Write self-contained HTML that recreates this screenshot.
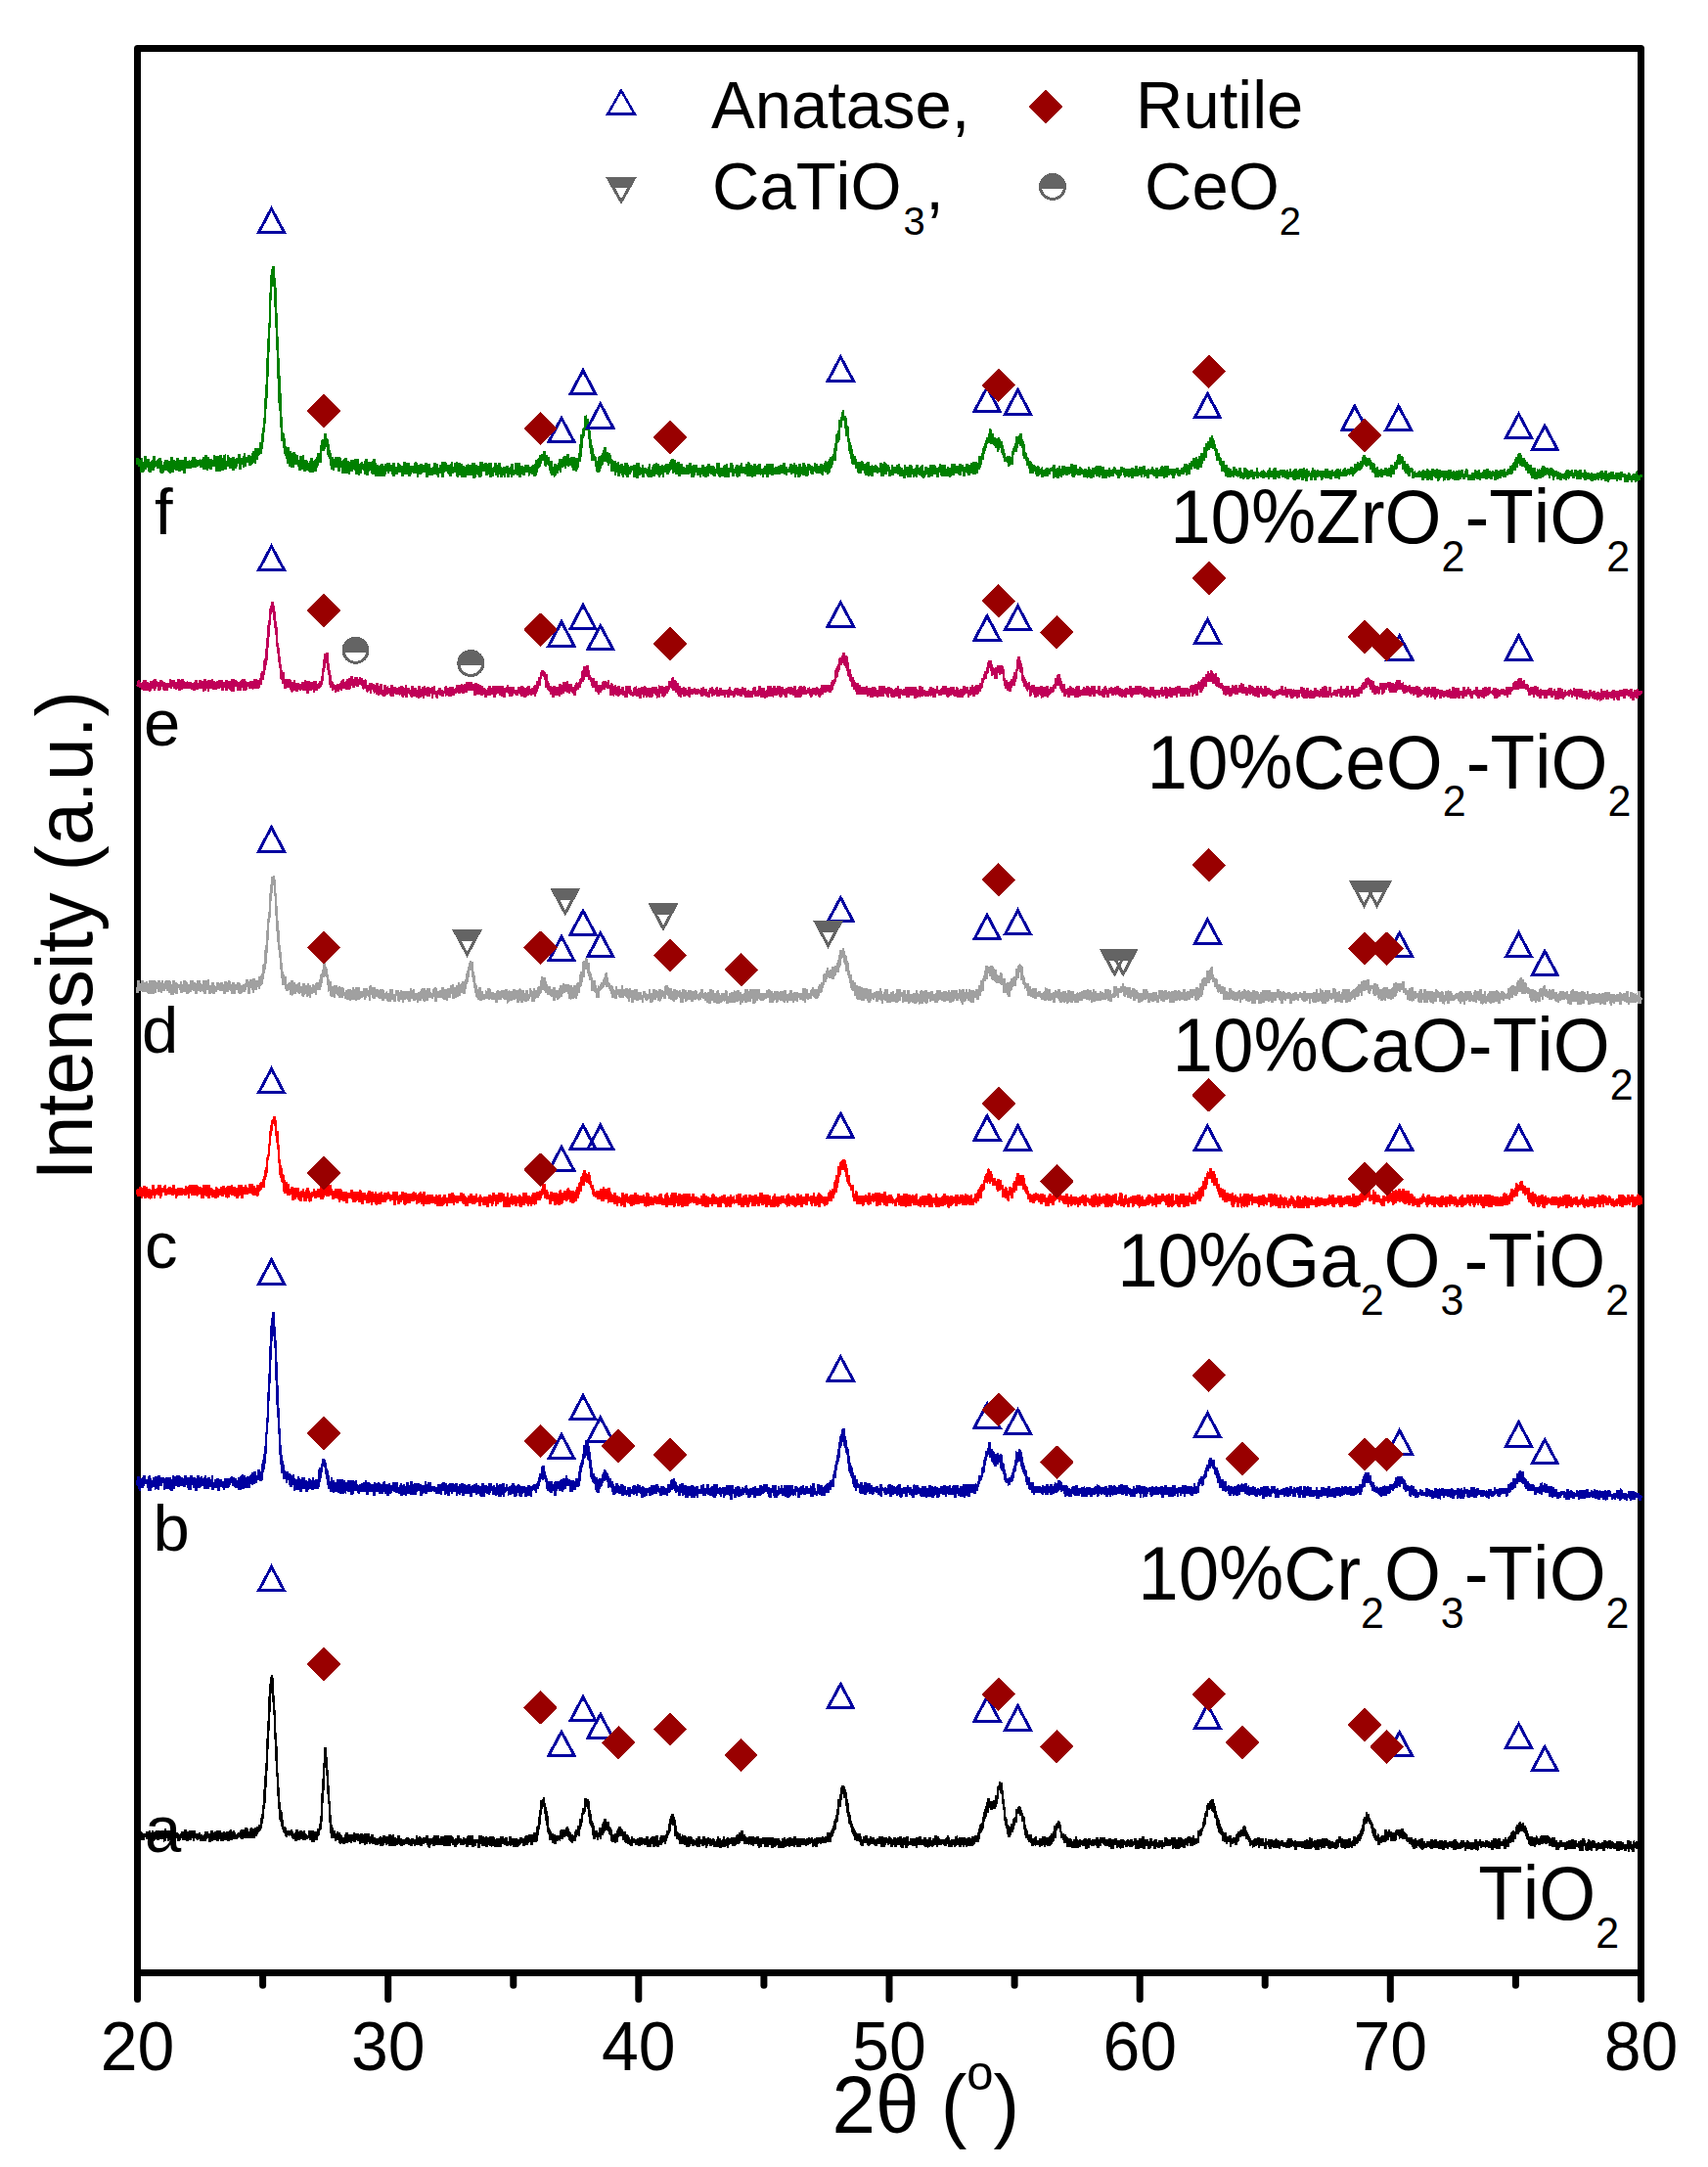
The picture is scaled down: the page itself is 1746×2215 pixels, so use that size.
<!DOCTYPE html>
<html lang="en"><head><meta charset="utf-8"><title>XRD patterns</title>
<style>html,body{margin:0;padding:0;background:#fff}svg{display:block}text{font-family:'Liberation Sans', Arial, Helvetica, sans-serif;fill:#000;font-kerning:none}</style></head><body>
<svg width="1746" height="2215" viewBox="0 0 1746 2215">
<rect x="0" y="0" width="1746" height="2215" fill="#fff"/>
<g stroke="#000" stroke-width="7" fill="none" stroke-linecap="round">
<rect x="140.5" y="49.5" width="1537.0" height="1967.0" stroke-linejoin="round"/>
<line x1="140.5" y1="2016.5" x2="140.5" y2="2043.5"/>
<line x1="268.6" y1="2016.5" x2="268.6" y2="2029.2"/>
<line x1="396.7" y1="2016.5" x2="396.7" y2="2043.5"/>
<line x1="524.8" y1="2016.5" x2="524.8" y2="2029.2"/>
<line x1="652.8" y1="2016.5" x2="652.8" y2="2043.5"/>
<line x1="780.9" y1="2016.5" x2="780.9" y2="2029.2"/>
<line x1="909.0" y1="2016.5" x2="909.0" y2="2043.5"/>
<line x1="1037.1" y1="2016.5" x2="1037.1" y2="2029.2"/>
<line x1="1165.2" y1="2016.5" x2="1165.2" y2="2043.5"/>
<line x1="1293.2" y1="2016.5" x2="1293.2" y2="2029.2"/>
<line x1="1421.3" y1="2016.5" x2="1421.3" y2="2043.5"/>
<line x1="1549.4" y1="2016.5" x2="1549.4" y2="2029.2"/>
<line x1="1677.5" y1="2016.5" x2="1677.5" y2="2043.5"/>
</g>
<g fill="none" stroke-width="2.5" stroke-linejoin="miter" stroke-miterlimit="2" shape-rendering="crispEdges">
<path transform="translate(140.5,0) scale(0.256167,0.1)" vector-effect="non-scaling-stroke" stroke="#000000" d="M0 18813 l1-59 1-6 1-43 1 57 1-9 1-6 1 24 1 3 1-42 1 5 1 12 1 33 1-4 1-53 1 5 1 53 1 24 1-47 1-19 1 52 1-41 1 29 1 24 1-26 1-16 1 19 1-40 1 14 1-11 1 10 1-8 1 9 1-6 1 14 1-1 1 7 1 32 1-86 1 81 1-44 1-29 1 30 1 8 1 28 1-61 1 37 1-3 1-52 1 14 1 52 1 2 1 11 1-16 1-3 1-8 1 31 1-59 1 20 1 16 1-57 1 84 1-61 1 21 1 60 1-82 1 9 1 60 1-76 1 19 1 27 1-2 1 4 1-6 1 29 1-9 1-12 1-37 1-1 1-34 1 74 1-73 1 78 1 28 1-84 1 11 1 6 1 38 1-48 1 21 1-12 1 9 1 45 1-66 1 30 1 5 1 17 1-61 1 70 1-20 1 13 1-24 1-49 1 29 1 42 1-21 1-2 1 53 1 6 1-58 1 56 1-113 1 0 1 83 1-33 1 24 1-2 1-18 1 23 1-15 1-49 1 51 1-1 1 47 1-86 1 34 1-13 1 9 1 51 1-37 1-24 1 17 1 18 1-51 1 21 1 53 1-19 1-26 1-13 1 10 1-40 1 72 1-16 1-6 1-41 1 16 1 35 1-8 1-22 1 29 1 13 1-46 1 5 1-10 1-9 1 57 1-9 1-5 1-43 1 4 1 29 1-10 1 15 1-24 1 39 1 33 1-8 1 2 1-45 1 25 1-37 1 38 1-37 1-4 1-5 1 39 1-12 1-3 1-39 1 37 1-46 1 85 1-46 1 9 1-9 1-43 1 6 1 39 1 44 1-75 1 12 1 19 1-48 1 0 1 37 1 10 1-9 1 56 1-50 1 17 1 36 1 4 1-96 1 36 1 45 1-74 1 13 1-10 1-3 1 7 1 38 1 31 1 7 1-44 1-57 1 57 1-8 1 19 1-14 1-48 1 65 1-71 1 39 1 29 1 0 1 36 1-104 1 68 1 10 1-30 1 29 1-51 1 52 1-4 1-44 1 10 1 14 1-14 1 49 1-25 1 33 1-4 1-32 1-8 1-21 1 4 1 0 1 33 1-35 1 28 1 4 1-20 1 9 1 48 1 5 1-70 1 17 1-6 1 4 1 53 1-25 1 16 1 15 1-65 1 7 1 7 1 29 1-32 1 21 1 15 1 0 1-22 1-36 1-23 1 79 1-20 1-40 1 12 1 2 1-36 1 56 1-30 1 15 1 30 1-24 1 18 1-3 1-12 1 1 1 53 1-60 1 52 1-74 1 48 1-16 1-26 1-37 1 104 1-79 1 6 1 32 1-3 1 7 1-16 1-36 1 69 1-51 1 33 1 10 1 17 1-41 1-3 1 3 1-48 1 32 1-8 1-4 1 38 1-15 1 55 1-3 1-99 1 58 1-33 1 46 1-11 1 23 1-19 1 14 1-32 1-49 1 24 1 10 1 11 1-15 1 76 1-53 1 43 1-48 1 58 1-84 1 53 1-57 1 51 1 34 1-94 1 23 1 32 1-13 1-34 1 73 1-33 1 37 1-29 1-43 1 20 1 54 1-80 1 26 1 31 1 12 1-6 1-67 1 101 1-64 1 6 1 0 1-7 1-22 1 18 1 48 1-78 1-20 1 74 1-7 1 12 1 30 1-72 1 26 1 9 1 21 1-6 1-55 1-16 1 32 1-39 1 80 1-44 1 1 1-16 1 71 1-37 1-20 1 30 1-21 1 21 1 21 1-46 1 23 1-2 1 20 1-16 1-17 1-20 1 28 1-41 1 50 1-17 1 15 1-32 1-8 1-4 1 60 1-40 1-1 1-46 1 51 1-58 1 99 1-48 1 9 1-44 1 10 1 50 1-24 1 19 1 24 1-19 1-76 1 27 1-4 1 6 1-33 1 1 1 37 1 3 1 33 1-25 1 52 1-97 1 12 1 48 1-15 1-22 1 52 1 8 1 5 1-51 1 11 1 7 1-6 1 28 1-46 1 24 1-71 1 81 1 26 1-51 1 32 1-83 1 40 1-38 1 55 1 6 1-58 1 15 1 6 1 78 1-64 1 5 1 6 1-3 1-19 1-34 1 18 1 69 1-44 1-22 1-32 1 37 1 1 1-24 1 45 1-50 1 9 1 27 1-23 1 23 1-47 1-12 1 22 1-14 1 24 1-34 1-22 1 5 1-5 1-68 1 17 1-20 1 33 1-73 1 30 1-96 1 15 1 11 1-72 1 17 1-137 1 34 1-32 1-49 1-88 1 30 1-138 1 55 1-72 1-28 1-96 1-85 1-34 1-55 1-19 1-89 1-30 1-52 1-19 1-178 1 10 1-4 1-41 1-83 1-19 1-18 1-9 1-37 1-7 1-14 1 40 1 84 1-65 1 103 1 73 1-24 1 111 1-30 1 120 1-10 1 12 1 114 1 112 1-32 1 94 1 3 1 59 1 101 1 30 1 75 1 72 1-40 1 61 1 67 1 103 1-39 1 28 1 63 1 80 1-55 1 34 1 34 1 44 1 58 1-84 1 4 1 73 1 26 1-69 1 57 1 60 1-37 1 40 1-2 1 22 1 0 1 0 1 35 1-52 1 26 1 34 1-49 1 9 1-8 1-3 1 89 1-41 1 45 1-32 1-18 1-9 1 18 1-7 1 30 1-52 1 34 1 10 1-20 1 1 1 25 1 2 1-19 1 4 1-16 1 34 1-19 1-42 1 39 1 29 1-10 1-34 1 50 1-4 1 1 1 28 1-54 1 28 1-25 1 38 1 7 1-20 1 8 1-45 1 43 1-54 1 95 1-24 1-80 1-16 1 100 1-63 1 41 1-56 1 42 1-22 1 38 1-27 1 54 1-66 1 61 1-39 1 17 1-63 1-4 1 82 1-67 1 26 1 2 1-18 1 33 1-47 1 7 1 63 1-52 1 47 1-3 1 26 1-31 1-67 1 35 1 7 1 49 1-26 1-25 1 28 1-24 1 28 1-12 1 28 1-22 1 19 1-29 1 21 1-26 1 24 1-13 1-11 1-8 1 4 1 22 1-73 1 97 1-95 1 54 1-5 1 31 1-15 1-9 1 2 1 26 1 30 1-48 1-72 1 47 1 25 1 46 1-83 1 11 1 27 1-7 1-51 1 68 1-69 1 31 1 47 1-81 1 28 1 59 1-60 1-26 1 12 1 40 1-76 1 25 1-29 1 4 1 69 1-49 1-19 1 17 1-47 1-29 1 58 1-27 1-75 1 25 1-4 1-63 1-34 1-95 1-6 1-102 1 53 1-92 1 1 1-123 1 7 1-134 1-4 1-7 1-40 1-40 1-73 1 101 1-18 1 33 1 25 1-20 1 68 1 102 1-51 1 94 1 18 1 129 1-4 1 6 1 59 1 15 1 20 1 34 1 73 1 14 1 67 1-10 1 53 1 65 1-78 1 11 1 79 1 39 1-81 1-19 1 49 1 1 1 39 1-51 1 27 1 0 1-37 1 3 1 63 1 4 1-39 1 74 1-19 1-13 1 6 1-6 1 11 1 5 1-23 1-60 1 55 1-19 1-10 1 54 1-70 1 79 1-43 1-18 1 11 1 85 1-14 1-53 1 40 1 22 1-79 1 18 1 37 1-16 1-22 1 60 1-32 1 8 1 36 1-44 1 44 1-49 1-15 1 9 1 23 1-6 1-9 1-55 1 12 1 24 1 30 1 22 1-101 1 54 1-9 1 10 1 10 1-31 1-14 1 70 1-7 1-36 1 9 1-18 1-21 1 61 1-40 1-14 1 16 1 66 1-35 1-6 1-4 1 23 1-3 1-61 1 32 1-12 1 25 1-9 1-55 1 92 1-26 1-59 1 85 1-30 1 10 1-13 1 4 1-19 1-34 1 31 1 23 1-5 1 19 1-22 1-53 1 78 1-45 1-16 1 30 1-30 1 51 1-38 1 86 1-65 1-9 1-3 1-36 1 30 1 4 1 12 1-45 1 57 1 37 1-51 1 12 1 13 1-36 1 11 1 41 1-22 1-42 1-17 1 112 1-46 1-60 1 51 1 16 1-17 1-59 1 109 1-35 1-23 1 26 1-26 1-4 1 36 1-83 1 87 1-17 1 10 1 4 1 20 1-4 1-15 1-37 1 32 1-33 1-14 1 42 1-2 1 24 1-93 1 77 1 2 1-16 1 41 1-70 1 35 1-20 1 10 1-27 1 24 1 24 1-15 1 7 1-32 1 70 1-68 1 22 1 16 1-23 1 28 1-17 1 45 1-34 1-5 1-34 1 37 1 16 1-17 1-39 1 11 1 9 1 8 1-41 1 95 1-58 1 6 1-16 1 12 1 58 1-84 1 13 1-16 1 14 1 61 1-62 1 5 1-40 1 42 1 17 1-21 1 3 1 35 1-7 1-18 1-21 1-21 1 93 1-94 1 65 1-24 1-16 1 47 1-47 1 58 1-66 1 44 1 23 1-65 1 84 1-31 1-84 1 100 1 15 1-63 1 1 1 17 1-66 1 60 1 22 1-43 1 48 1 25 1-114 1 5 1 32 1 40 1-8 1-38 1-6 1 13 1 71 1-76 1 11 1 45 1-36 1-21 1 70 1-32 1-29 1 8 1 38 1-37 1 19 1 19 1 3 1-82 1 40 1 5 1 13 1 19 1 12 1-48 1-18 1 37 1-23 1 68 1-40 1-9 1 27 1-48 1 9 1 5 1 24 1 19 1-15 1 0 1-29 1 18 1-17 1 40 1-51 1 16 1 9 1 15 1-44 1 15 1-17 1-15 1 70 1-18 1-57 1 15 1 45 1-34 1-13 1 66 1-50 1 4 1 27 1-36 1 21 1 4 1 17 1-43 1 53 1-21 1 42 1-45 1-23 1 0 1-17 1 32 1-1 1 28 1-23 1-27 1 55 1-42 1 19 1 34 1-6 1-57 1 18 1 41 1-9 1-13 1 10 1-84 1 50 1-33 1 23 1 7 1 25 1 20 1-11 1-15 1-19 1 47 1-29 1-58 1 49 1 15 1-42 1 34 1 38 1-52 1 6 1 1 1-27 1 14 1-16 1 20 1-14 1 51 1-32 1 28 1-61 1 36 1 17 1 4 1-38 1 14 1 6 1-14 1-2 1 28 1-50 1-18 1 39 1 23 1-63 1 94 1-36 1 14 1-41 1 23 1 54 1 1 1-36 1-26 1 5 1 41 1-59 1-6 1 23 1 30 1-58 1 41 1 1 1-7 1-8 1 31 1-11 1-59 1 90 1-33 1-5 1-19 1 2 1-46 1 47 1 24 1 0 1-36 1-36 1 22 1 24 1 46 1-83 1 47 1 17 1 1 1-21 1-52 1 72 1-14 1 13 1-44 1 13 1 57 1-45 1 3 1-21 1 58 1-85 1 33 1 28 1-14 1 27 1-13 1 30 1-49 1 2 1 12 1-60 1 93 1-66 1 59 1 9 1-12 1-23 1-25 1-38 1 73 1-24 1 56 1-58 1 26 1-30 1 25 1-23 1 5 1-50 1 34 1 16 1 41 1-28 1-44 1 83 1-37 1 23 1-58 1-31 1 35 1-8 1 38 1-53 1 19 1-13 1 44 1-32 1 67 1-17 1 1 1-30 1 13 1 18 1-50 1 61 1-39 1 39 1 21 1-12 1-77 1 67 1-44 1-2 1 5 1-28 1 41 1-28 1 53 1-23 1-67 1 29 1-1 1 9 1 1 1 25 1-10 1-27 1 44 1 15 1-27 1 34 1-22 1-28 1 5 1 11 1 16 1-10 1 24 1 5 1-64 1-5 1 30 1 17 1 13 1-9 1 0 1-44 1 37 1-30 1 31 1 14 1-46 1 13 1 64 1-80 1 8 1-17 1-11 1 70 1-47 1 2 1-5 1-34 1 79 1-37 1 14 1 41 1-44 1 8 1 1 1 32 1-77 1 23 1-41 1 59 1 17 1-30 1 70 1-29 1 29 1-53 1 48 1-68 1 28 1-7 1-16 1 61 1-10 1-58 1 40 1-17 1 3 1 13 1-32 1 20 1 3 1-26 1 3 1 40 1-25 1 55 1 0 1-77 1 29 1-68 1 40 1-9 1 4 1-36 1 66 1-4 1-28 1 21 1 29 1 19 1-85 1 85 1-96 1 27 1 12 1 56 1-27 1 0 1 29 1-38 1-19 1 55 1-49 1-30 1-13 1 55 1 49 1-32 1-20 1 35 1-78 1 55 1-28 1 55 1-64 1 48 1-18 1-5 1 20 1-24 1 46 1-49 1-51 1 99 1-2 1-24 1 25 1-21 1-44 1-33 1 27 1 22 1 24 1-57 1 15 1 71 1-65 1-1 1-6 1 75 1-24 1 3 1 23 1-21 1 11 1-28 1 14 1-7 1 2 1-54 1 28 1-3 1-8 1 18 1 53 1-26 1-25 1 7 1 31 1-76 1 46 1 37 1 4 1-26 1-10 1-69 1 33 1 19 1 12 1 0 1-68 1 42 1 23 1-30 1 16 1 21 1-6 1-4 1 16 1 11 1-41 1-22 1 10 1 6 1 14 1-42 1 21 1 15 1 48 1-25 1-19 1 30 1-21 1 2 1 24 1-21 1-6 1 17 1-37 1 17 1-58 1 45 1 56 1-55 1 10 1-12 1-18 1 44 1-16 1 33 1-57 1 27 1-11 1-7 1 49 1-53 1 0 1 79 1-60 1-4 1 19 1-42 1 39 1-44 1 20 1-3 1 55 1-21 1 35 1-6 1-69 1 36 1-28 1-6 1 53 1 7 1-39 1 6 1-2 1 0 1 1 1-40 1 47 1-39 1-15 1 31 1 12 1 16 1-14 1-2 1-29 1 31 1-5 1 2 1-30 1 71 1-28 1-3 1-17 1-11 1 35 1-67 1 25 1 5 1 25 1-26 1 51 1-94 1 97 1-37 1 18 1-43 1 44 1-40 1 17 1-51 1 59 1-13 1-60 1 53 1-7 1 33 1-44 1 25 1 31 1-64 1 81 1-49 1-14 1-34 1-14 1 80 1-44 1-6 1 48 1-13 1-18 1-51 1-17 1 84 1-34 1-11 1 62 1-75 1 17 1 44 1-49 1-43 1-18 1 54 1-86 1 53 1 12 1-66 1 15 1-39 1 27 1-52 1-48 1 16 1-25 1-43 1-6 1-50 1-6 1 33 1-97 1 57 1-21 1-30 1 59 1-29 1-44 1 29 1 27 1-74 1 69 1-4 1 35 1 67 1-70 1 26 1-10 1 63 1 32 1-67 1 130 1 21 1-98 1 31 1 78 1 2 1 47 1-33 1 61 1-73 1 65 1-18 1 7 1-32 1 49 1 60 1-56 1 17 1 15 1-30 1 40 1 11 1-21 1-47 1 103 1-42 1-2 1-4 1-11 1-32 1 49 1 7 1 25 1 19 1-71 1 70 1-46 1 15 1-48 1 39 1-39 1 47 1-58 1 38 1-15 1 22 1-5 1-4 1-21 1 39 1-11 1-42 1 44 1-44 1 19 1-8 1-3 1 24 1-82 1 91 1-96 1 89 1-24 1-67 1 54 1-24 1-29 1 71 1-5 1-25 1 38 1-48 1-14 1 48 1-64 1 47 1 10 1-28 1-3 1 12 1-6 1-28 1-42 1 52 1-28 1 78 1-42 1 24 1 18 1 12 1-57 1 87 1-26 1-6 1-45 1 87 1-34 1 17 1-41 1 67 1-9 1-47 1 61 1-87 1 60 1-6 1 2 1-43 1 12 1 39 1 3 1-35 1-8 1-9 1 56 1-47 1-13 1-43 1 0 1 17 1-31 1 45 1-2 1-26 1 13 1 4 1-58 1 70 1-90 1 114 1-114 1 38 1-21 1 14 1-47 1 30 1-78 1 63 1-46 1 10 1 8 1-85 1 6 1-18 1 7 1-4 1 5 1-29 1-25 1 12 1 6 1-13 1 24 1-95 1 23 1-58 1 18 1 41 1 21 1-58 1 35 1-9 1 19 1-2 1-15 1-41 1 26 1 73 1-4 1 80 1-51 1 43 1-56 1 7 1 64 1 61 1-29 1-10 1 35 1 19 1 6 1-2 1-23 1 8 1 29 1 21 1-28 1 99 1-25 1-28 1 46 1 43 1-49 1 4 1 28 1-69 1 27 1-4 1 49 1-72 1 63 1-23 1 6 1-8 1 62 1-71 1-11 1 44 1-28 1 31 1-20 1 1 1-2 1-57 1-13 1 117 1-102 1 47 1-55 1 26 1-12 1 49 1-58 1-47 1-2 1 48 1 12 1 30 1-6 1-112 1 37 1-38 1 44 1 15 1-85 1 84 1-5 1-30 1-9 1 74 1-54 1-26 1 42 1 35 1-6 1-77 1 25 1 35 1 24 1 6 1-37 1 73 1-7 1-57 1 24 1 32 1-38 1 52 1 9 1-15 1 34 1 41 1-72 1 38 1-25 1 61 1-6 1-36 1-18 1 43 1-26 1-34 1 6 1 25 1 64 1-28 1 7 1-15 1 11 1 1 1-81 1 48 1-2 1-7 1-6 1-77 1 63 1-51 1 67 1-48 1 4 1 3 1-62 1 54 1-34 1 68 1-45 1-18 1 74 1-45 1-18 1 28 1 0 1 17 1-34 1 67 1-19 1 44 1-28 1-42 1 66 1-36 1 15 1-60 1 26 1 82 1-4 1-82 1 64 1 3 1 28 1-67 1-18 1 62 1-28 1 4 1-9 1 64 1-60 1 54 1-9 1-37 1 49 1 9 1-26 1-17 1 30 1-44 1 36 1 31 1-83 1-14 1 74 1-47 1 12 1 18 1-23 1 22 1-33 1 13 1 14 1 19 1-29 1 22 1 8 1-4 1-17 1 41 1-60 1 53 1-2 1-2 1-40 1 43 1-14 1-46 1 24 1-28 1 48 1 30 1-13 1-56 1 0 1 24 1 1 1 26 1-31 1 42 1-47 1 46 1-72 1 27 1 17 1 23 1-10 1-40 1-13 1 37 1-1 1-8 1 10 1-38 1 53 1 14 1-55 1 1 1 60 1-5 1-53 1 3 1-31 1 64 1-8 1-5 1 56 1-61 1 1 1 11 1-12 1 37 1-37 1 9 1 53 1-73 1-19 1 39 1-22 1-1 1 24 1 19 1-69 1 38 1-53 1 85 1-56 1 49 1 33 1-13 1-27 1-70 1 112 1-67 1 35 1-38 1 8 1 53 1-94 1 12 1 27 1 40 1-90 1 95 1-48 1 31 1 38 1-43 1 16 1 8 1-49 1 13 1-10 1 11 1-15 1-8 1-3 1 40 1-61 1 40 1 38 1-82 1-11 1 70 1-44 1 2 1 39 1-11 1-29 1 9 1-36 1 25 1 12 1 16 1 0 1 31 1-57 1 28 1-25 1-43 1 34 1-4 1 4 1-12 1-19 1-39 1 9 1 8 1 2 1-6 1-24 1-2 1 13 1-50 1-35 1-39 1 35 1 9 1-41 1 51 1-81 1 11 1 7 1-40 1 73 1-53 1-8 1-14 1 96 1 20 1-63 1-3 1 42 1 25 1-4 1 43 1-37 1 106 1-41 1 30 1-34 1 50 1 29 1-65 1 32 1 33 1-12 1-33 1 16 1 35 1-4 1-26 1 32 1-66 1 63 1 28 1 0 1-38 1 21 1 0 1-9 1-19 1-18 1 24 1-18 1-20 1 91 1-78 1 23 1 1 1-32 1 59 1-59 1 100 1-91 1 17 1 18 1 1 1 4 1 34 1 8 1 24 1-93 1 67 1-10 1-29 1-28 1 94 1-19 1-86 1 96 1-31 1-7 1 17 1-41 1 14 1 32 1-62 1-5 1-9 1 71 1-53 1 21 1-5 1 32 1-7 1-34 1 64 1-28 1-2 1-23 1 4 1 3 1 8 1 11 1 1 1-20 1 3 1 25 1 14 1 1 1-37 1-36 1 41 1 0 1-2 1 12 1-29 1 18 1-62 1 110 1-51 1-9 1 24 1-22 1-14 1 46 1-23 1-21 1 40 1-7 1-2 1-19 1 40 1-58 1 50 1 20 1-70 1 32 1-58 1 53 1-51 1 11 1 45 1 25 1-16 1-21 1-16 1 24 1 56 1-16 1-80 1 19 1-21 1 59 1-25 1-36 1 39 1-9 1-16 1 20 1 35 1-53 1 17 1-31 1 28 1 52 1-24 1-37 1 3 1 53 1-40 1-10 1 47 1-44 1-9 1 33 1-49 1 25 1-11 1 27 1-8 1 57 1-33 1-19 1 16 1-22 1 15 1 9 1-5 1 27 1-23 1-37 1 28 1-40 1 88 1-109 1 50 1 18 1-42 1 14 1 43 1-65 1 62 1-33 1-4 1 67 1-34 1-11 1-18 1 13 1-11 1 57 1-47 1-27 1 8 1 26 1-43 1 10 1-25 1-13 1 114 1-61 1 57 1-34 1-7 1-40 1 31 1 5 1-30 1 47 1 16 1-22 1-7 1-55 1 104 1-33 1-56 1 0 1 14 1-9 1 30 1-27 1 29 1-17 1 6 1-27 1 40 1 3 1-32 1-25 1 49 1-54 1 29 1 35 1 23 1-45 1 18 1 28 1-69 1 18 1 20 1 30 1-75 1-1 1 62 1 6 1-55 1 19 1 25 1-36 1-52 1 60 1 20 1-68 1 74 1-51 1-47 1 58 1-56 1 84 1-29 1 37 1-108 1 52 1 37 1-10 1-19 1-10 1 7 1 9 1 23 1-110 1 23 1 14 1 24 1 7 1-22 1 11 1 28 1 15 1-57 1 19 1 12 1 60 1-76 1 32 1-6 1-11 1 44 1-28 1-10 1 20 1 8 1-26 1-1 1 56 1-49 1 46 1-31 1-19 1-8 1-16 1 70 1-1 1-31 1-19 1 17 1 20 1 32 1-56 1-29 1 56 1-17 1-14 1-29 1 70 1 25 1-71 1-13 1 28 1 8 1 24 1-13 1-52 1 57 1 0 1-24 1 24 1-49 1 29 1-29 1 39 1 22 1-76 1 53 1 21 1-14 1 41 1-48 1 64 1-59 1-37 1 31 1-16 1 55 1 12 1 2 1-27 1-26 1-13 1-15 1 53 1-56 1 29 1 14 1 6 1-53 1 4 1 2 1 58 1-57 1 6 1 45 1 9 1 28 1-55 1 28 1-78 1 70 1 7 1 3 1-41 1 55 1 6 1-46 1 1 1-11 1 1 1 8 1-36 1-3 1 31 1-7 1 43 1-33 1-22 1-22 1 41 1-20 1-21 1 107 1-110 1 104 1 9 1-54 1-16 1 32 1-45 1 31 1 16 1-59 1 81 1-42 1 6 1 30 1-79 1 4 1 45 1 2 1-18 1 3 1-3 1-22 1-9 1 16 1 25 1 9 1-48 1 87 1 7 1-52 1-29 1 18 1 28 1-26 1 57 1-64 1 35 1-12 1 44 1-45 1 2 1-38 1 17 1-31 1 95 1-55 1-8 1 6 1 11 1 4 1-68 1 89 1-36 1-3 1 55 1-45 1-31 1-2 1 48 1-21 1 3 1-42 1 43 1-24 1-4 1 61 1-30 1-17 1 37 1 25 1-99 1 72 1-19 1-9 1 42 1-16 1-37 1 49 1-42 1 4 1-38 1 39 1 16 1-27 1 11 1 36 1-41 1-15 1 67 1-70 1-38 1 20 1 29 1-28 1 3 1 19 1 8 1-2 1 8 1 31 1 26 1-22 1-15 1-40 1 24 1-34 1 31 1-32 1 63 1 25 1-29 1 30 1-90 1 58 1-29 1 8 1-37 1 29 1-2 1-17 1 53 1-11 1 14 1-51 1-3 1-14 1 57 1 5 1-29 1-21 1 25 1 11 1 2 1-23 1 40 1 5 1-64 1 36 1-7 1-40 1 21 1 23 1 28 1-56 1 9 1 5 1-6 1-30 1 66 1-31 1 21 1 6 1-33 1-15 1 8 1 6 1-10 1 16 1-34 1 28 1-5 1 24 1 7 1 39 1-18 1-15 1-19 1 1 1 9 1-18 1 8 1-27 1 35 1-38 1 12 1-2 1 72 1-53 1 24 1-65 1 53 1-25 1 36 1-39 1-23 1 55 1-21 1-40 1 36 1-26 1 48 1-18 1 6 1-39 1 67 1-56 1 24 1-16 1 10 1-38 1 38 1 9 1-49 1 68 1-61 1 12 1-3 1 53 1-49 1 2 1 22 1-6 1 28 1-47 1-6 1-6 1-1 1 43 1-8 1-26 1 5 1-58 1 83 1-13 1-77 1 43 1 11 1 45 1-38 1 27 1 7 1-28 1-54 1-15 1 28 1 28 1-15 1-57 1 57 1-55 1 11 1 36 1-34 1-27 1-15 1 18 1-1 1-22 1-29 1 31 1 1 1-72 1 45 1-52 1 1 1 27 1-82 1 23 1 45 1-21 1-78 1-30 1 62 1-47 1-13 1-73 1 39 1-68 1 28 1 56 1-33 1-1 1-64 1 0 1-37 1 66 1-90 1-39 1 25 1 45 1-57 1 21 1-56 1 25 1-21 1 7 1 33 1 33 1 51 1-38 1-48 1 10 1-3 1 57 1-17 1 37 1-17 1 102 1-48 1 48 1-20 1 88 1-97 1 79 1 42 1-31 1 45 1-19 1 51 1-24 1 70 1-94 1 87 1-29 1 14 1 42 1-27 1 8 1 48 1-45 1 35 1 48 1-51 1 70 1-64 1 47 1 2 1-40 1 72 1-63 1 91 1 9 1-62 1 26 1-6 1-34 1 21 1 26 1 5 1 40 1-50 1-1 1 40 1 5 1-29 1 15 1-22 1 13 1-55 1 11 1 79 1-45 1-12 1 48 1 42 1-25 1-18 1-11 1 55 1-2 1-43 1-16 1 15 1 13 1-20 1-10 1-3 1-25 1 35 1 16 1-47 1 14 1 54 1-52 1 35 1-43 1-24 1 67 1 8 1-12 1-8 1 45 1-51 1-15 1 31 1 23 1-20 1 20 1 16 1-68 1 20 1-4 1 25 1-64 1 74 1-68 1 52 1-21 1-3 1 29 1-53 1 53 1-27 1-30 1 68 1-64 1 54 1-30 1 1 1 51 1-31 1-15 1 32 1-38 1 60 1-63 1 33 1-31 1 37 1-46 1 23 1 23 1-57 1 32 1 18 1-27 1 4 1 31 1 5 1-70 1 19 1-29 1 54 1 19 1-43 1-11 1 48 1-27 1 74 1-16 1-96 1 73 1-1 1 2 1-22 1-40 1 44 1-18 1 66 1-34 1 19 1-66 1 30 1-6 1-19 1 12 1-31 1 48 1-30 1 30 1 7 1-18 1-13 1 42 1 0 1-37 1 44 1-82 1 57 1 9 1-15 1-45 1 47 1 27 1-17 1-45 1 40 1 48 1-14 1 7 1-44 1 23 1-22 1-1 1-28 1 31 1 29 1-25 1-56 1 69 1-48 1 47 1-38 1 68 1-51 1 35 1-71 1 36 1 9 1-44 1 23 1 1 1 18 1-1 1-49 1 81 1-16 1-35 1 45 1-36 1-9 1-22 1-17 1 64 1 24 1-14 1 0 1 38 1-98 1 63 1 38 1-61 1 60 1-64 1-7 1-38 1 70 1 9 1-7 1-11 1 14 1-26 1-44 1 58 1 8 1 40 1-68 1 16 1-54 1 0 1 17 1 75 1-37 1-2 1-17 1 22 1 18 1-8 1-19 1 8 1 7 1 9 1-10 1-18 1-32 1 44 1-3 1-4 1-9 1-21 1 63 1-49 1 16 1-12 1-22 1 55 1-64 1 44 1-12 1 13 1-30 1 58 1 7 1-17 1-33 1-25 1 96 1-113 1 21 1 44 1 5 1-49 1 46 1-53 1 60 1-9 1-11 1 31 1-22 1-65 1 79 1-15 1 19 1-34 1 28 1-30 1 22 1 13 1-42 1-1 1 19 1 21 1-12 1-5 1 14 1-8 1-40 1 67 1-2 1-6 1-79 1 84 1-67 1 31 1-6 1 53 1-19 1-28 1 14 1-31 1-14 1 49 1 3 1-20 1 44 1 6 1-63 1 20 1 7 1-68 1 87 1-5 1-17 1-12 1-11 1 50 1-57 1 30 1-14 1 40 1 5 1-38 1-3 1-36 1 5 1 40 1 2 1-11 1-35 1 6 1-31 1 52 1-53 1 1 1 25 1 55 1-62 1 52 1 37 1-36 1-4 1-51 1 25 1-39 1 65 1-3 1 25 1-38 1 8 1-34 1 37 1 22 1-20 1 8 1-20 1 11 1-10 1-28 1 22 1 24 1-11 1-14 1-21 1 39 1-29 1 9 1 24 1 12 1-47 1 5 1 33 1-30 1 58 1-22 1-25 1-34 1 55 1-19 1-48 1 17 1 20 1 24 1-75 1 53 1 8 1 55 1-51 1-2 1-6 1 10 1 7 1-24 1 21 1 39 1-60 1 24 1 37 1-76 1 21 1-18 1 42 1 8 1-18 1-14 1-2 1 8 1 27 1-21 1 33 1 14 1-65 1 56 1-10 1-39 1-56 1 30 1 48 1-74 1 91 1-62 1 32 1-26 1 6 1 18 1-42 1 27 1-8 1 36 1-51 1 89 1-10 1-84 1-2 1 21 1 25 1 8 1 2 1 5 1-27 1-32 1 6 1 16 1-12 1 82 1-72 1 48 1-14 1-46 1-16 1 29 1 18 1-18 1 41 1-49 1 0 1 27 1 49 1-35 1 30 1-65 1 44 1-18 1 43 1-67 1 17 1-30 1-9 1 54 1-6 1-44 1 55 1-31 1 4 1 53 1-31 1 10 1 12 1-35 1-19 1 51 1 6 1-93 1 17 1 1 1-1 1 60 1-47 1 1 1 12 1 9 1-19 1 9 1-54 1 42 1-29 1 20 1 36 1-30 1-16 1 37 1 12 1-39 1-43 1 61 1-47 1-34 1 36 1-41 1-3 1-25 1-2 1 45 1-89 1 72 1 0 1-12 1-32 1-43 1 28 1 12 1 12 1-48 1-73 1 27 1-21 1 43 1-18 1-18 1-23 1-60 1 38 1 32 1-75 1-6 1-25 1 20 1 16 1-78 1 63 1-51 1 96 1-88 1 19 1-73 1 84 1-30 1-18 1 60 1-51 1-9 1 61 1-61 1 38 1-39 1-11 1 87 1-35 1 24 1 0 1-26 1 15 1-30 1 0 1 30 1-76 1 60 1-33 1 28 1-38 1 73 1-26 1-50 1 36 1-95 1 6 1 56 1 26 1-68 1 14 1-31 1 35 1-84 1-48 1 15 1 19 1 5 1-49 1 53 1-94 1 56 1-41 1 21 1 0 1 63 1 26 1-107 1 67 1 37 1-24 1 43 1 21 1 48 1-31 1 72 1-13 1 29 1-3 1 37 1 25 1 79 1-15 1-2 1 8 1-15 1 73 1-58 1 26 1 60 1-36 1-2 1 97 1-85 1 26 1-25 1 50 1 31 1 31 1-18 1-22 1-17 1 36 1-39 1 19 1-65 1 58 1-63 1 27 1-49 1 11 1 79 1-44 1-47 1 61 1-109 1 52 1-45 1 48 1 0 1-45 1-13 1-19 1 44 1-34 1 45 1-62 1-14 1-47 1-10 1 47 1-38 1 37 1-20 1-43 1 2 1 46 1-7 1-1 1-56 1 37 1-29 1 93 1-67 1 17 1-2 1-10 1 54 1-26 1 32 1 24 1-5 1-1 1 43 1-9 1-29 1-16 1 35 1 52 1 47 1-51 1 33 1-28 1 66 1 39 1-73 1 36 1 68 1-69 1-5 1 32 1 17 1-12 1 11 1 40 1-57 1 66 1-48 1 51 1 12 1-31 1-15 1-17 1-6 1 64 1-70 1 51 1-10 1 43 1-43 1 56 1-42 1 64 1-69 1 0 1-16 1 65 1-46 1 41 1-40 1-27 1 81 1-5 1-45 1 39 1-82 1 77 1-30 1 17 1-14 1 13 1-10 1-8 1 11 1 10 1 19 1-19 1-24 1 13 1-5 1 64 1-91 1 42 1-39 1 48 1-31 1 18 1-18 1 41 1 11 1-17 1 7 1-13 1-68 1 26 1 39 1-21 1-30 1-15 1 36 1 67 1-73 1 60 1-56 1 45 1-10 1-41 1 5 1 1 1 36 1-62 1 42 1-17 1 67 1-86 1 46 1-5 1 35 1-13 1-75 1 94 1-63 1 24 1-72 1 98 1-44 1-2 1-18 1 45 1-96 1 47 1-26 1 18 1 44 1-78 1 17 1-39 1 55 1-32 1 31 1 13 1-122 1-7 1 30 1 17 1-35 1 38 1-27 1-47 1 37 1-33 1-13 1 32 1-4 1 32 1-67 1-3 1 76 1-25 1 10 1 2 1-34 1 17 1 55 1 2 1-3 1 39 1 28 1-43 1 31 1 18 1-28 1 4 1-23 1 70 1-15 1-5 1-20 1 54 1-75 1 71 1 16 1-34 1-27 1 1 1 57 1-27 1 27 1-41 1-13 1 93 1-85 1 50 1 11 1-32 1 10 1 4 1 41 1-51 1 18 1 35 1-77 1-5 1 39 1-8 1 34 1-3 1-25 1 22 1-26 1 57 1-17 1-36 1 54 1-45 1 21 1-49 1-7 1 81 1-60 1-16 1 5 1 46 1-38 1-14 1-37 1 40 1 30 1-21 1-4 1 70 1-34 1-31 1 30 1-42 1 45 1 27 1-51 1 44 1-50 1-26 1 29 1 3 1 30 1-20 1-23 1 7 1 11 1 15 1-44 1 11 1 16 1-25 1 59 1-31 1-32 1 8 1 55 1-46 1-13 1 47 1 12 1-77 1 53 1 43 1 6 1-26 1-11 1-53 1 54 1-35 1 5 1 30 1-41 1 9 1 65 1-33 1-66 1 25 1-11 1 42 1-39 1 27 1 5 1 13 1-11 1 3 1-7 1-23 1 50 1-25 1-23 1-15 1 40 1 25 1-22 1-42 1 22 1-17 1 20 1 32 1-18 1-6 1-13 1 4 1 15 1-57 1 41 1-43 1 83 1-58 1 55 1-68 1 91 1-25 1-16 1-15 1 1 1-1 1 34 1-9 1 10 1-39 1 5 1-39 1-7 1 57 1-23 1 21 1-7 1-4 1 6 1-53 1 47 1 15 1-9 1 10 1-62 1 75 1-6 1 0 1-8 1 7 1 13 1-37 1 9 1 17 1-52 1 53 1-36 1 6 1-5 1 25 1-40 1 68 1-51 1-6 1 63 1-41 1-44 1 47 1 22 1 17 1-12 1-28 1 60 1-62 1-42 1 100 1-14 1-13 1 31 1-30 1-26 1 11 1-34 1 36 1-34 1-4 1-18 1 42 1 17 1-30 1-36 1 20 1 23 1-5 1-6 1-18 1 80 1-44 1 8 1-6 1-35 1 68 1-51 1 10 1-13 1-17 1 37 1-28 1 25 1 10 1 36 1-85 1 83 1 4 1-60 1 19 1 26 1-59 1 72 1-87 1 57 1-13 1-27 1 4 1 19 1-9 1 3 1-4 1 32 1-14 1-3 1 5 1 1 1 27 1-34 1 4 1-23 1-19 1 15 1 14 1-30 1 66 1-57 1 31 1-23 1 25 1 16 1 16 1-71 1 61 1-46 1 57 1-77 1 20 1 16 1 37 1-32 1 28 1-20 1 13 1-28 1-4 1 10 1-2 1-11 1 1 1-42 1 7 1 21 1 8 1-19 1 90 1-83 1 39 1 14 1-47 1 37 1-17 1-23 1 50 1 6 1 29 1-26 1-61 1 61 1-78 1 36 1-46 1 76 1-20 1 49 1-25 1-37 1 28 1 7 1-46 1 4 1 20 1-57 1 0 1 58 1-9 1-8 1 72 1-51 1 28 1-25 1-9 1-12 1-29 1 42 1-14 1 35 1-42 1-1 1 23 1-48 1 23 1 22 1-8 1 0 1 11 1 3 1 51 1-60 1-20 1 52 1-18 1-17 1 49 1-92 1 60 1-21 1 21 1-1 1 1 1 11 1-40 1 4 1 43 1-27 1-10 1-17 1 27 1-32 1 74 1 14 1-38 1-38 1 50 1-72 1 60 1-22 1 31 1-42 1 21 1 23 1-35 1 46 1-49 1 6 1 47 1-53 1 9 1-19 1-5 1 60 1-27 1-39 1 16 1 15 1 26 1-8 1-6 1-45 1 87 1-69 1 17 1-13 1 44 1-27 1 11 1-21 1-8 1 15 1 9 1 7 1-1 1 3 1-82 1 61 1 9 1 13 1-43 1-21 1-7 1 19 1-19 1 40 1 31 1-57 1 8 1 3 1-13 1 62 1-61 1 54 1-35 1-28 1 27 1-1 1-27 1 16 1 43 1-21 1-54 1 76 1-7 1-3 1 48 1-112 1 58 1 17 1-78 1 77 1-30 1-25 1 77 1-26 1-48 1 28 1-39 1 99 1-97 1 44 1-16 1 54 1-35 1 2 1 13 1-26 1 29 1 25 1 6 1-114 1 62 1 20 1-15 1 28 1-39 1 30 1-63 1-1 1-16 1 67 1-5 1 29 1-37 1 8 1-32 1 58 1-32 1-2 1 46 1-89 1 46 1-9 1 12 1-2 1 10 1-66 1 43 1-27 1 25 1-41 1 56 1-5 1 34 1-96 1 16 1 26 1 1 1-50 1 20 1 17 1 31 1-5 1-13 1 50 1-11 1-19 1-12 1 17 1-20 1 46 1-89 1 30 1 2 1 10 1-29 1-33 1 44 1 49 1-59 1 31 1 2 1-16 1-18 1 8 1 46 1-33 1-9 1-14 1 8 1 32 1-4 1-31 1-3 1 30 1 0 1-31 1-42 1-43 1 19 1 28 1 10 1-23 1-17 1 46 1-40 1-26 1-16 1 48 1-42 1 21 1-11 1-11 1-13 1 5 1-58 1 43 1-38 1-12 1 5 1-20 1 6 1-31 1 72 1-121 1 41 1-32 1-33 1 40 1 25 1-70 1 49 1-98 1 40 1-45 1-20 1 9 1-8 1 30 1 36 1-31 1 22 1-62 1-17 1 66 1-1 1-75 1 24 1 27 1-19 1-33 1 55 1-65 1 125 1-44 1-44 1 77 1 17 1 5 1-27 1-37 1 23 1 94 1-56 1-8 1 22 1-29 1 47 1 33 1-17 1 84 1-74 1 77 1-12 1 45 1-31 1-61 1 29 1 52 1-25 1 73 1-81 1 80 1-28 1 32 1 19 1-80 1 47 1 37 1-4 1-39 1 29 1 17 1-5 1 34 1 34 1-28 1-51 1 13 1 52 1 12 1-47 1 6 1-40 1 97 1-37 1-11 1 38 1-6 1 29 1-65 1 33 1-35 1 31 1-14 1-25 1 15 1 45 1-38 1 21 1-55 1 68 1-67 1 43 1 18 1 55 1-52 1-33 1 12 1 24 1 3 1-23 1 36 1-7 1-42 1 29 1 9 1-53 1 11 1 32 1-14 1 28 1-6 1-33 1 43 1-29 1 18 1 35 1-82 1-28 1 72 1-48 1-4 1 49 1-46 1-51 1 94 1-51 1-22 1 32 1-11 1-32 1 45 1-66 1 40 1-23 1 25 1-7 1-46 1 5 1 66 1-30 1-2 1 3 1-22 1-56 1 33 1 6 1 11 1-61 1 109 1-63 1 47 1-79 1 75 1-33 1 66 1-53 1 65 1 5 1-65 1 8 1 12 1 25 1 14 1-31 1 19 1 14 1 24 1-39 1 37 1 9 1 18 1-46 1 60 1 9 1-30 1-7 1 17 1-27 1 12 1 31 1-34 1 3 1 4 1 10 1 26 1-1 1-64 1 38 1-3 1 27 1 8 1-41 1-3 1-43 1 72 1-2 1-15 1-35 1 33 1-9 1-9 1 15 1-39 1 23 1-35 1 63 1 44 1-101 1 64 1-15 1-12 1 37 1-62 1 48 1-22 1 9 1-44 1 43 1 19 1-12 1-53 1 82 1-20 1-2 1 13 1-36 1 45 1-19 1-20 1 9 1 26 1 33 1-74 1-40 1 65 1-34 1 17 1-6 1 29 1-12 1-27 1 13 1-12 1 14 1 3 1 29 1-64 1 75 1-65 1 45 1 43 1-61 1 42 1-29 1-21 1 51 1-79 1 60 1-25 1 30 1 2 1-11 1-16 1 32 1-65 1 63 1 7 1-50 1 21 1 9 1 23 1-32 1-11 1-4 1-17 1-24 1 91 1-6 1-9 1-35 1 40 1 9 1-40 1 14 1-49 1 44 1 39 1-16 1-3 1-10 1-32 1-15 1 9 1 18 1-6 1 29 1-59 1 58 1-60 1 37 1-2 1 30 1-35 1 5 1 12 1-25 1 51 1-43 1 9 1 31 1-24 1-10 1 33 1-9 1-27 1 53 1-59 1 56 1-9 1-28 1-11 1 28 1-75 1 15 1 76 1-55 1 35 1 6 1-47 1 54 1-68 1 36 1-3 1-52 1 92 1-77 1 9 1 56 1-58 1 41 1-21 1-1 1-11 1 14 1 13 1 10 1-33 1 50 1-29 1 21 1-36 1-19 1 95 1-75 1 59 1-22 1-21 1-12 1 0 1 46 1-51 1 35 1-25 1 0 1-4 1-20 1 54 1 7 1-12 1-41 1 6 1-4 1 44 1-36 1-4 1 23 1 1 1-6 1 18 1-45 1 68 1-58 1-11 1 61 1-64 1 29 1-27 1 68 1-26 1 25 1-41 1-35 1 88 1-8 1-43 1 11 1-20 1-37 1 32 1-23 1 40 1-4 1 24 1 29 1-27 1-30 1-12 1 61 1-96 1-1 1 1 1 99 1-100 1 53 1 41 1-42 1-53 1 56 1-6 1 16 1-34 1 10 1 40 1-27 1-23 1 34 1 9 1 11 1 9 1-81 1 47 1-46 1 42 1 56 1-51 1-2 1-29 1 11 1 26 1 9 1-13 1 48 1-104 1 71 1-73 1 81 1-31 1-28 1 23 1-20 1 34 1-58 1 71 1-4 1-27 1 9 1 29 1 13 1-35 1 2 1-66 1 28 1 28 1-16 1-21 1 34 1 42 1-6 1-91 1 61 1-29 1 48 1-36 1 13 1 6 1-27 1-25 1-7 1 66 1-38 1 11 1 30 1-16 1 26 1-61 1 73 1-31 1 10 1 36 1-37 1-21 1 16 1-4 1 7 1-25 1 29 1 21 1-68 1 49 1-26 1 27 1-31 1 52 1-31 1-24 1 2 1 12 1 25 1-10 1 26 1-51 1 6 1 18 1 38 1-51 1 28 1 7 1-81 1 33 1 19 1-11 1 23 1-3 1-51 1 4 1 4 1-36 1 0 1 55 1-12 1-33 1 27 1 10 1-8 1 49 1-35 1-53 1 77 1 12 1 11 1-28 1-14 1 38 1-23 1-22 1 22 1-41 1 34 1-53 1 43 1 56 1-80 1 8 1 7 1 21 1-52 1 12 1 12 1-4 1-26 1 69 1-1 1 21 1-37 1-39 1-6 1 14 1-29 1 30 1 35 1-18 1-8 1-11 1 60 1-37 1 17 1 36 1-75 1 53 1-11 1-42 1 20 1-18 1-6 1 53 1-48 1-47 1 98 1-31 1-37 1 10 1 26 1-29 1 17 1 28 1-35 1 11 1-8 1-8 1-33 1 57 1-59 1 21 1-54 1 40 1 8 1-39 1-1 1 68 1-29 1-56 1 42 1-33 1 19 1-50 1 23 1-2 1-28 1-20 1 66 1-76 1 37 1-52 1-21 1 24 1-72 1 29 1 23 1-73 1 20 1 15 1 10 1 21 1-12 1-35 1-70 1 69 1-7 1-13 1 14 1-42 1 65 1-23 1-42 1 44 1 27 1-15 1-1 1 42 1-22 1-1 1 16 1-1 1-4 1 13 1 41 1 8 1-11 1-34 1 49 1 29 1 11 1-54 1 62 1 6 1 7 1 37 1-105 1 44 1 0 1 82 1-43 1 42 1-39 1 12 1-12 1 44 1-42 1 22 1 24 1-29 1-36 1 1 1 23 1 76 1-71 1 32 1 19 1-47 1 26 1-29 1 36 1 1 1-56 1 39 1-21 1 33 1 10 1-33 1-30 1-2 1 60 1-13 1-11 1-22 1-14 1 31 1 5 1 30 1-33 1-26 1 52 1-122 1 46 1 45 1-34 1-6 1 18 1 38 1-58 1 61 1-76 1-8 1-5 1 15 1-33 1 57 1 19 1-31 1-23 1 21 1 16 1-39 1 36 1 59 1-61 1-11 1-12 1 65 1-51 1 16 1 57 1-67 1 27 1-4 1-33 1-14 1 86 1-19 1-43 1 57 1-72 1 6 1-30 1 37 1 6 1-29 1 0 1-22 1-5 1 9 1 53 1-33 1 3 1 38 1-13 1-16 1 10 1-41 1 0 1 69 1-1 1-25 1 24 1-43 1 4 1-7 1-40 1 4 1 44 1-29 1 23 1 67 1-45 1-14 1 36 1-11 1-17 1-22 1 66 1-19 1-16 1-18 1 42 1-18 1 0 1 41 1-27 1 39 1 13 1-41 1 13 1 2 1-5 1 23 1-24 1-1 1-13 1 40 1 12 1 12 1-30 1-5 1-30 1 49 1 17 1-6 1-9 1 46 1-49 1-27 1 19 1 26 1-11 1 57 1-59 1 21 1-38 1-10 1 55 1 0 1-73 1 66 1 3 1 29 1-44 1-18 1 10 1 28 1-52 1 44 1-14 1-14 1-18 1 30 1 33 1-11 1 15 1-80 1 62 1-28 1 42 1-22 1 48 1-72 1 25 1-61 1 113 1-86 1 2 1 35 1 41 1-65 1 46 1-59 1 67 1-26 1 18 1-9 1-22 1-6 1 33 1 1 1 13 1-18 1-20 1 7 1-15 1 2 1 20 1 6 1-13 1-15 1 24 1-52 1 58 1-4 1-37 1 10 1 40 1-2 1-29 1 16 1-71 1 84 1 18 1-66 1-36 1 61 1 27 1-43 1 47 1-19 1-16 1 19 1 14 1-26 1-42 1-9 1-10 1 11 1 79 1-13 1-55 1 63 1-62 1 41 1-4 1-25 1 12 1-13 1 16 1 30 1-53 1 43 1-48 1 79 1-79 1-7 1 29 1 0 1 2 1 15 1-50 1 86 1-63 1 10 1-10 1 11 1 42 1-36 1 17 1 43 1-23 1-16 1-54 1 62 1 4 1-28 1-44 1 39 1-17 1 57 1-21 1-5 1-31 1 2 1 43 1 1 1 17 1-32 1-8 1 18 1-45 1 21 1-9 1 41 1-62 1 18 1 17 1 14 1-17 1 13 1-17 1-25 1 35 1 35 1-39 1 0 1 8 1 6 1-10 1-44 1 70 1 21 1-71 1 6 1 25 1-19 1-46 1 112 1-81 1 63 1-48 1-5 1-22 1 35 1 9 1 35 1-38 1-6 1 6 1-24 1 42 1 13 1-31 1 10 1-7 1-19 1 59 1-71 1 48 1 3 1-53 1 50 1-66 1 70 1-71 1 80 1-29 1-57 1 15 1 12 1 5 1 0 1 6 1 14 1-33 1 23 1 8 1 59 1-51 1-32 1 33 1 32 1-13 1-36 1 35 1-71 1 53 1 16 1-39 1 57 1-46 1 5 1-33 1 29 1 5 1 5 1-34 1 22 1-2 1 17 1-24 1-3 1 69 1-11 1-74 1 63 1-58 1 27 1-2 1-5 1 1 1-7 1 25 1 19 1 10 1-102 1 104 1-60 1-36 1 43 1 59 1-12 1-4 1-60 1 70 1 1 1-2 1-16 1-41 1-13 1 1 1 21 1 1 1-8 1-11 1-35 1 39 1-11 1 43 1 17 1-23 1 10 1-10 1-11 1-27 1 5 1 22 1-35 1 63 1-32 1 8 1-11 1-15 1 10 1 30 1 1 1-24 1-7 1 14 1-36 1 26 1-29 1 17 1 45 1-20 1-38 1 11 1 26 1-39 1 34 1 42 1-35 1 25 1-32 1 42 1-40 1-2 1 32 1-49 1 5 1-3 1 17 1-13 1 64 1-94 1 54 1-40 1 26 1 32 1-52 1-37 1 70 1 21 1-38 1-18 1 2 1 24 1-25 1-36 1 32 1 17 1 0 1 8 1 17 1 28 1-85 1 54 1-25 1 2 1-44 1 72 1-80 1 42 1 71 1-70 1 34 1-45 1-3 1 41 1 3 1-32 1-13 1 11 1 11 1-23 1 57 1-51 1 6 1-11 1-15 1 51 1-35 1 30 1-12 1 59 1-36 1 35 1-116 1 59 1 16 1-52 1 40 1-30 1 63 1-53 1 0 1 62 1-66 1-29 1 45 1-39 1-19 1 48 1 6 1-64 1 70 1-80 1 38 1 36 1-19 1-59 1 23 1-20 1-32 1 74 1 37 1-94 1-26 1 30 1 27 1 3 1-44 1 54 1-63 1 27 1 47 1-52 1-10 1 11 1-30 1 4 1-35 1-12 1-10 1 58 1-65 1 50 1 48 1-39 1-45 1 28 1 31 1-68 1 57 1-91 1 16 1 69 1-73 1 87 1-60 1 28 1-13 1-27 1 59 1-24 1 33 1-72 1-12 1 62 1 3 1-3 1 31 1-6 1-59 1 14 1 24 1 24 1 0 1 19 1-62 1 89 1-28 1 14 1 42 1-24 1-31 1 10 1 56 1-32 1 22 1-20 1 62 1 7 1-66 1 11 1-6 1-13 1 87 1-3 1-93 1 18 1 58 1-23 1 33 1-52 1 67 1-90 1 58 1-25 1 16 1 22 1-33 1 1 1-4 1 68 1-97 1 36 1 35 1-62 1-8 1 53 1-66 1-3 1 60 1-14 1 34 1-50 1 48 1-42 1-18 1 65 1 3 1-67 1 14 1 12 1 13 1-19 1-11 1 57 1-37 1-54 1 9 1 11 1 48 1 1 1-62 1 67 1-23 1 9 1-11 1-45 1-5 1 71 1-65 1 40 1 11 1-33 1 36 1 0 1 28 1-47 1-8 1 5 1-35 1 46 1-32 1 25 1 18 1-11 1-40 1 69 1-21 1-29 1 26 1 50 1-51 1 2 1 27 1 7 1-27 1-35 1 28 1-18 1 78 1-27 1-22 1-51 1 41 1 55 1-21 1-21 1-48 1 55 1-12 1 49 1-36 1 19 1 22 1-51 1-16 1 13 1 38 1 43 1-33 1-41 1 76 1-66 1 24 1-19 1 37 1-51 1 23 1 24 1-29 1 7 1 4 1-50 1 52 1-40 1 16 1 0 1 5 1 33 1-40 1 39 1-23 1-12 1-1 1 17 1 4 1-30 1 29 1-14 1 8 1-5 1 0 1-21 1 78 1-24 1-43 1 2 1 2 1 51 1-71 1 60 1-40 1 2 1-23 1 55 1 22 1-22 1-36 1-37 1 46 1 23 1-52 1 44 1-31 1-13 1 0 1 78 1-49 1-32 1 24 1-38 1 10 1-3 1 60 1 22 1-53 1 57 1-62 1 65 1-19 1-6 1-23 1-46 1 55 1-17 1 20 1 16 1-11 1-18 1 25 1-18 1-21 1 40 1-32 1-8 1 51 1-38 1 11 1-40 1 46 1 47 1-46 1 1 1-38 1 48 1-70 1 15 1 34 1 55 1-34 1-37 1-35 1 63 1-66 1 0 1 47 1 0 1-43 1 21 1 30 1-18 1 21 1 14 1 21 1 9 1-27 1-21 1-6 1 65 1-61 1-4 1-19 1 72 1-32 1-39 1-30 1 29 1 15 1 9 1-31 1 20 1 27 1 25 1-18 1-8 1 45 1-59 1 25 1-63 1 9 1 17 1-8 1-24 1 22 1 16 1-31 1 65 1-32 1 29 1-27 1-10 1 10 1 3 1-16 1 31 1-20 1 61 1-10 1-59 1 50 1-25 1-11 1 41 1-77 1 31 1 9 1 21 1-46 1 22 1 5 1-24 1 42 1 5 1-44 1 50 1-50 1 23 1 8 1-15 1 31 1-60 1 27 1-21 1 78 1-7 1-57 1 21 1 14 1-34 1-47 1 34 1 12 1-17 1 12 1 8 1-8 1 32 1 6 1-58 1-2 1 57 1-6 1 16 1-49 1 39 1 5 1-21 1-3 1 23 1-80 1 66 1-3 1 15 1 8 1-32 1-16 1-7 1 50 1-64 1 15 1 7 1 33 1-49 1 15 1 12 1 18 1-20 1 41 1-47 1 20 1 11 1-41 1 29 1-15 1-6 1 6 1 36 1-67 1 39 1 55 1-101 1 55 1 48 1-52 1 53 1-59 1 23 1-24 1-16 1 44 1-10 1-53 1 50 1 14 1 6 1 0 1-7 1 24 1-78 1 5 1 35 1 18 1-5 1-39 1 29 1 16 1-31 1 15 1 3 1-16 1 60 1-57 1-16 1 53 1-51 1 51 1-53 1 41 1-25 1-9 1 7 1-50 1 2 1 78 1 31 1-93 1 18 1 44 1-29 1 22 1-66 1 62 1-38 1 52 1-33 1 22 1-13 1-28 1 67 1-39 1 15 1 39 1-44 1-46 1-21 1 14 1 56 1-52 1 22 1 0 1 31 1-18 1-2 1-20 1 2 1-25 1 31 1 45 1-49 1 5 1-28 1 53 1-41 1 35 1 30 1-62 1 62 1-36 1-31 1 67 1-87 1 65 1-21 1-2"/>
<path transform="translate(140.5,0) scale(0.256167,0.1)" vector-effect="non-scaling-stroke" stroke="#0000a0" d="M0 15181 l1-46 1 36 1-77 1 97 1-90 1 60 1-5 1-27 1 110 1-101 1 42 1 24 1-90 1 100 1-57 1 45 1-76 1-4 1 87 1-27 1-14 1 19 1-5 1-66 1-33 1 12 1-4 1-9 1 54 1 5 1 19 1 10 1-23 1 5 1 12 1-42 1 12 1 28 1-28 1 4 1 18 1 56 1-40 1-25 1-9 1 18 1 82 1-157 1 99 1-12 1 25 1-79 1 123 1-39 1-41 1 8 1-34 1 30 1-8 1 43 1-23 1-17 1 30 1-5 1-13 1-68 1 99 1-86 1 6 1 35 1 25 1 35 1-121 1 122 1 7 1-82 1 10 1-14 1-1 1-28 1-14 1 58 1 18 1 61 1-111 1-39 1 83 1-24 1 32 1-29 1-34 1 23 1 58 1-22 1-48 1 72 1-91 1 36 1 28 1-61 1 7 1 47 1-4 1-6 1-12 1-21 1 12 1 108 1-102 1 84 1-82 1 77 1-5 1-31 1-43 1-28 1 91 1-87 1 0 1 109 1-2 1-55 1-10 1-16 1 40 1-32 1-41 1 30 1 40 1-72 1 23 1 43 1 61 1-59 1-6 1 74 1-117 1 12 1 61 1 9 1-24 1-96 1 108 1-2 1-24 1 24 1 29 1-53 1-38 1-36 1 73 1-30 1 6 1-22 1 54 1 18 1-12 1-60 1 79 1-22 1-90 1 101 1-101 1 33 1 85 1-15 1-51 1-8 1 48 1-83 1 85 1-27 1 39 1-33 1-38 1 51 1-21 1-42 1 10 1 6 1 41 1 28 1-31 1-47 1 33 1 37 1 19 1-78 1 48 1-26 1-62 1 27 1 29 1 2 1 4 1-8 1 38 1-52 1-25 1 82 1-43 1 55 1-64 1 83 1-99 1 2 1 75 1 41 1-99 1 92 1-3 1-28 1-38 1-69 1 16 1 30 1 51 1-26 1-19 1 30 1-68 1 80 1-53 1 86 1-43 1-36 1 9 1-42 1 69 1-46 1 34 1 49 1-31 1 5 1 59 1-51 1 16 1-53 1-36 1 55 1-53 1-32 1 100 1-11 1-55 1 91 1-53 1-15 1-20 1 82 1-62 1-2 1 1 1-12 1-36 1 37 1-5 1 62 1-78 1 78 1-47 1-12 1 25 1 7 1 3 1 18 1-14 1-69 1 33 1 90 1-68 1-72 1 83 1 59 1-19 1-44 1 7 1 17 1-31 1-13 1 82 1-78 1 55 1-101 1 30 1-14 1 61 1-41 1-1 1-10 1 41 1 32 1-59 1 46 1-24 1-23 1 36 1 39 1-131 1 105 1 41 1-75 1 36 1 9 1-18 1-10 1 40 1-7 1-36 1 18 1-60 1 28 1 11 1-6 1-25 1 75 1-36 1 15 1-79 1 31 1-7 1 20 1 73 1 12 1-70 1 7 1-22 1-12 1 54 1-50 1-25 1 65 1-31 1 19 1-1 1 26 1-14 1 11 1-39 1 0 1 19 1-5 1 10 1-6 1 62 1-83 1 26 1-14 1 46 1-82 1-18 1 94 1-17 1-22 1-37 1 79 1-33 1-41 1 4 1-7 1 79 1-61 1-33 1 17 1 66 1-20 1-51 1-18 1 23 1 33 1-27 1-6 1 23 1-24 1-20 1-12 1 18 1 8 1 38 1-7 1-36 1 75 1-91 1 85 1-83 1 33 1 46 1 1 1-67 1 36 1-46 1 37 1 24 1-38 1 79 1-38 1 7 1-50 1 18 1 16 1 22 1-6 1-44 1-17 1-13 1 124 1-33 1 11 1-62 1 83 1-57 1-11 1-31 1-34 1 81 1-24 1-3 1-52 1-26 1 35 1 77 1 40 1-100 1 12 1-50 1 22 1 52 1-43 1 34 1 44 1-57 1-38 1 110 1-42 1-15 1 4 1-21 1 35 1-83 1 52 1-46 1 43 1 27 1-33 1 76 1-71 1-26 1 39 1-3 1 3 1-11 1-7 1 40 1-102 1 93 1-54 1 18 1-31 1 84 1-130 1 30 1 31 1 42 1-79 1 73 1 22 1-79 1-45 1 109 1-39 1 3 1 45 1-14 1-54 1 28 1-43 1 52 1-22 1 22 1-47 1 32 1 2 1 8 1-22 1-86 1 98 1-71 1 86 1-45 1-3 1-30 1 93 1-108 1 84 1 5 1 8 1-32 1-68 1-43 1-2 1-41 1 107 1-55 1-75 1 61 1-45 1 20 1-49 1-86 1 29 1 4 1-65 1-33 1-95 1-11 1-10 1-10 1-108 1-39 1 56 1-187 1-21 1-91 1-13 1-21 1-60 1-82 1-20 1-123 1-28 1-141 1 43 1-135 1 45 1-161 1 28 1-34 1-27 1-42 1 75 1-62 1-74 1 44 1 109 1-80 1 170 1-69 1-27 1 185 1-35 1 3 1 159 1-4 1 133 1 86 1 67 1 11 1-4 1 195 1 2 1 53 1-21 1 90 1 87 1 30 1 59 1-10 1 6 1 125 1 12 1 84 1 40 1-39 1 16 1 93 1 4 1-59 1 132 1-51 1-5 1-37 1 51 1 48 1 0 1 51 1-11 1-73 1 37 1 0 1-10 1 4 1-4 1 3 1 37 1 21 1 38 1-80 1 15 1-55 1 74 1 17 1-26 1 25 1-32 1 3 1-25 1 15 1-28 1 121 1-11 1-29 1-6 1 66 1-37 1-48 1 32 1 12 1-1 1 2 1-77 1 36 1-47 1 92 1-27 1-33 1 129 1-28 1-69 1 52 1-56 1 63 1-6 1-50 1 43 1 48 1-29 1-84 1 63 1 15 1-20 1 35 1-69 1-55 1 142 1-103 1 40 1-55 1 92 1-72 1 48 1-5 1 58 1 16 1-41 1 10 1-30 1-1 1-42 1 54 1-100 1 112 1-29 1-6 1 46 1-117 1 35 1 59 1-35 1 35 1-32 1-35 1 62 1-10 1 13 1 0 1 56 1-112 1 14 1 79 1-88 1 37 1 39 1-27 1 3 1-21 1-68 1 98 1 6 1-17 1-33 1 25 1 20 1-43 1-6 1-22 1 59 1-65 1 29 1 71 1-131 1 47 1 66 1-46 1 55 1-92 1 9 1 79 1-85 1 40 1-14 1 62 1-99 1 44 1 29 1 13 1-47 1 22 1-62 1 97 1-62 1 7 1 33 1-68 1-16 1 21 1 15 1-122 1-22 1 86 1-46 1-1 1 66 1-98 1-5 1 46 1-96 1 32 1-22 1 9 1-1 1-62 1 29 1-5 1-28 1 77 1-38 1-15 1-10 1 55 1-18 1 75 1 34 1-48 1 1 1 23 1 56 1-47 1 62 1-39 1-45 1 153 1-24 1-36 1 21 1 7 1 64 1-74 1 29 1-18 1-10 1 44 1 3 1-36 1 98 1-153 1 137 1-99 1 15 1 56 1 13 1 17 1-106 1 130 1-112 1 53 1 38 1-47 1-4 1 36 1-32 1-44 1 87 1 1 1-19 1-6 1 28 1-5 1 9 1-31 1-90 1 102 1-2 1 9 1 23 1-110 1-30 1 122 1-12 1-25 1-48 1 114 1-81 1 84 1-56 1 30 1-124 1 103 1-52 1-23 1 38 1 85 1-95 1-45 1 113 1-78 1 31 1 67 1-22 1-13 1 16 1-45 1-46 1 43 1-13 1 17 1-3 1 22 1 19 1-59 1 11 1 23 1 35 1-60 1-62 1 112 1-86 1 34 1-3 1 41 1-92 1 120 1-66 1 62 1-56 1 83 1-65 1-17 1-14 1-53 1 144 1-120 1 63 1 24 1-4 1-30 1-25 1 50 1-27 1-57 1 23 1 61 1 12 1-114 1 90 1-22 1 45 1-32 1-13 1 45 1 7 1 2 1-44 1 20 1 49 1-71 1-23 1 46 1-53 1 71 1-67 1 21 1 56 1-77 1 22 1 28 1-3 1-68 1 91 1-42 1 12 1 21 1 4 1-21 1 23 1-24 1-58 1-1 1 15 1-4 1 25 1-64 1 79 1 25 1 1 1-28 1-42 1 115 1-101 1 10 1 20 1-59 1 6 1 52 1 40 1-57 1 32 1 3 1-10 1-43 1 74 1-48 1-29 1-4 1 78 1-33 1-30 1 65 1-8 1-28 1-45 1 41 1 16 1-48 1 110 1-78 1-36 1-20 1 100 1-46 1 4 1-26 1 54 1-14 1-52 1 24 1-32 1 65 1-17 1 35 1-13 1 10 1-97 1 40 1-16 1-11 1 23 1 71 1-8 1 25 1-35 1-1 1-32 1 0 1-1 1-18 1-18 1 54 1 45 1-88 1-8 1 84 1-44 1-58 1 56 1-66 1 83 1-25 1-32 1 54 1-24 1 71 1-78 1 43 1-53 1 51 1 12 1 5 1 6 1-82 1 115 1-5 1-65 1 12 1 27 1-99 1 54 1 24 1 3 1 0 1-62 1 78 1-1 1-18 1-39 1-17 1 34 1 20 1-57 1 24 1 37 1-3 1-48 1-39 1 61 1-55 1 8 1 84 1-15 1-57 1 35 1 8 1 18 1 25 1-26 1-86 1 85 1-25 1 5 1 4 1-7 1-8 1 54 1 2 1 14 1-18 1-3 1-15 1-60 1 84 1-50 1 7 1-52 1 36 1 93 1-87 1 43 1 13 1-25 1-38 1 14 1 22 1-32 1-34 1 10 1 97 1-30 1-1 1 10 1-25 1-45 1 107 1-84 1 24 1-4 1 40 1-54 1-49 1 0 1 19 1 68 1 17 1-56 1-9 1 41 1-21 1-30 1-13 1 43 1 34 1 2 1-12 1-48 1 64 1-120 1 82 1 20 1-61 1-16 1 107 1-66 1 2 1 63 1-31 1-63 1 49 1-9 1 42 1 13 1-112 1 34 1 85 1-57 1-1 1-26 1 44 1-42 1 25 1-2 1-25 1-28 1-7 1 31 1 3 1 38 1-15 1 3 1-41 1 18 1-6 1-18 1-5 1 117 1-66 1 32 1-32 1-39 1 84 1-31 1-21 1-41 1 43 1 28 1 13 1-34 1-17 1-5 1 29 1-49 1 34 1-73 1 125 1-22 1-41 1-13 1 43 1-29 1-16 1 6 1 3 1-28 1 77 1-103 1 71 1-9 1-57 1 83 1-88 1 42 1-6 1 20 1-4 1 53 1-39 1-2 1 4 1 10 1-33 1 48 1-16 1 8 1-14 1 0 1 0 1-25 1 31 1 26 1-52 1 18 1 26 1-34 1-4 1 18 1 2 1 47 1-50 1 28 1-35 1 40 1 8 1 2 1-96 1 46 1-40 1 44 1-3 1-38 1-5 1 16 1 22 1 17 1 35 1 21 1-103 1 44 1-17 1 3 1-45 1 69 1-7 1-38 1 30 1-39 1-34 1 36 1 16 1-27 1 43 1 67 1-67 1-11 1-39 1 44 1 0 1 44 1-60 1-9 1 4 1 81 1-9 1-63 1 95 1-112 1 5 1 56 1-41 1-21 1-12 1 41 1-2 1 0 1-37 1 80 1-71 1 58 1 38 1-112 1 29 1 17 1 16 1-20 1-37 1 58 1-25 1 50 1-62 1-19 1 7 1 13 1 33 1 17 1-73 1 58 1-62 1 130 1-71 1-8 1-19 1 52 1 22 1-66 1 17 1-2 1 18 1-48 1 43 1-21 1 71 1-105 1 40 1 18 1 23 1-15 1-32 1 17 1 27 1-88 1 89 1-56 1 59 1 31 1-88 1 8 1 19 1-14 1 55 1-3 1-82 1-4 1 39 1-19 1 52 1 20 1-55 1-35 1 18 1 35 1-8 1-9 1-10 1 46 1-31 1 18 1 33 1-101 1 62 1-21 1-7 1 30 1-39 1-2 1 104 1-6 1-30 1-73 1 14 1-12 1 22 1 17 1 16 1-70 1 85 1-29 1 29 1-40 1 30 1-80 1 76 1-50 1 2 1 26 1-10 1-59 1 119 1-71 1 15 1-1 1-15 1 14 1 13 1-17 1-33 1 21 1 69 1-40 1-15 1 59 1-69 1 86 1-46 1-24 1-26 1 5 1-2 1 74 1 27 1-37 1-44 1 22 1-79 1 30 1 25 1 81 1-55 1 26 1-14 1-55 1 32 1-28 1-24 1 59 1 0 1 8 1 6 1-53 1-8 1 28 1 3 1 52 1-38 1-32 1 44 1-7 1-40 1 74 1-110 1 60 1 34 1-39 1 15 1-76 1 66 1 15 1-47 1 39 1-16 1 9 1 15 1-18 1 25 1-30 1 65 1-40 1-59 1 16 1 52 1 29 1-71 1 24 1-31 1 83 1-45 1-22 1 57 1-116 1 84 1-63 1 57 1-30 1-19 1 35 1-11 1 90 1-84 1 84 1-39 1-43 1-50 1 84 1-13 1-69 1 129 1-62 1-14 1 48 1-10 1-17 1-12 1 10 1-87 1 50 1 7 1 85 1-53 1-24 1 15 1-27 1 39 1-35 1 28 1-1 1-20 1-8 1-16 1-22 1 40 1-6 1 4 1 7 1 13 1-8 1-6 1 51 1 13 1-83 1 34 1 2 1-44 1 54 1-35 1 70 1-90 1 48 1-52 1-7 1 67 1-21 1 40 1-12 1-93 1 108 1-89 1 31 1-18 1 45 1-6 1-7 1 75 1-96 1 5 1-23 1 102 1-97 1 33 1-14 1 6 1 15 1-55 1 32 1 41 1-75 1 76 1-50 1 58 1-39 1-22 1-11 1 106 1-37 1-57 1 102 1-101 1-11 1 82 1-56 1 55 1-65 1 56 1-26 1 2 1 15 1-56 1 8 1 20 1-8 1 11 1 20 1-37 1-7 1 58 1 40 1-47 1 3 1-45 1-12 1 54 1 37 1-63 1 28 1-39 1-27 1 16 1-26 1 55 1-26 1 78 1-10 1-56 1 20 1-24 1 58 1 25 1-64 1-39 1-4 1 25 1 16 1-12 1-8 1 12 1 4 1-16 1-35 1 30 1-42 1 44 1-8 1 35 1-23 1-42 1 3 1 83 1-91 1 52 1-22 1-3 1 21 1-46 1 27 1-30 1 26 1-36 1-31 1 30 1-11 1-20 1-47 1 67 1-88 1 41 1-21 1 45 1-19 1 16 1-123 1 63 1-55 1 72 1 56 1-104 1 57 1-106 1 69 1 50 1-52 1 16 1 9 1 47 1-34 1 3 1-3 1 46 1 22 1-36 1 44 1-5 1 32 1 52 1-51 1-2 1-16 1-13 1-12 1 43 1-10 1 48 1-30 1 53 1-32 1-29 1 5 1-53 1 122 1-60 1-49 1 68 1-47 1 3 1 25 1-25 1 63 1-46 1-19 1 49 1-45 1 16 1 55 1 39 1-143 1 13 1 23 1 56 1-50 1 43 1-58 1 42 1-42 1-31 1 31 1 48 1-20 1 22 1-24 1-58 1 52 1 8 1 40 1-13 1-30 1-28 1 56 1-99 1 17 1-12 1 36 1 40 1-77 1 115 1-113 1 99 1-92 1 42 1-66 1 37 1-23 1 70 1-87 1 67 1 39 1-72 1-12 1 37 1-93 1 72 1 17 1-16 1-43 1 54 1 22 1 6 1-46 1 10 1-6 1-31 1 22 1-6 1 34 1 12 1 74 1-44 1-10 1-38 1 86 1-5 1-60 1-16 1 15 1 1 1-52 1 51 1-9 1 47 1-25 1-19 1 51 1-19 1-23 1-26 1-15 1 57 1-14 1-23 1 16 1-65 1 89 1-33 1 32 1-96 1 40 1-39 1 61 1 24 1-86 1 5 1 31 1-105 1 32 1-29 1 6 1-60 1-24 1-9 1 46 1-19 1 11 1-25 1-2 1-34 1-23 1 1 1-48 1 9 1-21 1 65 1-141 1 78 1-18 1-23 1-17 1-26 1-41 1 45 1 7 1-37 1 68 1-75 1 110 1 48 1-88 1 29 1 92 1-146 1 67 1-9 1 39 1 90 1 8 1-44 1 79 1-90 1 49 1 90 1 40 1-15 1 0 1-26 1 62 1-43 1 72 1-40 1 30 1-76 1 58 1 38 1-68 1 68 1 15 1-26 1-10 1 14 1-53 1 45 1 105 1-112 1 38 1-52 1 136 1-96 1 21 1 21 1-32 1 85 1-51 1-29 1-69 1 82 1-47 1 59 1-46 1-32 1 65 1-30 1-16 1-15 1 2 1-20 1 47 1-86 1 49 1-35 1 59 1-31 1 31 1-86 1-32 1 96 1-39 1-47 1 69 1 25 1-61 1 24 1-42 1 17 1 38 1-6 1-2 1-10 1 61 1-10 1 67 1-93 1 3 1 29 1-28 1-6 1 12 1 23 1 11 1-9 1 51 1 13 1-5 1-12 1-30 1 14 1-34 1 94 1 8 1 12 1-90 1 109 1-57 1 9 1 40 1-42 1-28 1 29 1-30 1 9 1 50 1-86 1-9 1 82 1-14 1-5 1 21 1-48 1 61 1-63 1 1 1 66 1-40 1 1 1-27 1 69 1-3 1-67 1 43 1-2 1-12 1-52 1 94 1-17 1-80 1 25 1 97 1-38 1-76 1 35 1 13 1-11 1 0 1-6 1 12 1 42 1-74 1 91 1-32 1-20 1 56 1-15 1-22 1 8 1-21 1 19 1 23 1-10 1-60 1 14 1 25 1-26 1-10 1 88 1-87 1 35 1-41 1 44 1 19 1-43 1 5 1 20 1-16 1-11 1 29 1-1 1-30 1 45 1-76 1 14 1 63 1 16 1-54 1-45 1 31 1 40 1 8 1-8 1 8 1-73 1 26 1 1 1 10 1 64 1-31 1-51 1 21 1-59 1 93 1-46 1 29 1 3 1-73 1 77 1-33 1 5 1-28 1 36 1 30 1 7 1-21 1-7 1 43 1-53 1 16 1 60 1-120 1 9 1 9 1 21 1-1 1 18 1 56 1-16 1-65 1 48 1-15 1-21 1 44 1 17 1-86 1 73 1-67 1 15 1 23 1-36 1 17 1 9 1 15 1-25 1 0 1-19 1 41 1 5 1-55 1 50 1 38 1-36 1 16 1-19 1-21 1-14 1 5 1 4 1-42 1 10 1 83 1-95 1 8 1-5 1 50 1-17 1 26 1-55 1 80 1-55 1-16 1 66 1 1 1 3 1-96 1 49 1 11 1-18 1-47 1 80 1-6 1-11 1-36 1 6 1 52 1-43 1 19 1 2 1-8 1 35 1-34 1 43 1 25 1-50 1-53 1 26 1 41 1 7 1-66 1 29 1-6 1-28 1 43 1-11 1 55 1-81 1 59 1-28 1 21 1-34 1-6 1 54 1 7 1-58 1 42 1-43 1 13 1 63 1-34 1-24 1 9 1-38 1 10 1 17 1-53 1 18 1 65 1-70 1 4 1 43 1 13 1-66 1 38 1-75 1-6 1 34 1 60 1-79 1 32 1 6 1-70 1 33 1 62 1-7 1-27 1-72 1 87 1 20 1-80 1 71 1-29 1-29 1 91 1 22 1-78 1 57 1-36 1 4 1-15 1 7 1-3 1 42 1-35 1 49 1-39 1-16 1 34 1 53 1-32 1 27 1-113 1 37 1-8 1 33 1 2 1-57 1 39 1 25 1 24 1-98 1 126 1-72 1 43 1-69 1 48 1 32 1 5 1-42 1-53 1 88 1-43 1 10 1 46 1-102 1 124 1-111 1 80 1 28 1-62 1 66 1-102 1 66 1-18 1-34 1 40 1-57 1-11 1 102 1-19 1-67 1-20 1 36 1-5 1 68 1-59 1 42 1-44 1-40 1 123 1-60 1-49 1 42 1 40 1-73 1-10 1 8 1 73 1 28 1-98 1 16 1 8 1 11 1 50 1-34 1-24 1 40 1-28 1-55 1 40 1 74 1-52 1-22 1 26 1-39 1 15 1-14 1 10 1 42 1-31 1 2 1 7 1-18 1 20 1 15 1-31 1-38 1 62 1-80 1 87 1-16 1-46 1 13 1 10 1-58 1 103 1 16 1-54 1 14 1-20 1 28 1 29 1-11 1-65 1 20 1 36 1-50 1-5 1 17 1 26 1 6 1-86 1 53 1 50 1-58 1 25 1 6 1 1 1-5 1-40 1 79 1-19 1-22 1 33 1-42 1-18 1 1 1 38 1 35 1-16 1-43 1-46 1 32 1-8 1 63 1 25 1-124 1 42 1 32 1 56 1-52 1-1 1 42 1-63 1-2 1-22 1 43 1-75 1 56 1-12 1 13 1 12 1 26 1-12 1-31 1 35 1-38 1-11 1 20 1-33 1 77 1-20 1-12 1 40 1 18 1-88 1 18 1 28 1-50 1 44 1-38 1 24 1 29 1-5 1-64 1 48 1 61 1-70 1-6 1 19 1 5 1-62 1 81 1-23 1-2 1-40 1 20 1-32 1 82 1-34 1-70 1 24 1 21 1 14 1-37 1 50 1-3 1 5 1-22 1 59 1-90 1-21 1 43 1 93 1 0 1-103 1-20 1 84 1-97 1 94 1-54 1 11 1-9 1 13 1 15 1-9 1-6 1 11 1-5 1 74 1-14 1-79 1 36 1 46 1-98 1 49 1-29 1 1 1 56 1-18 1-70 1 73 1-73 1 60 1 31 1-53 1 70 1-72 1-24 1 28 1 3 1 49 1-59 1 62 1-43 1-17 1 12 1 10 1-10 1-37 1 40 1 36 1-40 1 41 1-72 1 43 1-6 1 10 1-39 1 43 1-13 1 3 1-22 1-37 1 31 1-45 1 99 1-34 1 22 1-57 1 61 1-19 1 16 1-46 1 63 1-12 1 43 1-25 1-65 1 14 1 60 1-54 1-33 1 41 1 1 1 8 1 9 1-54 1 14 1 14 1 40 1-16 1-34 1 46 1-82 1 36 1-9 1 55 1-81 1 111 1-121 1 94 1-52 1-4 1 27 1-22 1 39 1 17 1-13 1-62 1 42 1 3 1-17 1 38 1-30 1 19 1 15 1 5 1-66 1 2 1 66 1-100 1 0 1-10 1 97 1-25 1-56 1 61 1-57 1 52 1-15 1-3 1 34 1-18 1-36 1-36 1 29 1 10 1-2 1-6 1 33 1 5 1-48 1 45 1-66 1 2 1 56 1-19 1 2 1 8 1-7 1 16 1 6 1 28 1-52 1-12 1 37 1 56 1-44 1-47 1 99 1-95 1 21 1 54 1-53 1 22 1-6 1-24 1 34 1-6 1-16 1-59 1 84 1-20 1-56 1 30 1-3 1 75 1-49 1 11 1 31 1 32 1-135 1 80 1 50 1-46 1-32 1 68 1-44 1-23 1 4 1 28 1 15 1-28 1-59 1 46 1-11 1-11 1 32 1-8 1-17 1 29 1-34 1 54 1-57 1 5 1-35 1 39 1-7 1 45 1-8 1 21 1 0 1-48 1-7 1 10 1 56 1-104 1 91 1-90 1 63 1-51 1 76 1-13 1 43 1-12 1-39 1 46 1-109 1 33 1-15 1 109 1-87 1-20 1-24 1 58 1 34 1 27 1-119 1 16 1 88 1-69 1 58 1-14 1-27 1-3 1 5 1 46 1-8 1-92 1 100 1-13 1 22 1-14 1-22 1-7 1-28 1 49 1-52 1 47 1 2 1-18 1 6 1-64 1 40 1-8 1 21 1-11 1-22 1 3 1 25 1-28 1 49 1 4 1 49 1-32 1-6 1-59 1 26 1-39 1 63 1-18 1 19 1 10 1-51 1 23 1-54 1 24 1 57 1-45 1 42 1-6 1-81 1 64 1-34 1 22 1-18 1 16 1 10 1 33 1-22 1-30 1 24 1-56 1 10 1 55 1 10 1-73 1 63 1-38 1-10 1 9 1 12 1 12 1 28 1-50 1 32 1-41 1 28 1 0 1-23 1 19 1 21 1 42 1-64 1-36 1 1 1 22 1 39 1-64 1 104 1-82 1 47 1-101 1 108 1-52 1-13 1 23 1 44 1-44 1 49 1-24 1 3 1-22 1 47 1-12 1-13 1-21 1 25 1-2 1-40 1 53 1-102 1 61 1 22 1-5 1-23 1-1 1-1 1 51 1-18 1-65 1 71 1-10 1-74 1 58 1-9 1 26 1 36 1-45 1 46 1-82 1 0 1 27 1-15 1-22 1 70 1 18 1-99 1 40 1 18 1-19 1-52 1 69 1-49 1 8 1 8 1 48 1-92 1 8 1-18 1 55 1 46 1-10 1-68 1 9 1 11 1-3 1 8 1 27 1-95 1 17 1-28 1 71 1-28 1-24 1 38 1-56 1 24 1-30 1 78 1-52 1 15 1-63 1-23 1-5 1 31 1-69 1 10 1 35 1 28 1-75 1-24 1-27 1-34 1 29 1-22 1-15 1-51 1 50 1-15 1-51 1 12 1-72 1 85 1-62 1-48 1-36 1 51 1-70 1 54 1-67 1-37 1 5 1 94 1-47 1-75 1 49 1-86 1 58 1-45 1-38 1 54 1-47 1 68 1-22 1 32 1 9 1 87 1-68 1 85 1-72 1 10 1 27 1 58 1-20 1 39 1 0 1-45 1 82 1-59 1 88 1-31 1 88 1-67 1 50 1 33 1-28 1 107 1-72 1-5 1 49 1-3 1 66 1-86 1 63 1-13 1 7 1 51 1-38 1-19 1 100 1 7 1-70 1 30 1 66 1-108 1 116 1-31 1 31 1-25 1 17 1 55 1-42 1-20 1-64 1 74 1 5 1 11 1-42 1 34 1 4 1-19 1 18 1-13 1 22 1-28 1-12 1 30 1 30 1 25 1-65 1 65 1 10 1-118 1 45 1 63 1-69 1 76 1-30 1-52 1 49 1 23 1-32 1 10 1 34 1-53 1 42 1-97 1 4 1 116 1-62 1-28 1 71 1-13 1-26 1 27 1-16 1-70 1 76 1-3 1-5 1-18 1 17 1 11 1 3 1-78 1 65 1-33 1 79 1-70 1 17 1 18 1-17 1-8 1-30 1 64 1-41 1 23 1 53 1-22 1 10 1-53 1-6 1 42 1-55 1 44 1-21 1-7 1 15 1-20 1 28 1-36 1 7 1-5 1 53 1-69 1 40 1 21 1-27 1 26 1 0 1-42 1 65 1-37 1 48 1-7 1-7 1-26 1-39 1 89 1-55 1-68 1 126 1-18 1-47 1-27 1 1 1-5 1 17 1 8 1 6 1-4 1 13 1-30 1 8 1 46 1-16 1-29 1 2 1-19 1 82 1-28 1-29 1-18 1 51 1-11 1-2 1 21 1-33 1-9 1-25 1 22 1-44 1 80 1-36 1 46 1-94 1 58 1 72 1-74 1 11 1 22 1 35 1-119 1 27 1 17 1-3 1 5 1 52 1-77 1 10 1 26 1-17 1-6 1-19 1 41 1 31 1-54 1 13 1-18 1-8 1 21 1 39 1-49 1-11 1 90 1-66 1 20 1-57 1 38 1 57 1-38 1-59 1 6 1 55 1-72 1 41 1 24 1-3 1 29 1 43 1-73 1 0 1-24 1 43 1 48 1-47 1-3 1-12 1 8 1 15 1-15 1 4 1 22 1-17 1-46 1-3 1 55 1-11 1-20 1 50 1 9 1-40 1 47 1-86 1-9 1 12 1 15 1-44 1 60 1-11 1-4 1 19 1-27 1 25 1 15 1 21 1-81 1 57 1-5 1-34 1 1 1 46 1 3 1-7 1-9 1 1 1-21 1-15 1 26 1 64 1-130 1 3 1 40 1 50 1-22 1-53 1 69 1-26 1 31 1-89 1 93 1-19 1-56 1 10 1 40 1 4 1-6 1-66 1 77 1 5 1-18 1 0 1 0 1-5 1-9 1-2 1-6 1-4 1 70 1-19 1-21 1-42 1 95 1-54 1 44 1-78 1 22 1 62 1-108 1 50 1 26 1 27 1-53 1 56 1-51 1 57 1-38 1-72 1 96 1-15 1-8 1 45 1-70 1 0 1-11 1-7 1-5 1 80 1-55 1 1 1-30 1 46 1-12 1 45 1 8 1-23 1-94 1 68 1 12 1 35 1-19 1-65 1-19 1 29 1-12 1 64 1-80 1 112 1-85 1 40 1 28 1-26 1-8 1-21 1 45 1-77 1 51 1-61 1 58 1 3 1-10 1 31 1-66 1 60 1-52 1-22 1 44 1 67 1-89 1 8 1-7 1 79 1-54 1 26 1-47 1-5 1 20 1 2 1 29 1-42 1 14 1-47 1 2 1 14 1 27 1-4 1 2 1 0 1-7 1 38 1 12 1-41 1 14 1 2 1-74 1 46 1 3 1 37 1-40 1-35 1 105 1-57 1-37 1 23 1 11 1-42 1 76 1-37 1-19 1 34 1-10 1 32 1 2 1-19 1-9 1-63 1 68 1-38 1 9 1-6 1 63 1-39 1 26 1 0 1 2 1 17 1-19 1-45 1-32 1 51 1-51 1 66 1-21 1-54 1 110 1-48 1 66 1-54 1-29 1 18 1 8 1-1 1 1 1 5 1-74 1 23 1 29 1 37 1-60 1 27 1 24 1-38 1 63 1-56 1-11 1 33 1-19 1 6 1-12 1-33 1 108 1-44 1-20 1 44 1-46 1-28 1 90 1-56 1 10 1 19 1-29 1-67 1 126 1-2 1-59 1 49 1-20 1-32 1-9 1-11 1-7 1 32 1-44 1 48 1-70 1 110 1-39 1-36 1 49 1 36 1-55 1 11 1-37 1 80 1-23 1-97 1 48 1 23 1 19 1-90 1 45 1-49 1 54 1 11 1-61 1 48 1 4 1-8 1 29 1-32 1 42 1-29 1-32 1 66 1 7 1-102 1 10 1 39 1-25 1 1 1 15 1-4 1 34 1-29 1-11 1-11 1 14 1-14 1-45 1 2 1 8 1 6 1 15 1-24 1-40 1-32 1 44 1-39 1 9 1 41 1-21 1-10 1-11 1 8 1-53 1-15 1-33 1 44 1 3 1 2 1-13 1-51 1 27 1-88 1 63 1-71 1 36 1-37 1 1 1 2 1-81 1 55 1-26 1-33 1 33 1-19 1 8 1 6 1-54 1 21 1 31 1-25 1 0 1 39 1-124 1 131 1 19 1-87 1 80 1-35 1-42 1 21 1 64 1-44 1-12 1 10 1 98 1-117 1 112 1-102 1 117 1 3 1-78 1 48 1 4 1-4 1 58 1-88 1-44 1 46 1-3 1 70 1-67 1 9 1 59 1-80 1-40 1 50 1-7 1 48 1-26 1 6 1-50 1 19 1 14 1 29 1 18 1-30 1 51 1-109 1 39 1 106 1-67 1 85 1-74 1 3 1 18 1 35 1-44 1 87 1-34 1 9 1 30 1 1 1 64 1-41 1 51 1-72 1 88 1-35 1 15 1 4 1-13 1 41 1-40 1-10 1 45 1-5 1-11 1 15 1 17 1-1 1-48 1-6 1-16 1 5 1 25 1-4 1-12 1 31 1-3 1-4 1-21 1-35 1 37 1 1 1-67 1 58 1-65 1-19 1-1 1-12 1 31 1-40 1 32 1-61 1 24 1-55 1-19 1 53 1-22 1 5 1-114 1 1 1 35 1 65 1-54 1-40 1 8 1 16 1 12 1-31 1-2 1-46 1 57 1 67 1-92 1 53 1-60 1 100 1-19 1-20 1 96 1-96 1 2 1 48 1 33 1 49 1-35 1-11 1 9 1 80 1-67 1 58 1-40 1 62 1-9 1-48 1 42 1 1 1 28 1 45 1-52 1 51 1-55 1 90 1-59 1 41 1-8 1-8 1-40 1 57 1 23 1 35 1-17 1 27 1-75 1 18 1-20 1 47 1 10 1 15 1 8 1-8 1-65 1 96 1-107 1 58 1 10 1-22 1 25 1 56 1-85 1 54 1 13 1-18 1 4 1-12 1 6 1-34 1-11 1 71 1-33 1 6 1-14 1 3 1 11 1-30 1 48 1-40 1 22 1-31 1 27 1-38 1 45 1 19 1-38 1-19 1 45 1-5 1 4 1 7 1 4 1 13 1-70 1 79 1-94 1 18 1 7 1 6 1 19 1 14 1 5 1-39 1-28 1 60 1-3 1 23 1-58 1 69 1-54 1 1 1-21 1-35 1 40 1 5 1 61 1-52 1 32 1-11 1-24 1-5 1-19 1 32 1-40 1 66 1-46 1 14 1-55 1 39 1 74 1-51 1 1 1 2 1 22 1-68 1 48 1 27 1-47 1 57 1-59 1 40 1-45 1-4 1 20 1-50 1 48 1-38 1 74 1-88 1 1 1 91 1-25 1-35 1 49 1-73 1 55 1-25 1 36 1-40 1 0 1-74 1 26 1 2 1-16 1 9 1 83 1-87 1 29 1 27 1 24 1 11 1 5 1-59 1 45 1-15 1 30 1-41 1 39 1-49 1-5 1 61 1-14 1 26 1-45 1 81 1-83 1-29 1 58 1 35 1-40 1 31 1-38 1-43 1 16 1 34 1 49 1-61 1 25 1-43 1 28 1 35 1-16 1 48 1-53 1 18 1 25 1-44 1 12 1 40 1-62 1 28 1-46 1 5 1-16 1-10 1 8 1 12 1 54 1-78 1 22 1 15 1 31 1 9 1-3 1 6 1 12 1-49 1 25 1-20 1 46 1-111 1 70 1 25 1-42 1 55 1-32 1-6 1-9 1 36 1-1 1-23 1-41 1 30 1 29 1-7 1-53 1 13 1 34 1-11 1-29 1 49 1 37 1-74 1-32 1 65 1-40 1 15 1 7 1-46 1 10 1 88 1-83 1 90 1-74 1 60 1-30 1-12 1-22 1 42 1-9 1-7 1 51 1-103 1 72 1-38 1 38 1-18 1 9 1-55 1 50 1 8 1 16 1-79 1 71 1-50 1-10 1 17 1-14 1 5 1 75 1-37 1 3 1-24 1-12 1 19 1 12 1-13 1 14 1-48 1 26 1 40 1-77 1 6 1 0 1 68 1-34 1-13 1-28 1 27 1 29 1-25 1-14 1-1 1 37 1 49 1-99 1-24 1 112 1-31 1-47 1 16 1-34 1 53 1-5 1 33 1-54 1-2 1 3 1 14 1 50 1-81 1 24 1 27 1-20 1-35 1 49 1-16 1 5 1 1 1-38 1 75 1-5 1-42 1 30 1 20 1-31 1-60 1 28 1 71 1-59 1 6 1 65 1-19 1-66 1 19 1-22 1 59 1-33 1 3 1 44 1-8 1-97 1 29 1 30 1 3 1 59 1-123 1 79 1-21 1 41 1-58 1-9 1 23 1 32 1-37 1-29 1 78 1 3 1-21 1-80 1 66 1-55 1 18 1 44 1-37 1 66 1-4 1-22 1-5 1-36 1 48 1-27 1 13 1 10 1-51 1 9 1 36 1 20 1-29 1-60 1 32 1 19 1-21 1-4 1 29 1 30 1-57 1 31 1-3 1-63 1 51 1-33 1 91 1-37 1-37 1 71 1-33 1-39 1 30 1 11 1-64 1 85 1-7 1-23 1-43 1-9 1 27 1-15 1-22 1 109 1-100 1 45 1 0 1 3 1 15 1-13 1 26 1 2 1-40 1-10 1-6 1 30 1 26 1 11 1-17 1 10 1-27 1 5 1 56 1-85 1 34 1 18 1-16 1-7 1-14 1 13 1-1 1-13 1-40 1 103 1-40 1-20 1 7 1-20 1 35 1 3 1-21 1 28 1-24 1-46 1 36 1-52 1 28 1 35 1-43 1-2 1 41 1 20 1-26 1 15 1-5 1-62 1 92 1-19 1-5 1-34 1 89 1-116 1 27 1 10 1 9 1-10 1 0 1 29 1-65 1 40 1 7 1 54 1 13 1-32 1-82 1 41 1 44 1-29 1 3 1-32 1 88 1-99 1 68 1-76 1 74 1-26 1-26 1 6 1 19 1 1 1 7 1-13 1-2 1-11 1 1 1 1 1-31 1 42 1-32 1 26 1 45 1-44 1 61 1-23 1 21 1-97 1 17 1 58 1-13 1-29 1 41 1-69 1 74 1-61 1 62 1-39 1-2 1 41 1-25 1 19 1-17 1-25 1-33 1 52 1-38 1 75 1-39 1 37 1-18 1-31 1 15 1-52 1 69 1-1 1-17 1-16 1-10 1 53 1-50 1 3 1 2 1 55 1-41 1-40 1-11 1 13 1-14 1 55 1 60 1-68 1-2 1-37 1 34 1-22 1 33 1 30 1-11 1-76 1 36 1-40 1 83 1-47 1 33 1-13 1 35 1-5 1-4 1 15 1-74 1 37 1-39 1 56 1 32 1 0 1-62 1 12 1-11 1 31 1-4 1-53 1 20 1 75 1-40 1-29 1 61 1-53 1 4 1-33 1 91 1-70 1 22 1-75 1 113 1-13 1 11 1-112 1 78 1 1 1-47 1 27 1-27 1 22 1 0 1-20 1 55 1-28 1-20 1 45 1 34 1-58 1 17 1-31 1 2 1 13 1-26 1 0 1-17 1 47 1 0 1 48 1-62 1-3 1-4 1 3 1-13 1 14 1 47 1-90 1 57 1-23 1 29 1 22 1-3 1-37 1-11 1 80 1-118 1 68 1 12 1-46 1 9 1 17 1-31 1 61 1-56 1 28 1 18 1-67 1 43 1 33 1-57 1 1 1 2 1 14 1 27 1-34 1-30 1 20 1 46 1 24 1-19 1-75 1 42 1 11 1-36 1 85 1-30 1-18 1-39 1 24 1 20 1 25 1-72 1 6 1-45 1 56 1 36 1-28 1 48 1-41 1 35 1-35 1 30 1-71 1 39 1-31 1 25 1 37 1-45 1-22 1-8 1-40 1 19 1 22 1-29 1-42 1 23 1 23 1 6 1-7 1-21 1-53 1 42 1 12 1 7 1 9 1 32 1-34 1-26 1-14 1 5 1-30 1 10 1-32 1 6 1 31 1-20 1-59 1 49 1-46 1 68 1-73 1-2 1-22 1 17 1-25 1 50 1-59 1-11 1 17 1-15 1 23 1-24 1-48 1 43 1 38 1-83 1 56 1-80 1 34 1-8 1 45 1-26 1 39 1-52 1 10 1 46 1-36 1 12 1-47 1 73 1 19 1-3 1 4 1-9 1 23 1-33 1 46 1-35 1 75 1-24 1-50 1 33 1 36 1 34 1-72 1 54 1-12 1 81 1-83 1-15 1 25 1 21 1 14 1-28 1 68 1 42 1 5 1-22 1 9 1-25 1-22 1-7 1 34 1 1 1-2 1-48 1 21 1 42 1 54 1-75 1 43 1-14 1 47 1-68 1-4 1-27 1 56 1-29 1 83 1-64 1 23 1-12 1 6 1 14 1-6 1 14 1-17 1 11 1 22 1-35 1-29 1 22 1 68 1-41 1-8 1-7 1 77 1-52 1 15 1-34 1-2 1-21 1 14 1 64 1-34 1-40 1 44 1 18 1-15 1 42 1-73 1 29 1 18 1-27 1-46 1 50 1 31 1-2 1 4 1-57 1 6 1 45 1 26 1-64 1-7 1-3 1-16 1 10 1-46 1 93 1-16 1-66 1 42 1 62 1-59 1-16 1 4 1 19 1-39 1 25 1 35 1-38 1-44 1 11 1 21 1-16 1 2 1-13 1 8 1 42 1-40 1 65 1-21 1-12 1 4 1-6 1 54 1-112 1 48 1 17 1-28 1 39 1-17 1 69 1-61 1 34 1-64 1 2 1 75 1-57 1 22 1 53 1-79 1 37 1-22 1 6 1 3 1-32 1 73 1-48 1 53 1-49 1 25 1-50 1 24 1 26 1 15 1-19 1-46 1 1 1 78 1-21 1-46 1 48 1-64 1 84 1-23 1-23 1 42 1-37 1-23 1 75 1-26 1 3 1 0 1 6 1-28 1-41 1 18 1 19 1-6 1-14 1 39 1-21 1 34 1 12 1-52 1 18 1-23 1-25 1 36 1-49 1 45 1 39 1-48 1-19 1 9 1 85 1 0 1-71 1 29 1-12 1-58 1 47 1 0 1 17 1-4 1-5 1 28 1 24 1-24 1-55 1 1 1-36 1 76 1-4 1-48 1 43 1-5 1-18 1-5 1 2 1 58 1-25 1-29 1 63 1-19 1-16 1 22 1-48 1 20 1-4 1 13 1-12 1-63 1 54 1-27 1 28 1-25 1 25 1-3 1-52 1 20 1 49 1 15 1-28 1-17 1 16 1 6 1 59 1-76 1 72 1-81 1 36 1-51 1 9 1 25 1-11 1 38 1 35 1-68 1 46 1-26 1-14 1-10 1 18 1-7 1 10 1 30 1-32 1-14 1 46 1-35 1-31 1 57 1-3 1 10 1-30 1-38 1 11 1 21 1-20 1 30 1 40 1-28 1-52 1 21 1 19 1-47 1 44 1 5 1-21 1-32 1 77 1-55 1 73 1-85 1 37 1 15 1-27 1-2 1-2 1-6 1 21 1 15 1 20 1-54 1 39 1-79 1 19 1 42 1-6 1 7 1-17 1 4 1-24 1 29 1-1 1-25 1 78 1-57 1-39 1 72 1-3 1 30 1-28 1-11 1-16 1-7 1-6 1-5 1-10 1 24 1-6 1-27 1-10 1 75 1-21 1 31 1-80 1 16 1 75 1 15 1-62 1 6 1-56 1-3 1 76 1-40 1 41 1-17 1-27 1 17 1 7 1 24 1-13 1 33 1 0 1-41 1-13 1 14 1-36 1 35 1-61 1 112 1-78 1 10 1 3 1 7 1-11 1 46 1 2 1-59 1 64 1-30 1-67 1 65 1 22 1-17 1 9 1-32 1 29 1-66 1 81 1 1 1-42 1-34 1 0 1 51 1-2 1 22 1-10 1-25 1 59 1-66 1 32 1-43 1 35 1-21 1 61 1-18 1-52 1 42 1-17 1-9 1-16 1 52 1-52 1 57 1-7 1-47 1-34 1 53 1 48 1 15 1-35 1-21 1-30 1 50 1 35 1-50 1-2 1-2 1 3 1 10 1-39 1 35 1-36 1 61 1-29 1-69 1 86 1-28 1 17 1 2 1-30 1-27 1 39 1 35 1-95 1 51 1-33 1 57 1-37 1 18 1 38 1-19 1-40 1 35 1-55 1 71 1 5 1-62 1 27 1 58 1-80 1 0 1-5 1-7 1 30 1-55 1 57 1 9 1 39 1-75 1 38 1 7 1-36 1 22 1 12 1-8 1 36 1-26 1-32 1-16 1-13 1 56 1 24 1-71 1 35 1 9 1-5 1-11 1 65 1-50 1 47 1-66 1 19 1-53 1 5 1 11 1 5 1 58 1-39 1 10 1 4 1-11 1 1 1-5 1-46 1 35 1 1 1 23 1 35 1-76 1 82 1-31 1-63 1 28 1 26 1-47 1 29 1-51 1 103 1-33 1-1 1 15 1-52 1 55 1-78 1 21 1 17 1 27 1-25 1-18 1-33 1 46 1-30 1 19 1 50 1-25 1 11 1 10 1 6 1-28 1-23 1-21 1 59 1-11 1-40 1 57 1-4 1-24 1 35 1-23 1-66 1 79 1 28 1-32 1 5 1-34 1 19 1 32 1-16 1-35 1 7 1-27 1 72 1-32 1 16 1-51 1 60 1-16 1-36 1-13 1 28 1-4 1-42 1 80 1-28 1 22 1-24 1-5 1 7 1 11 1-4 1-23 1-41 1 56 1-24 1 21 1 0 1-68 1 86 1-76 1 90 1-99 1 35 1-38 1 76 1-50 1-5 1 12 1-24 1-21 1-38 1 63 1 13 1-34 1-3 1-72 1 105 1-86 1-33 1 28 1 47 1-24 1 18 1-90 1 33 1 70 1-39 1-50 1 2 1 46 1-13 1 18 1-34 1-37 1 48 1 41 1 22 1-63 1-20 1 45 1 7 1 28 1 17 1-5 1 21 1-36 1-2 1 6 1 79 1-17 1-75 1 71 1-20 1-20 1 11 1 6 1-9 1 67 1-36 1-17 1 48 1-35 1 41 1-57 1 13 1 6 1 42 1-51 1 10 1 7 1-11 1 19 1 4 1-16 1 47 1-14 1-27 1 19 1 25 1 0 1 15 1-58 1-25 1 101 1-36 1-62 1 31 1-23 1 72 1-72 1 65 1-32 1-24 1 12 1-43 1 4 1 98 1-48 1-19 1-22 1 1 1 55 1-46 1 77 1-85 1 38 1-14 1-26 1 36 1-53 1 50 1 0 1 36 1-64 1 14 1 10 1-12 1 42 1-28 1-64 1 24 1 29 1-13 1 13 1-23 1-26 1 37 1 9 1-24 1-18 1 9 1 53 1-37 1-3 1-15 1-27 1 47 1-36 1-24 1 42 1-12 1 32 1-92 1 0 1 90 1-61 1 4 1 9 1-37 1 37 1-34 1 46 1-27 1-55 1 45 1 61 1-16 1-46 1 3 1 15 1-37 1 47 1-54 1 57 1-68 1 30 1 2 1 46 1-62 1-3 1 56 1-7 1-38 1 101 1-82 1 6 1 60 1-77 1 36 1-4 1 74 1-71 1 24 1 37 1 21 1-63 1 37 1-7 1-28 1 6 1 32 1 21 1-53 1 49 1-33 1-7 1 24 1-19 1 88 1-78 1 33 1 49 1-83 1-17 1-12 1 78 1 19 1-25 1 1 1-21 1-5 1-35 1 69 1 25 1-54 1 14 1-17 1-14 1 10 1 39 1 41 1-55 1 53 1-62 1-11 1 15 1 30 1-2 1 30 1-16 1-29 1 42 1-41 1-1 1-4 1 14 1 11 1-31 1 32 1-19 1-30 1 0 1 6 1 45 1-41 1-16 1 18 1 34 1-6 1 14 1-19 1-2 1 26 1-35 1 23 1 3 1-34 1 39 1-27 1-12 1 6 1 28 1-32 1 51 1-97 1 72 1-49 1 59 1 9 1-55 1-21 1 51 1 1 1-32 1 41 1-59 1 49 1 0 1 22 1-43 1 46 1-40 1-3 1 36 1-64 1 58 1-31 1 33 1 29 1-46 1 29 1-12 1-4 1-39 1 35 1-3 1 0 1-25 1 61 1-59 1-42 1 79 1 15 1-23 1-29 1 21 1-40 1 36 1-7 1-1 1 43 1-43 1 58 1-102 1 40 1 67 1-25 1-36 1-34 1-12 1 52 1-28 1 49 1-47 1-20 1 20 1 42 1-40 1-35 1 22 1-7 1 62 1-9 1 30 1-38 1-8 1-22 1-4 1 23 1-37 1 20 1 49 1-53 1 38 1 10 1-31 1-37 1 16 1 31 1-8 1 1 1 39 1-44 1-10 1 51 1-49 1 13 1 31 1-68 1 26 1-6 1 17 1 47 1-9 1-90 1 32 1 41 1-15 1-40 1 50 1 41 1-76 1-4 1 56 1-54 1 53 1-21 1-32 1 20 1-18 1 4 1 18 1 13 1-33 1 43 1-46 1 28 1-23 1 76 1-17 1-92 1 68 1-8 1-24 1-10 1 42 1-32 1 24 1-4 1 50 1-4 1-21 1-51 1-28 1 22 1 29 1 18 1-38 1 14 1-17 1 75 1-13 1-18 1 18 1-66 1-2 1-33 1 48 1-2 1 4 1-19 1 26 1 14 1-35 1-15 1 32 1-10 1-21 1 44 1 27 1-11 1-40 1 64 1-57 1-23 1 82 1-55 1 40 1-56 1 40 1-25 1-10 1 42 1 1 1-81 1 86 1-84 1 91 1-79 1 6 1 43 1-11 1 27 1-79 1 77 1 24 1-52 1-30 1 90 1-63 1 12 1-7 1 53 1-47 1-32 1 57 1-56 1 52 1-68 1 52 1-26 1 9 1 10 1 21 1-20 1-18 1 13 1-10 1 25 1-35 1-5 1 37 1 30 1-6 1-35 1 7 1-1 1 39 1-59 1-15 1 15 1 15 1 12 1-35 1 9 1 48 1-33 1 19 1 6 1-9 1-10 1 39 1-67 1 10 1 1 1 13 1-22 1 75 1-77 1 41 1-4 1 1 1-24 1 65 1-92 1 69 1-33 1 12 1 16 1-71 1 60 1-10 1 20 1-17 1 8 1-1 1 24 1-35 1 11 1-29 1-3 1 37 1-7 1-34 1 34 1-10 1-61 1 74 1-18 1 5 1 4 1-45 1 28 1-19 1-13 1 16 1 29 1-12 1 23 1 1 1 7 1-66 1 45 1-27 1 60 1-43 1-47 1 61 1-53 1 37 1 24 1-48 1 10 1-14 1 37 1-7 1 0 1-7 1-13 1-20 1 50 1-8 1-37 1 22 1 4 1 24 1-15 1 16 1-18 1 21 1-63 1 40 1-17 1 70 1-90 1 14 1 41 1 18 1-54 1-4 1 30 1-74 1 33 1-44 1 78 1 13 1-47 1-4 1 2 1 35 1-89 1 69 1-37 1 23 1-7 1-61 1 85 1-65 1-6 1 56 1-57 1-46 1 35 1-10 1 9 1 47 1 17 1-69 1 4 1-37 1 48 1-8 1-37 1 41 1-47 1 65 1-78 1-29 1 83 1-46 1 28 1 4 1-26 1 17 1-27 1-48 1 100 1-120 1 73 1-21 1 21 1-32 1-11 1-9 1 33 1 73 1-46 1-70 1 33 1-1 1 98 1-64 1-3 1 27 1-14 1 2 1 19 1 48 1 13 1-56 1 13 1-34 1 34 1 24 1 35 1-41 1-35 1 82 1-56 1-7 1-13 1 98 1-64 1-8 1 29 1-13 1 20 1-24 1 46 1 0 1-8 1-47 1 11 1 53 1-10 1-9 1-33 1 42 1-56 1 34 1 29 1-59 1 42 1-4 1-10 1 35 1-20 1 47 1 2 1 10 1-42 1-26 1 37 1-23 1-19 1 51 1-39 1-16 1 25 1 12 1-37 1 38 1 7 1 14 1-51 1 15 1 46 1-52 1-29 1 76 1-2 1-45 1-47 1-1 1 114 1-46 1-22 1-35 1 41 1-1 1-15 1 28 1-33 1 47 1-19 1-68 1 49 1 1 1-4 1 30 1 22 1-33 1 16 1-75 1 90 1-11 1-58 1 13 1 43 1-33 1-12 1 3 1 19 1 24 1-17 1 26 1-3 1 45 1-93 1 25 1 41 1-83 1 88 1 9 1-41 1 26 1 39 1-10 1-66 1 45 1-59 1-17 1 50 1 28 1 11 1-18 1 2 1 28 1-65 1 20 1-39 1 77 1-43 1 11 1 40 1-31 1 42 1-28 1-17 1 53 1-73 1 61 1-45 1 1 1 31 1-17 1-18 1 51 1-57 1 3 1 21 1 7 1 6 1-27 1 1 1-29 1 35 1-11 1 9 1-1 1-7 1-9 1 8 1-1 1-16 1 22 1 40 1-56 1 38 1 17 1-44 1 14 1 24 1 32 1-76 1 9 1 58 1-99 1 51 1-28 1 54 1 0 1-34 1 62 1-67 1-13 1 38 1 22 1-65 1 11 1 53 1-77 1 12 1 11 1-7 1 29 1-9 1-13 1 31 1-22 1 55 1-50 1 19 1-32 1 38 1-5 1-24 1 4 1 20 1 10 1-26 1-2 1 23 1 5 1-63 1 33 1-21 1 22 1-6 1-19 1 23 1-3 1 66 1-87 1 74 1-22 1-27 1-31 1 31 1 46 1-59 1 68 1-62 1 43 1-68 1 53 1-6 1-4 1-39 1 33 1-4 1-42 1 34 1 61 1-8 1-64 1 17 1 20 1 18 1-19 1-37 1-14 1 35 1-3 1-2 1-41 1 85 1-37 1 2 1-20 1 53 1-28 1-9 1 29 1 7 1-33 1-25 1 38 1 0 1-30 1 11 1 9 1-7 1-36 1 32 1-6 1 35 1-56 1 77 1-38 1 9 1 6 1-30 1 38 1-41 1-34 1 52 1-25 1 45 1-21 1 43 1-86 1 75 1-26 1 31 1 2 1-36 1 8 1-20 1 35 1-19 1-26 1-20 1 89 1-41 1-5 1-7 1-34 1 50 1-43 1-3 1 36 1-40 1 45 1 21 1-37 1 10 1 8 1-22 1 28 1-2 1 43 1-96 1 23 1 1 1-13 1 86 1-50 1-52 1 56 1 24 1-38 1 54 1 3 1-56 1-35 1 22 1 21 1 13 1-15 1-26 1 35 1-60 1 74 1-28 1-27 1 23 1-29 1 55 1-13 1 10 1-16 1 1 1 16 1 4 1 15 1 1 1-12 1 2 1-36 1 8 1-6 1 4 1 20 1-29 1 20 1 45 1-58 1 6 1-15 1 16 1 14 1 9 1-15 1-35 1-22 1 59 1-20 1 26 1-29 1 5 1 43 1-86 1 51 1-26 1 31 1-17 1 67 1-80 1 29 1-55 1 1 1 19 1 20 1 18 1-26 1 24 1 9 1 27 1-61 1 48 1 6 1-13 1-3 1-26 1 33 1-20 1 49 1-76 1 20 1 48 1-7 1-13 1 32 1-71 1 38 1-22 1 23 1 5 1-16 1-12 1 19 1 5 1-61 1 2 1 71 1-2 1-72 1 26 1 10 1 56 1-68 1-15 1 50 1-53 1 45 1-22 1 51 1-87 1 56 1-6 1 16 1 21 1-59 1 28 1 7 1-4 1-14 1-35 1 21 1 16 1-13 1 28 1-18 1 26 1-15 1 8 1-41 1 17 1-2 1 3 1 11 1 34 1-7 1-16 1 1 1 3 1 31 1-50 1 23 1-16"/>
<path transform="translate(140.5,0) scale(0.256167,0.1)" vector-effect="non-scaling-stroke" stroke="#ff0000" d="M0 12155 l1 51 1-28 1 18 1 32 1-29 1 29 1-17 1 22 1-90 1 9 1-17 1 65 1-29 1 41 1-21 1-6 1 66 1-50 1-22 1-34 1 77 1-8 1-73 1 34 1 13 1-66 1 48 1 60 1-107 1 74 1 50 1-89 1 7 1 24 1 11 1-4 1-68 1 27 1 30 1-14 1 51 1-52 1-2 1 79 1-69 1-32 1 35 1-8 1 34 1-9 1-27 1-2 1-5 1 67 1 23 1-73 1 22 1-7 1-31 1-1 1 3 1-52 1 41 1 43 1 16 1-40 1-6 1 37 1 48 1-104 1 6 1 12 1 35 1-49 1 46 1-41 1 45 1-31 1-4 1 44 1-72 1 15 1 52 1 1 1-20 1-78 1 96 1-12 1-25 1-57 1 100 1 33 1-44 1 29 1-70 1 29 1-30 1-17 1 28 1-21 1 6 1-1 1 12 1 4 1 15 1-50 1 56 1-76 1 65 1 1 1-74 1 60 1 51 1-23 1-34 1-2 1 30 1-5 1 24 1-24 1 28 1-18 1-42 1-9 1 18 1 34 1-45 1 62 1-86 1 46 1-23 1 44 1-6 1-11 1-38 1 12 1 8 1 59 1-58 1 40 1 15 1-62 1 12 1-53 1 57 1 40 1-59 1 45 1 16 1-14 1-28 1 23 1-33 1 9 1 85 1-89 1-7 1 30 1 4 1 17 1-54 1-10 1 3 1 61 1 12 1-66 1 8 1 18 1-33 1 16 1 50 1-77 1 57 1 28 1-80 1 76 1-38 1-19 1 50 1-28 1-12 1-12 1-9 1 10 1 11 1 36 1-35 1 18 1-24 1 30 1-19 1 47 1-36 1-69 1 54 1-12 1 50 1-33 1 30 1-5 1-50 1 13 1 13 1-39 1 108 1-52 1-64 1-6 1 55 1-18 1-42 1-6 1 62 1-17 1 31 1-18 1 44 1-104 1 86 1-50 1-5 1 68 1-102 1 65 1-9 1 55 1-94 1 65 1 5 1-17 1 4 1-9 1-47 1 33 1-50 1 102 1 1 1-84 1 93 1-50 1-48 1 28 1 47 1-24 1-35 1 62 1-32 1-9 1-27 1 62 1 12 1-68 1 27 1 1 1 16 1-44 1 110 1-62 1 23 1-43 1 83 1-56 1-80 1 100 1-38 1-35 1 35 1-30 1 57 1-4 1-71 1 73 1 14 1-108 1 118 1-23 1 6 1 22 1-53 1-29 1 43 1-19 1 22 1-87 1 57 1 85 1-57 1 22 1-23 1-25 1 42 1-3 1-38 1 6 1 30 1-51 1-2 1 71 1-1 1-48 1 63 1-25 1-16 1-33 1 46 1-48 1 17 1-20 1 66 1-38 1-4 1 23 1 47 1-33 1-92 1 55 1 4 1-23 1-15 1 96 1-33 1 6 1-20 1 18 1-12 1-12 1-13 1-28 1 10 1 24 1-30 1 44 1-44 1 60 1-78 1 62 1 34 1-15 1-50 1 67 1-46 1 12 1-15 1-61 1 83 1-5 1 12 1-62 1 63 1-53 1-19 1 5 1 44 1-21 1 69 1-26 1 12 1-46 1-33 1-18 1 49 1 53 1-1 1-104 1 68 1 15 1-60 1 36 1-26 1 31 1 2 1-20 1 7 1-20 1 28 1-76 1 89 1 20 1-85 1 40 1 28 1-46 1 1 1 22 1 28 1-76 1 59 1 10 1-67 1 54 1 46 1-52 1-6 1 57 1-71 1 16 1 54 1 15 1-101 1 31 1 24 1 29 1-29 1-38 1 50 1-100 1 76 1 22 1 12 1-23 1-68 1 85 1-54 1 3 1 58 1-113 1 142 1-38 1-1 1-38 1 31 1-4 1-13 1-63 1 70 1-7 1 24 1-19 1-5 1-4 1-60 1-13 1 63 1-21 1 42 1-60 1 24 1 45 1-26 1-31 1 51 1-11 1-47 1 14 1 30 1-14 1-3 1-10 1-54 1 89 1-6 1-18 1-60 1 49 1 14 1-8 1 3 1-69 1 94 1-2 1 3 1 23 1-40 1 40 1-93 1 69 1-34 1 59 1-70 1-1 1-4 1 40 1-46 1 59 1-5 1-26 1 2 1-29 1 91 1-40 1-73 1 79 1-78 1 50 1 10 1-36 1-11 1 32 1 5 1-15 1 4 1-68 1 47 1-38 1 37 1-47 1 4 1-10 1 15 1-1 1 0 1 21 1-65 1 89 1-83 1-24 1 31 1-38 1-13 1 14 1-68 1 75 1-106 1 11 1 53 1-15 1-48 1-89 1 22 1-28 1-22 1-8 1 6 1-2 1-48 1-67 1 14 1-15 1 3 1-85 1-17 1-30 1-42 1 43 1-59 1 44 1-20 1-50 1-4 1-37 1 16 1-11 1 41 1-70 1 68 1-12 1-6 1-56 1 19 1 56 1 22 1-41 1 144 1-45 1 9 1 50 1-32 1-24 1 98 1-1 1 56 1 30 1-48 1 56 1 91 1 45 1-39 1 29 1 29 1 17 1 87 1 6 1-75 1 29 1 72 1-8 1 28 1 1 1-46 1-5 1 2 1 39 1 50 1-27 1 102 1-127 1 57 1 55 1 36 1-101 1 50 1 20 1-97 1 107 1-21 1-18 1 54 1-31 1-27 1 79 1-71 1 71 1-120 1 110 1-43 1 22 1-2 1 33 1-67 1 25 1-3 1 30 1-17 1 12 1 4 1-74 1 54 1 13 1 5 1 65 1-43 1 19 1-63 1 47 1 37 1-82 1-6 1-31 1 8 1 109 1-114 1 50 1 33 1-22 1 4 1-13 1 40 1-87 1 38 1 12 1-66 1 42 1 20 1 62 1-77 1 65 1-68 1 87 1-75 1 52 1 33 1-35 1 17 1-90 1 58 1 6 1-33 1 17 1-49 1 23 1-28 1-9 1 81 1-55 1 41 1 55 1-27 1-62 1 13 1-14 1 24 1 63 1-4 1-77 1-31 1 88 1-110 1 93 1-93 1 88 1-8 1-23 1-26 1 60 1-2 1-12 1 66 1-79 1-10 1 70 1 21 1-94 1 15 1-10 1 27 1 20 1-55 1 17 1-26 1 42 1-17 1 24 1-23 1 14 1-65 1 36 1 6 1 22 1-46 1 20 1 54 1-20 1-41 1 22 1-12 1 20 1-19 1-24 1 37 1-61 1 79 1 11 1-5 1-82 1 43 1 36 1-24 1 2 1-8 1 23 1-37 1-55 1 69 1 61 1-48 1-5 1 48 1-103 1-10 1 20 1 31 1 48 1-27 1-45 1 55 1-44 1-1 1-20 1-29 1 24 1-29 1-43 1 45 1 81 1-61 1-44 1 59 1 68 1-77 1 77 1-51 1-98 1 91 1 61 1-51 1-62 1 61 1 37 1-107 1 66 1 9 1 29 1-52 1-17 1 58 1-9 1-13 1-13 1 51 1-48 1 91 1-81 1 62 1-7 1-21 1-20 1 48 1-35 1-35 1 38 1 13 1-78 1 106 1-107 1 78 1-11 1-59 1 55 1-29 1 53 1-36 1 32 1 6 1 28 1-72 1 94 1-134 1 33 1 23 1-43 1-3 1 76 1-74 1 35 1 58 1 12 1-54 1 40 1 2 1-9 1-29 1-24 1-17 1 101 1-32 1-23 1 2 1 31 1 5 1-35 1-36 1 68 1-43 1-38 1 102 1 19 1-54 1-13 1-2 1-8 1-5 1-13 1 0 1 10 1 16 1 7 1 13 1-54 1 58 1-56 1-1 1 53 1-79 1 58 1-64 1 49 1 41 1 6 1-68 1 2 1 93 1-40 1 36 1-105 1 107 1-37 1-58 1 48 1 50 1-32 1-63 1-14 1 99 1-53 1-19 1 12 1-8 1-26 1 43 1 18 1-62 1 90 1-67 1 40 1 18 1 1 1 22 1-114 1-7 1 13 1 36 1 37 1-58 1 4 1 20 1-4 1 96 1-110 1 101 1 10 1-78 1-1 1 2 1-19 1 3 1-25 1 60 1 19 1-60 1 57 1-46 1-9 1 29 1-16 1 72 1-10 1 0 1-19 1-75 1 26 1 16 1 67 1-91 1 72 1-112 1 53 1 4 1 53 1-3 1-31 1 11 1-64 1-16 1 104 1 31 1-34 1-53 1 35 1-84 1 58 1-5 1 60 1-36 1 25 1-83 1 40 1-19 1 59 1-20 1-3 1-77 1 133 1-75 1 14 1 69 1-17 1-46 1 18 1-72 1 18 1 55 1-45 1 8 1-42 1 27 1 1 1 5 1 82 1-67 1 7 1 36 1-51 1 35 1-91 1 54 1 33 1-45 1 44 1-30 1 35 1 17 1-47 1-33 1 5 1 38 1-5 1-55 1 93 1 8 1-43 1 10 1 0 1-44 1 33 1 13 1-18 1-41 1-7 1 29 1-1 1-3 1-42 1 57 1-8 1 13 1-42 1 66 1-19 1 30 1-58 1 53 1-16 1-24 1 18 1-34 1 26 1 3 1-2 1 12 1 15 1-62 1 53 1-82 1 29 1 111 1-48 1-27 1 75 1-108 1 27 1-33 1 56 1-42 1-39 1 17 1 25 1 47 1-8 1 12 1-14 1-34 1 87 1-87 1 38 1-39 1 7 1 6 1-24 1 64 1-33 1 38 1 11 1-21 1-18 1 13 1-40 1 36 1-82 1 35 1 58 1-83 1 66 1 15 1-26 1-31 1 64 1 39 1-22 1-104 1 117 1-86 1 78 1-54 1 23 1 29 1-86 1 84 1-47 1 24 1-28 1-5 1-41 1 40 1 39 1-63 1 81 1-25 1-74 1 49 1 17 1-20 1 19 1 22 1-48 1 31 1-24 1-28 1 52 1-36 1 9 1 37 1-96 1 89 1-8 1-9 1 13 1-9 1 6 1-72 1 40 1 24 1-14 1 11 1-34 1 92 1-60 1 24 1 7 1-49 1-1 1-19 1 53 1 32 1-23 1-74 1 87 1 4 1-30 1-67 1-11 1 44 1-29 1 67 1 33 1 4 1-15 1 4 1 2 1-32 1-36 1 97 1 0 1-137 1 116 1-34 1-31 1 75 1-84 1 22 1 9 1 45 1-66 1 29 1-26 1 31 1 39 1-9 1-39 1-1 1-51 1 96 1-39 1 43 1-38 1-6 1-6 1-53 1 84 1-1 1-51 1 40 1-12 1-25 1-7 1-20 1 14 1 74 1-9 1-26 1 35 1-32 1-21 1 34 1-25 1-3 1 27 1-56 1 85 1-32 1-35 1 46 1-68 1-10 1 40 1 22 1-34 1-18 1 107 1-53 1-49 1 24 1 44 1-34 1-41 1 109 1-9 1-108 1 81 1-4 1-52 1 18 1-14 1 41 1 46 1-57 1-18 1 67 1-58 1-27 1 7 1 6 1 39 1 10 1 5 1-4 1-90 1 78 1-63 1 52 1-3 1-29 1 7 1 1 1 27 1-4 1 54 1-52 1 9 1-5 1-19 1 37 1-58 1 35 1-33 1 16 1-54 1 11 1 78 1-20 1 15 1-32 1-22 1 50 1 16 1-71 1-41 1 55 1 16 1-55 1 11 1 64 1 24 1 13 1-68 1 28 1-21 1-29 1 16 1 43 1-62 1 13 1 21 1-23 1-15 1 27 1 57 1-33 1-42 1 43 1-27 1 33 1-16 1-44 1 21 1 29 1 0 1-21 1 27 1-48 1 14 1 8 1-59 1 87 1-43 1 24 1-34 1 62 1-34 1-10 1 59 1-61 1-37 1 105 1-64 1-19 1 24 1 57 1-29 1-45 1 34 1 67 1-39 1 11 1-58 1 10 1 75 1-81 1 29 1 14 1-2 1-33 1 40 1-49 1-24 1 54 1-13 1-21 1 17 1-43 1 57 1 26 1-104 1 32 1 12 1-22 1 51 1 43 1-46 1 44 1-43 1 10 1-31 1 27 1-44 1 80 1-84 1 4 1 42 1-37 1 48 1-1 1-13 1-68 1 57 1 10 1-6 1-4 1-20 1 9 1 31 1-1 1-35 1 41 1 17 1 3 1-44 1 73 1-124 1 75 1-16 1-8 1 0 1-18 1 27 1-14 1-5 1 3 1-5 1 40 1 21 1-49 1 16 1 45 1-89 1 55 1-36 1 29 1 9 1 27 1-73 1 52 1-37 1 49 1-80 1 80 1 20 1 8 1-27 1-40 1-24 1 54 1-13 1-75 1 14 1 63 1-23 1-50 1 16 1 14 1 48 1 1 1-4 1-22 1 1 1-8 1 68 1-110 1 73 1 7 1-22 1-84 1 71 1-1 1-27 1 8 1 8 1 31 1-43 1 38 1-52 1 108 1-123 1 49 1-34 1 1 1 50 1 32 1-71 1 40 1-32 1 46 1-98 1 89 1-32 1 4 1-5 1-44 1 88 1-16 1-45 1 16 1 1 1-55 1 69 1 21 1-20 1-5 1-54 1 33 1-32 1 33 1 32 1 66 1-80 1 7 1-16 1 4 1 48 1-57 1 21 1 21 1-54 1 105 1-88 1 24 1 42 1-64 1-55 1 77 1 20 1-25 1 33 1-29 1 59 1 0 1-54 1 38 1-58 1 35 1 14 1-72 1 48 1-82 1 31 1-9 1 76 1-61 1 88 1-90 1 12 1-24 1 48 1-21 1 12 1 21 1-18 1-25 1-16 1 46 1 59 1-19 1-38 1-27 1 54 1-24 1-28 1 4 1-5 1-15 1 31 1-14 1 24 1-19 1-39 1 60 1 57 1-108 1 57 1-41 1 38 1 61 1-29 1-61 1-5 1 8 1 38 1-33 1-25 1 48 1-82 1 47 1 75 1-66 1 9 1-31 1 3 1-13 1 10 1-15 1-20 1 65 1-32 1 71 1-14 1 1 1 19 1 5 1-61 1 61 1 23 1-47 1-68 1 36 1 12 1-26 1-10 1 84 1-59 1-2 1 34 1-55 1 100 1-64 1 6 1-63 1 29 1 51 1-27 1-8 1-6 1 24 1-81 1 122 1-21 1-1 1-100 1 74 1 46 1-68 1-23 1-31 1 36 1 43 1-88 1 16 1 72 1-73 1 40 1-4 1 29 1-65 1 27 1-38 1 80 1-66 1 72 1-96 1 19 1 53 1-43 1 6 1-40 1 3 1-19 1 21 1 30 1 7 1-20 1-92 1 107 1-8 1-34 1-1 1-65 1 43 1 70 1 34 1-55 1-30 1 29 1 25 1-50 1 45 1 21 1 26 1-54 1-18 1 42 1-13 1 10 1-8 1 26 1-23 1 44 1-25 1-16 1 86 1-40 1-16 1-21 1-51 1 91 1 6 1-49 1 36 1-34 1 29 1 5 1-34 1 7 1 40 1-46 1-32 1-10 1 59 1 68 1-56 1 16 1 11 1-30 1 49 1-117 1 62 1 53 1-40 1 32 1 3 1-43 1-59 1 20 1 45 1 57 1-62 1-86 1 67 1 2 1 4 1 14 1-96 1 144 1-34 1-13 1-13 1-54 1 28 1 77 1-46 1-2 1-28 1-10 1 15 1 36 1 0 1-10 1-79 1 30 1 7 1-33 1 60 1-58 1 103 1-57 1-12 1-35 1 25 1 65 1-116 1 44 1 62 1-117 1 74 1-34 1 74 1-74 1-15 1 46 1 74 1-78 1 23 1 4 1-38 1 21 1 6 1 26 1-20 1-8 1-54 1 135 1-78 1-3 1 36 1 32 1-55 1 7 1-53 1 41 1 8 1-41 1 44 1-69 1 103 1-117 1 86 1-74 1 51 1 28 1-120 1 54 1 0 1-54 1 22 1 62 1-97 1 25 1-47 1 7 1 54 1 22 1-101 1 68 1-10 1-103 1 85 1-71 1-9 1-4 1 3 1 27 1 19 1 17 1-103 1 120 1-109 1-42 1 93 1-5 1 21 1-10 1 9 1-80 1 19 1-8 1 37 1-33 1 79 1-32 1 9 1-39 1 2 1 10 1 20 1-73 1 41 1 73 1-11 1 22 1-24 1-13 1 36 1-18 1 51 1-19 1 17 1 16 1-41 1 4 1 14 1 19 1 64 1-60 1 4 1 54 1 21 1-30 1 27 1-35 1 8 1 0 1 33 1-25 1 0 1-34 1 2 1 35 1-7 1 48 1-48 1 34 1-26 1-33 1-5 1 31 1 17 1-50 1 83 1-15 1 7 1-28 1 20 1-8 1-86 1 40 1 88 1-94 1 44 1 6 1-18 1 9 1 53 1-141 1 16 1 109 1-25 1-60 1 83 1-96 1 0 1 29 1-18 1 18 1-28 1-5 1 21 1 48 1-64 1-1 1 63 1-33 1 89 1-1 1-98 1-43 1 32 1 57 1-35 1 67 1-81 1 26 1 27 1 53 1-88 1 56 1-15 1 10 1-21 1 4 1 16 1 6 1-46 1 41 1 8 1 29 1-47 1 75 1-123 1 7 1 30 1 27 1 48 1-27 1 1 1-13 1-40 1 102 1-33 1-56 1 21 1 3 1 32 1-1 1 0 1-39 1 37 1-18 1-28 1 27 1-15 1 2 1 22 1-43 1 98 1-47 1-11 1 25 1-40 1 50 1-119 1 79 1-29 1-35 1 99 1-2 1-52 1 61 1 22 1-88 1 36 1-6 1-49 1 2 1 56 1-90 1 47 1 27 1 4 1-35 1 21 1 33 1-14 1 23 1-9 1-9 1-53 1 25 1 0 1 34 1-46 1-23 1 31 1-44 1 45 1 78 1-124 1 113 1-104 1 22 1 24 1-5 1 2 1 23 1 22 1 19 1-77 1-23 1-27 1 59 1-25 1 24 1-59 1 105 1 2 1-25 1 10 1-75 1 63 1-5 1-38 1 73 1-73 1 18 1 45 1-41 1 37 1-32 1-34 1 19 1-19 1 18 1 15 1 22 1 15 1-78 1 39 1 3 1 39 1-12 1-19 1-35 1 29 1-37 1-10 1 70 1-41 1-11 1 61 1-29 1 69 1-7 1-28 1-37 1-17 1 89 1-75 1-65 1 69 1 7 1 10 1-83 1 136 1-60 1 14 1 7 1-14 1 24 1-27 1 48 1-74 1-13 1 4 1 54 1 2 1-57 1-3 1 23 1 12 1-16 1 64 1-74 1 17 1-20 1 24 1 8 1-15 1 5 1-41 1 68 1-37 1 3 1-5 1 43 1 7 1-20 1-41 1 48 1-45 1 13 1-29 1 17 1 62 1-44 1-16 1 62 1-48 1 20 1-66 1-6 1-6 1 64 1-69 1 83 1 26 1-40 1-13 1 29 1-46 1 77 1-42 1 17 1-34 1 60 1-13 1-44 1 39 1-22 1-18 1-26 1 33 1-50 1 99 1-73 1 94 1-128 1-9 1 4 1 102 1-83 1 79 1-41 1-19 1 26 1 20 1 15 1 13 1-73 1 63 1-27 1 8 1 30 1-45 1 20 1 25 1-106 1 32 1-22 1-27 1 66 1 49 1-26 1-31 1 61 1-3 1 23 1 2 1-58 1-19 1 8 1 36 1-105 1 59 1 43 1-46 1-3 1 15 1-15 1-28 1 38 1 19 1 38 1 13 1-54 1-24 1-52 1 117 1-46 1 16 1 8 1-12 1-16 1 3 1 29 1-84 1 64 1 4 1 57 1-86 1-6 1 23 1 24 1-66 1 73 1-11 1-79 1-2 1 103 1-40 1 58 1-69 1-57 1 51 1-13 1 50 1-31 1-55 1 5 1 51 1 65 1-53 1 33 1-108 1 80 1-4 1 17 1-28 1-65 1 50 1 11 1 36 1-26 1 17 1-38 1 41 1-13 1 2 1-19 1 14 1 9 1-5 1-80 1 62 1 38 1-6 1-50 1 42 1-35 1 35 1-43 1 34 1-43 1 34 1 6 1 2 1 5 1 46 1-71 1 34 1-32 1 38 1-8 1-44 1 51 1-12 1-19 1 0 1 52 1-41 1-6 1 28 1-12 1 9 1 6 1-77 1 57 1 32 1-22 1 16 1-6 1 31 1-54 1-3 1-71 1 103 1 18 1-55 1-3 1 44 1-80 1 24 1-27 1 111 1-44 1-55 1 63 1-23 1 9 1 55 1-88 1 89 1-115 1 36 1 12 1-26 1 5 1 59 1-54 1 30 1-19 1 18 1-10 1-31 1 37 1 16 1-17 1 44 1-12 1-98 1 8 1-23 1 26 1 48 1-51 1-13 1 27 1 67 1-59 1 18 1 37 1-61 1-4 1-3 1 73 1-9 1-10 1-34 1 37 1-12 1-38 1 98 1-57 1 1 1 18 1-10 1 24 1-60 1 37 1-65 1 49 1 64 1-38 1 38 1-86 1-9 1 41 1-63 1 62 1 15 1-32 1 18 1-35 1 36 1-6 1 13 1-64 1-16 1 10 1 43 1 3 1 38 1-40 1-6 1 81 1-106 1 27 1 24 1 10 1 9 1-15 1-21 1-19 1 78 1-59 1 41 1-78 1 15 1 23 1 72 1-20 1-12 1-100 1 102 1-38 1 12 1 17 1-64 1 36 1-15 1-25 1 29 1 15 1-54 1 25 1 52 1-41 1 30 1-1 1-14 1 5 1-1 1-13 1 32 1-24 1-45 1 20 1-41 1 54 1-24 1 42 1-70 1 96 1-54 1-51 1 119 1-62 1-19 1 27 1-68 1 52 1-10 1 5 1 70 1 4 1 18 1-85 1 7 1-14 1 27 1 14 1-45 1 95 1-72 1 14 1-61 1 63 1 0 1-42 1 77 1-54 1-49 1 5 1 52 1 6 1-12 1 40 1-7 1 22 1-83 1 13 1 86 1-64 1-34 1 25 1 50 1-74 1 49 1-79 1 53 1-26 1 17 1-11 1 24 1-45 1 42 1-12 1 28 1 26 1 29 1-100 1 21 1-38 1 40 1-6 1-28 1 56 1 6 1-66 1 62 1 44 1-68 1-42 1 3 1 60 1 19 1-26 1 0 1 1 1 3 1-43 1 81 1 19 1-39 1-44 1 34 1-45 1 22 1 41 1-31 1 12 1-91 1 23 1 82 1-30 1-75 1 127 1-56 1-22 1 73 1-11 1-72 1-14 1 94 1-21 1 7 1-32 1-26 1-23 1 23 1 63 1 9 1-50 1-34 1-6 1 115 1-65 1-61 1 69 1 30 1-66 1-11 1 36 1 48 1-41 1-57 1 53 1-20 1 15 1 8 1 30 1 5 1 27 1-62 1 6 1 5 1-18 1 70 1-20 1-82 1 60 1-33 1 60 1-39 1-64 1 77 1 44 1-74 1-63 1 129 1-85 1 64 1-41 1-29 1 21 1-31 1 32 1 25 1-54 1 82 1 20 1-108 1 85 1-42 1-41 1 38 1 11 1-38 1 20 1 5 1 45 1-46 1 18 1 9 1 3 1-43 1-26 1 50 1-26 1 35 1-60 1 42 1-4 1 38 1-20 1-4 1 27 1-43 1 1 1 13 1 32 1-2 1-15 1-23 1 51 1-91 1-2 1 38 1 63 1 6 1-56 1-73 1 60 1 30 1-71 1 19 1 85 1-71 1 49 1-69 1 10 1 19 1 32 1-29 1-3 1-18 1 60 1-82 1 60 1-60 1 92 1-91 1 34 1-32 1 59 1 45 1-70 1 60 1-65 1 86 1-56 1-9 1-5 1 16 1 40 1-25 1-54 1-18 1-29 1 93 1-51 1-43 1 55 1 64 1-87 1 29 1-40 1 83 1-42 1 23 1-44 1 6 1 27 1-66 1 132 1-6 1-49 1-32 1 44 1 10 1-65 1 0 1 23 1 1 1-24 1 38 1 21 1 8 1-23 1 20 1-59 1 1 1 23 1-39 1-29 1 115 1-88 1-33 1 58 1 11 1-13 1-11 1 11 1 11 1 19 1-15 1-12 1 19 1-24 1-17 1 47 1-57 1 31 1-29 1 27 1 79 1-85 1 23 1 30 1-55 1 56 1-51 1 17 1-73 1 81 1-10 1 28 1-59 1-4 1 55 1 43 1-96 1 16 1 76 1-65 1 6 1 28 1-16 1 1 1-69 1 65 1-6 1-45 1-31 1 143 1-42 1-93 1 52 1 11 1-31 1 12 1 56 1-41 1-37 1-2 1 35 1 40 1-23 1-2 1-39 1 21 1 45 1-26 1 35 1-18 1-28 1 3 1 66 1-101 1 87 1-63 1 14 1-4 1 20 1-24 1 66 1-68 1-4 1-4 1-14 1 15 1 26 1-9 1-74 1 59 1 21 1-72 1 32 1-15 1-45 1-2 1 106 1-22 1 21 1-101 1 45 1-12 1-36 1-5 1 79 1-97 1 22 1-3 1-17 1 60 1-44 1-87 1 115 1-68 1-61 1 23 1 104 1-90 1-74 1 139 1-114 1-38 1 3 1 25 1 42 1-43 1-63 1-31 1-25 1 56 1 51 1-41 1 22 1-63 1-67 1 30 1 6 1-28 1 35 1-12 1-11 1-42 1 35 1 66 1-79 1-15 1 70 1-84 1 50 1-22 1 36 1-26 1-3 1 24 1-55 1 124 1-45 1 68 1-62 1 17 1 62 1 1 1-2 1 65 1-67 1 36 1-18 1-23 1 88 1-37 1 43 1-17 1 31 1-12 1 22 1-5 1 8 1 35 1-35 1 35 1-33 1 21 1-43 1 41 1 1 1 33 1 45 1 4 1-10 1-8 1 63 1-68 1-14 1 34 1-28 1 48 1-56 1-26 1 99 1-86 1 4 1 87 1-37 1 72 1-61 1-19 1-5 1-4 1 83 1-47 1-7 1 8 1-42 1 24 1 46 1 13 1-31 1 15 1 25 1-76 1-8 1 3 1 5 1 93 1-71 1-35 1 20 1 79 1-88 1 33 1-10 1-13 1 37 1 6 1-9 1-13 1-49 1 24 1 24 1-25 1 3 1 6 1-22 1 51 1 38 1-4 1-37 1 6 1-35 1-54 1 85 1 10 1 31 1-63 1 17 1 7 1-18 1-17 1 39 1-63 1 27 1 2 1-20 1-24 1 23 1-14 1 70 1 9 1-14 1-13 1-58 1 2 1 52 1-16 1-52 1 82 1-70 1-1 1-11 1 141 1-104 1 56 1-73 1 122 1-52 1 12 1-11 1-18 1-21 1-51 1 83 1 50 1-78 1-37 1 26 1 26 1-8 1-29 1 32 1 32 1-87 1 56 1-31 1 22 1 34 1 16 1-98 1 74 1-32 1 27 1 48 1-123 1-1 1 87 1-40 1 11 1 28 1-29 1-15 1 99 1-97 1 1 1 21 1-6 1-23 1 72 1-13 1-16 1-51 1 34 1-13 1-37 1 40 1 55 1-32 1-53 1-2 1 78 1-64 1 37 1-17 1 52 1-3 1-22 1 6 1-28 1 14 1 13 1-11 1 32 1-12 1-22 1 6 1 31 1 26 1-66 1 28 1-35 1-6 1 21 1-22 1-10 1 27 1 13 1 5 1-6 1-44 1-37 1 88 1 30 1-56 1 5 1 42 1-66 1 25 1 36 1 30 1-77 1-32 1 71 1 32 1-33 1-36 1 38 1-64 1 25 1 74 1-67 1 36 1 22 1-121 1 56 1-41 1 57 1-17 1 84 1-70 1 25 1-54 1-41 1 44 1 62 1-70 1 26 1 67 1-43 1-9 1-52 1 38 1-51 1 88 1-7 1-36 1 74 1-71 1-7 1 10 1 27 1 4 1-16 1-52 1 23 1-17 1-18 1 58 1 19 1 15 1-42 1 52 1-97 1 74 1-2 1-5 1 20 1-50 1-41 1 87 1-9 1-91 1 118 1-5 1-22 1 6 1-24 1 10 1-4 1 41 1-22 1 33 1-75 1 17 1 25 1-46 1 85 1-107 1 50 1-22 1-8 1 1 1 6 1-27 1 49 1 43 1-16 1-88 1 24 1 31 1 34 1-12 1-31 1 74 1-26 1-15 1-10 1-8 1 1 1-56 1 50 1-16 1-13 1 25 1 3 1 39 1 8 1-78 1 5 1-45 1 69 1-7 1-37 1-29 1 140 1-46 1-3 1-67 1 15 1 12 1 37 1 8 1-47 1 91 1-10 1-90 1 64 1-52 1 36 1-28 1 6 1 28 1-32 1 12 1-8 1 51 1-3 1-69 1 35 1 0 1-77 1 74 1 60 1-71 1-5 1 30 1 19 1-27 1-38 1 12 1-13 1 101 1-82 1-17 1 16 1 70 1-69 1-3 1 20 1 9 1-32 1 0 1-18 1 12 1 83 1-100 1 23 1 47 1-82 1 49 1 29 1 18 1-3 1-110 1 88 1-49 1 56 1-66 1 11 1-3 1 19 1-14 1-9 1 62 1 4 1-85 1 40 1 31 1 15 1 38 1-3 1-65 1-8 1 35 1-1 1-70 1 66 1 34 1-51 1-34 1-21 1 38 1 60 1-70 1-1 1 34 1 20 1-61 1-8 1 3 1-3 1 31 1-32 1 69 1-70 1 26 1-9 1 15 1 54 1-107 1 117 1-95 1 82 1-108 1 93 1-96 1 43 1 25 1-32 1 2 1 70 1-35 1-29 1 6 1 9 1-12 1 22 1-62 1 16 1 71 1-60 1 15 1-29 1-15 1 106 1-49 1 8 1 47 1-78 1 0 1-7 1 61 1-15 1-59 1 26 1 42 1-95 1 46 1 73 1-22 1-18 1-42 1 41 1-12 1-51 1 65 1-3 1-3 1-18 1 58 1-39 1-26 1-5 1 62 1-85 1 102 1-71 1 33 1-10 1-48 1-10 1 43 1 20 1 36 1-47 1-20 1 74 1-60 1 2 1 18 1 11 1-15 1-32 1 17 1-17 1-10 1 13 1-23 1-27 1 99 1-45 1-16 1 27 1-32 1-41 1 20 1 68 1-38 1-52 1 15 1-39 1 40 1-12 1-46 1 17 1 29 1-15 1 76 1-124 1 62 1-12 1-67 1 31 1-4 1-37 1 71 1-42 1 4 1 23 1-56 1 50 1-90 1 26 1 5 1-45 1-6 1 36 1-60 1 26 1-44 1 91 1-6 1-47 1-21 1-30 1 68 1 1 1-110 1 17 1 63 1 56 1-117 1 96 1 21 1 14 1-78 1 61 1-105 1 66 1-43 1 24 1 31 1-40 1 68 1-25 1 18 1-19 1 18 1 50 1-52 1-28 1 80 1-79 1 48 1 23 1-6 1-1 1-23 1 24 1-21 1 2 1 56 1-78 1 92 1-45 1 64 1-130 1 11 1 54 1 25 1-43 1 7 1-4 1 72 1-76 1-38 1 58 1 15 1 30 1-15 1-3 1-13 1 33 1-20 1-28 1 37 1 6 1 85 1-36 1-16 1-24 1 45 1-7 1-46 1 22 1 48 1-78 1-5 1-8 1 114 1-76 1 21 1 0 1 49 1-48 1 22 1 53 1-53 1 60 1-42 1-60 1 4 1 28 1-63 1-1 1 79 1-42 1 3 1 28 1-22 1 9 1 47 1-104 1 94 1-66 1-13 1-17 1 33 1-78 1 93 1-20 1-100 1 21 1 30 1-14 1 39 1-38 1 59 1-88 1-15 1 10 1-2 1-20 1-38 1-20 1 81 1-16 1-62 1 56 1 69 1-10 1-88 1 40 1-18 1 5 1-42 1 29 1 87 1-18 1-95 1 104 1-42 1 13 1-5 1-69 1 92 1 20 1 2 1-83 1 116 1-69 1 42 1-29 1 14 1-1 1 58 1 2 1-53 1 16 1 60 1-69 1 31 1 32 1 14 1-31 1 33 1-2 1 51 1-4 1-28 1-23 1 14 1-3 1 0 1 68 1-35 1 10 1 34 1-66 1 24 1-33 1 66 1-67 1 47 1-34 1 2 1 33 1 25 1 11 1-45 1 29 1-85 1 83 1-24 1-6 1 20 1-61 1 47 1-70 1 64 1-44 1 66 1-17 1-58 1 38 1 10 1 9 1 11 1-19 1 30 1 5 1-6 1 0 1-24 1-19 1 4 1-21 1-1 1 99 1-14 1-53 1 26 1-39 1 57 1-35 1-56 1 35 1 38 1-62 1 50 1 8 1-3 1-2 1-51 1 43 1-14 1 64 1 21 1-45 1-36 1 29 1 2 1-26 1 33 1 43 1-41 1 23 1-20 1-37 1 80 1-106 1 61 1-29 1-23 1-17 1-20 1 76 1-10 1-44 1 81 1-52 1 16 1 3 1-21 1-12 1 41 1 47 1-69 1 28 1-33 1-34 1 68 1-27 1-5 1 22 1-53 1 12 1-11 1 37 1-42 1-49 1 50 1-54 1 39 1 17 1-27 1 64 1-85 1 48 1 10 1 11 1-18 1 71 1-79 1 56 1-65 1 55 1-10 1 22 1-26 1-21 1 27 1-15 1 12 1 0 1 7 1 26 1-40 1-21 1 22 1 64 1-45 1-40 1 24 1 23 1 31 1-27 1 25 1 0 1-57 1 46 1-83 1 30 1 8 1 18 1 19 1 58 1-66 1-38 1 59 1-33 1 52 1-56 1 33 1-20 1 28 1-13 1-38 1 83 1-116 1 109 1-40 1 8 1-40 1 39 1-26 1 39 1-21 1-37 1 4 1-17 1 81 1-47 1 6 1 47 1-37 1-46 1 34 1 42 1-31 1-3 1-13 1 16 1-27 1 2 1 85 1-83 1 3 1 20 1-11 1 18 1-28 1 3 1 24 1 40 1-92 1 32 1-7 1 41 1-5 1-18 1 23 1-80 1 8 1-1 1-17 1 42 1 44 1-25 1 16 1 5 1 28 1-69 1 53 1-86 1 117 1-90 1-28 1 37 1-13 1 21 1-6 1-17 1 45 1-46 1 32 1 17 1-27 1 14 1-15 1 19 1 20 1-47 1 74 1-36 1 7 1 5 1-2 1 14 1-41 1-54 1 62 1 30 1 17 1-74 1 88 1-54 1 3 1-69 1 120 1-132 1 104 1-1 1-3 1-16 1-90 1 119 1-69 1-35 1 38 1 36 1-41 1 62 1 14 1 17 1-95 1-11 1 32 1 9 1 47 1-21 1-82 1-15 1 54 1-20 1 16 1-10 1 6 1 58 1-68 1 16 1-25 1 63 1-33 1-11 1 35 1-3 1-37 1 37 1-61 1 35 1 24 1-21 1 53 1-68 1-14 1 11 1 93 1-87 1 25 1-30 1-39 1 17 1 35 1-24 1 73 1-19 1 53 1-43 1-43 1 33 1-81 1 79 1-29 1 17 1-13 1-38 1 104 1-3 1 18 1-39 1-67 1 32 1-49 1 37 1 21 1-17 1 22 1-66 1 75 1-24 1 33 1-70 1-28 1 79 1-10 1-69 1 74 1-12 1 46 1-22 1 17 1 6 1-5 1-31 1 43 1-33 1 18 1-3 1-12 1 14 1-73 1 51 1-8 1-25 1-44 1 0 1 106 1-30 1 48 1-124 1 60 1 24 1 5 1-4 1-21 1 21 1-4 1 4 1 49 1-29 1 8 1-78 1 48 1-16 1 15 1-75 1 56 1 29 1-13 1 19 1 11 1-41 1 8 1-4 1 7 1 59 1-78 1-19 1 32 1-18 1 16 1-16 1 12 1 7 1-8 1-10 1 3 1 37 1-59 1-1 1 56 1-25 1-37 1 16 1 87 1-112 1 7 1 86 1-70 1 10 1 13 1-5 1-40 1 73 1-36 1 26 1 19 1-9 1-57 1 69 1-46 1-25 1 81 1-112 1 51 1 10 1 17 1-8 1-64 1 111 1 20 1-87 1-4 1 67 1 2 1-37 1 4 1 34 1-93 1 3 1 46 1-6 1-40 1 83 1 14 1-38 1 26 1-41 1 1 1 6 1 10 1 14 1 17 1-36 1 16 1 2 1-34 1-18 1 32 1-4 1-47 1 16 1-12 1 53 1 24 1-107 1 54 1-4 1 41 1 4 1-90 1 24 1-12 1 6 1 54 1-51 1 38 1-18 1 8 1-34 1 65 1 31 1-83 1 34 1 10 1-4 1 7 1-52 1 30 1-32 1 81 1-77 1 14 1 32 1-87 1 73 1-14 1 80 1-60 1 28 1-7 1 5 1-84 1 90 1-33 1-35 1 37 1-25 1 43 1-53 1 61 1-57 1 3 1-32 1 61 1 4 1-42 1 46 1-22 1 1 1 9 1-75 1 83 1-83 1 34 1-1 1 29 1 18 1-9 1 4 1-53 1 60 1 5 1-15 1-9 1 18 1-33 1 7 1 37 1 31 1-35 1-11 1-65 1 63 1 0 1 63 1-70 1-70 1 53 1-34 1 52 1 42 1-21 1-28 1 7 1 32 1-53 1 17 1 63 1-116 1 127 1-37 1-102 1 100 1-22 1 17 1-29 1 56 1-54 1 42 1-43 1 5 1 36 1-17 1 1 1-12 1-75 1 100 1-65 1 62 1-64 1 74 1-87 1 43 1 32 1 25 1-45 1-63 1 69 1 50 1-114 1 73 1 10 1-10 1-16 1 4 1-86 1 45 1-18 1 20 1 60 1-85 1 58 1-39 1-42 1 49 1 47 1 14 1 30 1-95 1 20 1 31 1-73 1 46 1 5 1-6 1 10 1 9 1 42 1-110 1 48 1 3 1-16 1 60 1-71 1-23 1 115 1-107 1 67 1-100 1 68 1-27 1 23 1 13 1-3 1-8 1-30 1 35 1 0 1-11 1 62 1-46 1-22 1-19 1 49 1-62 1-6 1 23 1-4 1-8 1 85 1-7 1-17 1-101 1 53 1 41 1-52 1 47 1-33 1-6 1 8 1-60 1 49 1 7 1 27 1-22 1-25 1-4 1-70 1 70 1-38 1 104 1-59 1-54 1 90 1-56 1-61 1 90 1-42 1 38 1-19 1-77 1 103 1-89 1-24 1 58 1-103 1 40 1-21 1 39 1 27 1-84 1 26 1 48 1-112 1 52 1-17 1-18 1 59 1-25 1-46 1-23 1-6 1-26 1-2 1 53 1-28 1-27 1 8 1-5 1 64 1-18 1-75 1 1 1 46 1 32 1-62 1 61 1-41 1 85 1-104 1 118 1-115 1 22 1-12 1-1 1 102 1-15 1 47 1-116 1 87 1-10 1 28 1-62 1 49 1 20 1 4 1-79 1 72 1-17 1 53 1-31 1-6 1 57 1 1 1 7 1-18 1-60 1 111 1-11 1-27 1 7 1 46 1 14 1-95 1 51 1 47 1-52 1 21 1-33 1-12 1-1 1 12 1 21 1 77 1-93 1-1 1 93 1-110 1 8 1 15 1 83 1 21 1-27 1 2 1-30 1 8 1-36 1 80 1-97 1 91 1-45 1 37 1-64 1 37 1 20 1 9 1-9 1-23 1 32 1-17 1 11 1-69 1 59 1-19 1 45 1-5 1-16 1 54 1-62 1-29 1-31 1 65 1 76 1-86 1 61 1-54 1-10 1 67 1-49 1-23 1 29 1-49 1-14 1 85 1-42 1 18 1-37 1 21 1-13 1 8 1-17 1 106 1-30 1-46 1-2 1-9 1 55 1-56 1 44 1-40 1 14 1-60 1 21 1 9 1 32 1 70 1-2 1-102 1 51 1-21 1 44 1 16 1-47 1-56 1 57 1 3 1 12 1 45 1-139 1 59 1 19 1-50 1 104 1-132 1 101 1-37 1-2 1 53 1 25 1-60 1 6 1-86 1 101 1-15 1 35 1-70 1 25 1-28 1 26 1-21 1 29 1-47 1 32 1-53 1 65 1-23 1-1 1-18 1-36 1 118 1-63 1 33 1-54 1 6 1 56 1-11 1-54 1 27 1 37 1-50 1 54 1-32 1-22 1 44 1-59 1 72 1-43 1 9 1 14 1-2 1 17 1-11 1-43 1-14 1 13 1 94 1-119 1 33 1-22 1 81 1-64 1 30 1 32 1-13 1-74 1 46 1 49 1-49 1-12 1 50 1-35 1-11 1 35 1-37 1-50 1 123 1-48 1 19 1-11 1 2 1-7 1-30 1 27 1 4 1-22 1-27 1 75 1 8 1-32 1-31 1-13 1 17 1 29 1-35 1 34 1-9 1-76 1 48 1-12 1 5 1 22 1-23 1 99 1-68 1-15 1-55 1 66 1 4 1 16 1-3 1 42 1-17 1-3 1-94 1 29 1 43 1-44 1 17 1 6 1-62 1 51 1-26 1 56 1-47 1 87 1-118 1 27 1 7 1 30 1 15 1 10 1-25 1 4 1 17 1 10 1-7 1 51 1-110 1 44 1 66 1-76 1-17 1-45 1 36 1 0 1 24 1-14 1 11 1 26 1-26 1 17 1 32 1-13 1-8 1-50 1 103 1-78 1 6 1-38 1 30 1 9 1 33 1-8 1-59 1 31 1 52 1-20 1 0 1-11 1 10 1-22 1 11 1 57 1-16 1-24 1-17 1-31 1-2 1 69 1-73 1 35 1-38 1 54 1-3 1-79 1 73 1 8 1-76 1 76 1-21 1-41 1 47 1-42 1 29 1 53 1-59 1 14 1-22 1 85 1-68 1 37 1-32 1 57 1-18 1-49 1 40 1-19 1-31 1 15 1-17 1 30 1-70 1 48 1 78 1-74 1 21 1-26 1 26 1-64 1 32 1 86 1-36 1 20 1-70 1 46 1-1 1-46 1 23 1 64 1-74 1 20 1-46 1 5 1-7 1-3 1 107 1-46 1-37 1 6 1-37 1-12 1 85 1-38 1 10 1 45 1-52 1 16 1 56 1-53 1-42 1 64 1-51 1-24 1 31 1 48 1 28 1-58 1-8 1 15 1 16 1-65 1 23 1 51 1-42 1 31 1 0 1-84 1 38 1 24 1-8 1 38 1-45 1 20 1-39 1 67 1-46 1 13 1 30 1-50 1 30 1 20 1-45 1-39 1 100 1-12 1-47 1-11 1 31 1-31 1-6 1-26 1 66 1-10 1-27 1 14 1 54 1-27 1-52 1 25 1-27 1-2 1 59 1-14 1-15 1-38 1 8 1 73 1-43 1 41 1-58 1 23 1-12 1 18 1-14 1-9 1-5 1 2 1-14 1 32 1 45 1-55 1-17 1 49 1-40 1 49 1-62 1 38 1-18 1 23 1-45 1 5 1 56 1 12 1-44 1-1 1 1 1 29 1-94 1 69 1 0 1-13 1-49 1 37 1 23 1-59 1 85 1-62 1 6 1 80 1-35 1-89 1 85 1 4 1 8 1 33 1-18 1-78 1 26 1-26 1 31 1 27 1-34 1 28 1 15 1-28 1-11 1-4 1-12 1-6 1 15 1 34 1-8 1-63 1 53 1-7 1-2 1 47 1-38 1-8 1 66 1-94 1 65 1-86 1 64 1-44 1 72 1-56 1 80 1-42 1-12 1 23 1-33 1-33 1 46 1 38 1-63 1 7 1 21 1-46 1-7 1 23 1 43 1-14 1 21 1-72 1 27 1 32 1-1 1-39 1-9 1-25 1 28 1-32 1 34 1-21 1 99 1-107 1 22 1 1 1 0 1 39 1-12 1-36 1 35 1 1 1 54 1-24 1-44 1 51 1-5 1-25 1 26 1-7 1-98 1 102 1-78 1 5 1 108 1-100 1 14 1 85 1-69 1-10 1 8 1 65 1-75 1-5 1 81 1-45 1-68 1 18 1 69 1 3 1-56 1-21 1 36 1 49 1-58 1 26 1-11 1-65 1 4 1 73 1-39 1-20 1-53 1 18 1 98 1-69 1-33 1 49 1 8 1-10 1 18 1-20 1-31 1 24 1-27 1-4 1 20 1 53 1-14 1-53 1 23 1 6 1 21 1-28 1-21 1 1 1-25 1 36 1-17 1 46 1-62 1-37 1 85 1-20 1 20 1 28 1 20 1-42 1 32 1-16 1 10 1-9 1 18 1-58 1 23 1-11 1 8 1-15 1 49 1 21 1-121 1 143 1-69 1-10 1 23 1 0 1-72 1 57 1 7 1 6 1 4 1 34 1-75 1 2 1 71 1-33 1 28 1-70 1 46 1 27 1-53 1-5 1 60 1-69 1 42 1 31 1-5 1 16 1-43 1 34 1-10 1 24 1 3 1-50 1 74 1-50 1-32 1 21 1-51 1 52 1 60 1-109 1 110 1-69 1 1 1-22 1 16 1 13 1-10 1-28 1 46 1-7 1-36 1 38 1-51 1 37 1-25 1 23 1 44 1-78 1-32 1-10 1 101 1-7 1-17 1 7 1 9 1-30 1 12 1-37 1 59 1-95 1 69 1-15 1 39 1-40 1 31 1 45 1-24 1 9 1-128 1 44 1 93 1-84 1 50 1-27 1 4 1-45 1 66 1 26 1-136 1 120 1-71 1 19 1-53 1 70 1-82 1 21 1 36 1-8 1-8 1 17 1-76 1 92 1 50 1-139 1 98 1-37 1 21 1-55 1 2 1 100 1-42 1-38 1 8 1 7 1-8 1 7 1-59 1 133 1 2 1-50 1 13 1-82 1 90 1-64 1 109 1-49 1-84 1 71 1-20 1 1 1 21 1-75 1 54 1 43 1 35 1-129 1 12 1 69 1-31 1 96 1-50 1-37 1-30 1 54 1-15 1 26 1-55 1-6 1 38 1-44 1 55 1 40 1-90 1 32 1-22 1 91 1 20 1-61 1 6 1 38 1-51 1 59 1-87 1 70 1-37 1 1 1 14 1 36 1-63 1 57 1-29 1-20 1 37 1 5 1-24 1 61 1-67 1 1 1-18 1 84 1-54 1 20 1-43 1 24 1 7 1-16 1 1 1-39 1 11 1 60 1-23 1-33 1 11 1-46 1 73 1-21 1-67 1 86 1-11 1 13 1-64 1 61 1-15 1 12 1-18 1 20 1-22 1 23 1-4 1-46 1 46 1 29 1 26 1-120 1 68 1 29 1-48 1-2 1-60 1 38 1 2 1 23 1 12 1 32 1-75 1-6 1 37 1 3 1 21 1-18 1 19 1-46 1 66 1-55 1 13 1-37 1 51 1-54 1 74 1-34 1 3 1-46 1 109 1-78 1 5 1 25 1 0 1-42 1 32 1-18 1 26 1 24 1-47 1-23 1 36 1-19 1-4 1 62 1-5 1 16 1-37 1-42 1 0 1 90 1-27 1-59 1-19 1 8 1 39 1 48 1 10 1-66 1-49 1 39 1-38 1 71 1 16 1-10 1-31 1-13 1 1 1 24 1-29 1-10 1 44 1-46 1 24 1-33 1 106 1-53 1-27 1 5 1 11 1-16 1 0 1 16 1-43 1 39 1 20 1-32 1 13 1 44 1 16 1-127 1 104 1-63 1 16 1-39 1-4 1 74 1-50 1 45 1-39 1-6 1 65 1-25 1 4 1 3 1-1 1-39 1-24 1 53 1-29 1-17 1 76 1-1 1-46 1 13 1-3 1-20 1-5 1 94 1-77 1 40 1-28 1 7 1 4 1 2 1 0 1 27 1-51 1 52 1-64 1-1 1 33 1 9 1-64 1 30 1 1 1 19 1 62 1-127 1 8 1 2 1 107 1-69 1 0 1 41 1 6 1-67 1 55 1 9 1-64 1 78 1-84 1 36 1 14 1-16 1-32 1 73 1-50 1-4 1-23 1 28 1-55 1 70 1-6 1 6 1-1 1-36 1 22 1 25 1 20 1 16 1-13 1-49 1-46 1 70 1 12 1-10 1-79 1 64 1-64 1 71 1-15 1-37 1 69 1 17 1-22 1 50 1-105 1 72 1-5 1-29 1-62 1 58 1-9 1-31 1 28 1 42 1-7 1-83 1 76 1-32 1-30 1 93 1-23 1-67 1 65 1-9 1 5 1-1 1-53 1-2 1 24 1-51 1 45 1 25 1-16 1 59 1-85 1 80 1-18 1-5 1 54 1-21 1 20 1-65 1-28 1-16 1 60 1-16 1 11 1-68 1 19 1-35 1 120 1-11 1-67 1-9 1 27 1-20 1 19 1 34 1 2 1 28 1-124 1 67 1-22 1-34 1-4 1 130 1-105 1 29 1 17 1 16 1-27 1 69 1-103 1-8 1 66 1-75 1 37 1 21 1-34 1 19 1 47 1 10 1-21 1-26 1-35 1 7 1-3 1-9 1 15 1 33 1-38 1 6 1 78 1-48 1 31 1-43 1-36 1 33 1-21 1 15 1-10 1 3 1 18 1-34 1 95 1-71 1 21 1-4 1-24 1-18 1 51 1-1 1 26 1-11 1-13 1 46 1-99 1 73 1-14 1 6 1-18 1-60 1-23 1 4 1 50 1 50 1 0 1 17 1-50 1 6 1-73 1 41 1 40 1-71 1 66 1 1 1-14 1 57 1-102 1 68 1-15 1-5 1 39 1-82 1-2 1-7 1 40 1-26 1-9 1-30 1 40 1 43 1-30 1-90 1 121 1-34 1-23 1 0 1-37 1 31 1 10 1 19 1-52 1-24 1 47 1-27 1 15 1-15 1-1 1-45 1 85 1-45 1-86 1 133 1-77 1-21 1-24 1 48 1 22 1-30 1-27 1 46 1-22 1 1 1-1 1 32 1-70 1-23 1 2 1 87 1-92 1 34 1 58 1-97 1 5 1-4 1 59 1-18 1 23 1 65 1-40 1-40 1 22 1-3 1-21 1 38 1 62 1-59 1 14 1 10 1-8 1 34 1-69 1 41 1 1 1-2 1 15 1-15 1 61 1 11 1-112 1 99 1 49 1-86 1 82 1-26 1 1 1-67 1 55 1 49 1-44 1-42 1-11 1 30 1 20 1 57 1-104 1 71 1-93 1 143 1-65 1 29 1 33 1-59 1-66 1 72 1 0 1 21 1-15 1 11 1-72 1 54 1 3 1 20 1-54 1 30 1 39 1-19 1 2 1 50 1-92 1 22 1 65 1-116 1 68 1-23 1 1 1 30 1 0 1-18 1-21 1 1 1-16 1 48 1 21 1-104 1 138 1-121 1 88 1-18 1 24 1-33 1 61 1-75 1 19 1-54 1 43 1-32 1 78 1-101 1 92 1-61 1 26 1 16 1-11 1-14 1 37 1-63 1 44 1-20 1-24 1 20 1-15 1 19 1 2 1 23 1 4 1-10 1-26 1 17 1 5 1 31 1-12 1-67 1 79 1-80 1 48 1-23 1 10 1-33 1 14 1-1 1 74 1-55 1-5 1-33 1 32 1 33 1-1 1-5 1 33 1-42 1-50 1 19 1 48 1-5 1-45 1 48 1-27 1 54 1 27 1-53 1 2 1 14 1-17 1-51 1-7 1 0 1 30 1 12 1-39 1 65 1 25 1-90 1 42 1 38 1-57 1 39 1 28 1-46 1-15 1-45 1 57 1 42 1-68 1-31 1 57 1-53 1-17 1 103 1-37 1 17 1 54 1-66 1-4 1-7 1 33 1-36 1-31 1-25 1 72 1-71 1 63 1 3 1-2 1 52 1-73 1-18 1-10 1 31 1 31 1-40 1 92 1-51 1 20 1 0 1-27 1 11 1 18 1-51 1 1 1-26 1 65 1-57 1 14 1-2 1 55 1-66 1 18 1 39 1 17 1-89 1 92 1-28 1 25 1-62 1 48 1 27 1-26 1-16 1 27 1-39 1 14 1 20 1-6 1 15 1-53 1-3 1 3 1 32 1-4 1-19 1-25 1 46 1-48 1 27 1-67 1 29 1 77 1-41 1-36 1 46 1 50 1-69 1 1 1 80 1-36 1-26 1 12 1-9 1 14 1-21 1-28 1 19 1 44 1-16 1-38 1 17 1 10 1 50 1-26 1-33 1-9 1-13 1 29 1 31 1-87 1 51 1-13 1 54 1-34 1-28 1-8 1-15 1 19 1 63 1 0 1-40 1-52 1 54 1 39 1-53 1 59 1-42 1 61 1-16 1-79 1 7 1 18 1 1 1-36 1 20 1 31 1-21 1 38 1-43 1 16 1 25 1-45 1 31 1-82 1 82 1-28 1 7 1 38 1 32 1-123 1 49 1 16 1-33 1-2 1 6 1 44 1-66 1-4 1 7 1 64 1-94 1 130 1-33 1-36 1 26 1 3 1-52 1 24 1-12 1-35 1 57 1-44 1 19 1-5 1 70 1-41 1 31 1-18 1-4 1 33 1-53 1 11 1-5 1-22 1-8 1 43 1-63 1 58 1 11 1-9 1 1 1-24 1-4 1 44 1-16 1-27 1 72 1-33 1-2 1-27 1-1 1-11 1 25 1 30 1-45 1 77 1-16 1-41 1-14 1 52 1-24 1 7 1 5 1-55 1 70 1-35 1-2 1 15 1-28 1-28 1 36 1 12 1 0 1-11 1 28 1-71 1 50 1-83 1 119 1-46 1 2 1 1 1-5 1-25 1-5 1 52 1-48 1 87 1-127 1 116 1-35 1 24 1-102 1 51 1-41 1 53 1 31 1-76 1 6 1-3 1 15 1 30 1 6 1 32 1-42 1-19 1 13 1 37 1-19 1-29 1-2 1 18 1-71 1 82 1 0 1 1 1-37 1 61 1-86 1 59 1-14 1-5 1 3 1 14 1-4 1-75 1 60 1-60 1 51 1 12 1-13 1 60 1 26 1-117 1 96 1-44 1 16 1 49 1-35 1-52 1 55 1 21 1-53 1-48 1 16 1 49 1-46 1 66 1-50 1 42 1 14 1-106 1-9 1 76 1 37 1-67 1 28 1-51 1 49 1-19 1-40 1 12 1 79"/>
<path transform="translate(140.5,0) scale(0.256167,0.1)" vector-effect="non-scaling-stroke" stroke="#a0a0a0" d="M0 10147 l1-52 1 3 1-8 1-69 1 77 1-59 1 60 1-27 1 58 1-45 1 7 1-38 1 60 1-29 1 28 1 7 1-1 1-35 1-59 1 26 1 71 1 5 1 11 1-66 1-15 1 67 1-1 1-30 1-1 1-48 1 40 1 55 1-80 1 16 1 11 1-6 1-53 1 46 1-2 1 9 1-3 1 14 1-36 1 96 1-71 1 63 1 0 1-48 1-46 1-29 1 18 1 44 1 16 1-34 1 10 1 89 1-62 1-53 1 64 1-55 1-36 1 76 1-34 1 30 1 62 1-59 1-34 1 89 1-128 1 28 1 91 1 5 1-64 1-17 1 37 1-1 1-6 1-23 1-30 1 21 1 11 1 1 1-10 1 18 1-59 1 96 1 16 1-70 1-27 1 61 1 7 1-23 1 40 1-53 1-20 1 93 1-70 1 3 1-56 1 57 1-8 1 20 1 25 1-17 1-48 1 80 1-25 1 7 1-22 1 6 1-53 1-5 1 31 1-3 1 34 1-77 1 49 1-10 1 69 1-59 1 0 1 21 1 14 1-84 1 23 1 66 1-11 1-11 1 54 1-110 1 58 1-20 1 28 1-36 1 36 1 66 1-54 1-14 1 50 1-33 1 50 1-102 1-8 1-31 1 36 1-35 1 122 1-49 1 14 1-13 1-5 1-9 1-45 1 108 1-67 1 76 1-39 1-72 1 33 1-1 1-7 1 0 1 18 1-20 1-5 1 29 1-2 1-19 1 33 1-31 1 29 1-14 1 41 1-105 1 126 1-77 1 59 1-65 1 15 1 22 1-31 1-4 1 11 1 61 1-118 1 61 1 52 1-61 1 66 1-120 1 14 1 30 1-12 1 5 1 47 1-62 1 51 1-2 1-16 1 84 1-90 1 89 1-98 1 41 1-6 1-40 1 56 1 19 1-20 1-23 1 48 1-23 1-13 1-80 1 57 1 38 1-74 1-21 1 30 1 25 1-54 1 43 1 28 1-47 1 13 1 72 1-54 1-36 1 56 1 7 1-19 1-5 1-24 1 107 1-113 1 39 1 16 1 21 1-53 1 24 1-31 1 35 1-82 1 114 1-34 1 15 1-33 1-62 1 33 1 24 1 63 1-56 1 42 1-35 1-31 1 14 1 33 1 7 1-55 1 33 1 2 1 22 1 20 1-94 1 18 1-38 1 133 1-61 1-60 1 130 1-84 1 12 1 7 1 17 1-96 1 63 1 34 1-14 1-19 1-17 1-34 1-13 1 3 1 81 1-8 1-28 1 28 1 63 1-66 1-17 1 88 1-64 1-28 1 72 1-75 1 28 1 10 1 43 1-79 1 54 1-81 1 48 1 8 1 10 1 53 1-71 1 0 1-7 1 1 1 31 1-11 1 36 1-59 1 42 1-7 1-14 1 10 1-6 1-17 1 1 1-52 1 15 1 34 1 22 1 0 1-28 1-21 1 37 1-11 1-37 1 65 1 13 1-39 1-52 1 52 1 5 1-52 1 67 1-17 1 31 1-53 1 19 1 3 1 35 1-70 1 36 1 63 1-71 1-33 1 83 1-16 1-92 1 63 1-56 1 49 1 36 1-5 1-72 1 11 1 89 1-39 1-25 1 16 1-45 1-25 1 9 1 68 1-47 1 57 1 9 1-23 1-39 1 10 1-7 1 33 1 39 1-35 1 63 1-56 1-34 1-34 1 21 1-19 1 68 1-20 1 72 1-43 1 3 1-59 1 8 1 43 1-14 1-33 1 11 1 26 1 18 1-10 1-27 1 2 1 33 1-19 1-55 1 21 1 51 1 34 1-24 1-58 1-14 1 110 1-59 1-26 1 18 1 14 1-22 1 5 1 52 1-74 1 4 1 29 1-10 1-9 1 14 1-39 1 32 1-24 1 72 1-76 1 24 1 34 1-55 1 30 1-42 1 5 1 0 1 3 1 16 1-65 1 73 1-5 1-26 1-11 1 36 1-11 1 89 1-35 1-41 1-19 1 28 1-65 1 8 1 65 1-90 1 53 1-19 1 31 1 14 1-26 1 46 1-35 1 44 1-35 1 55 1 4 1-62 1-77 1 42 1 20 1-48 1 26 1 68 1-68 1 19 1 55 1-96 1 4 1 45 1-53 1 51 1 21 1-8 1-35 1-13 1 33 1-17 1 8 1 51 1-126 1 101 1-67 1 52 1-37 1-9 1-4 1 48 1-30 1 19 1-101 1 18 1-15 1 7 1 41 1-8 1-69 1-71 1 46 1-51 1 5 1 31 1-15 1 40 1-142 1-46 1-38 1 112 1-144 1 31 1 23 1-132 1 33 1-103 1 52 1-139 1 3 1-35 1-24 1 19 1-32 1-27 1-35 1-164 1 41 1 38 1-34 1-48 1-83 1 30 1-69 1-45 1 68 1-48 1-4 1 30 1 13 1-43 1-19 1 57 1 10 1 57 1 56 1-5 1 29 1-10 1 107 1 13 1 76 1 57 1 11 1 3 1 79 1 86 1-99 1 110 1 34 1 27 1 19 1-13 1 44 1 85 1-55 1 43 1 8 1 91 1 37 1-73 1 33 1-34 1 131 1 27 1-12 1-56 1 75 1 66 1-110 1 25 1 83 1-62 1 63 1-56 1 21 1-50 1 46 1 39 1 1 1 43 1-13 1-35 1 59 1 6 1-50 1 20 1 14 1-18 1-26 1 36 1 0 1-53 1 46 1 20 1-31 1-44 1 124 1-6 1 1 1-30 1-39 1-70 1 126 1 22 1-110 1 57 1-16 1 60 1-109 1 108 1-38 1-72 1-4 1 80 1 33 1-83 1 16 1-2 1 48 1-35 1-21 1-8 1-4 1 52 1 16 1-48 1 14 1-56 1 77 1-25 1 50 1-110 1 121 1-53 1 7 1 8 1-38 1 46 1-2 1-29 1 48 1-24 1-34 1 16 1-1 1 32 1 56 1-79 1 52 1-115 1 16 1 11 1 31 1-5 1 56 1-52 1 2 1 38 1-73 1 40 1 40 1-52 1 91 1-46 1-24 1 10 1 18 1-101 1 95 1-57 1 95 1-116 1 60 1 47 1 22 1-60 1 7 1-2 1-37 1-2 1-14 1 45 1 22 1-53 1 36 1-12 1-65 1 80 1-56 1 60 1-4 1-17 1 7 1-29 1-33 1 83 1-59 1 78 1-19 1-103 1 2 1 72 1-30 1-20 1-8 1 21 1 2 1-37 1 28 1-20 1 21 1-35 1 72 1-44 1-49 1-11 1 66 1 9 1-40 1-83 1 29 1 6 1-46 1 37 1-7 1-19 1 20 1-56 1-24 1-37 1 68 1-101 1 145 1-30 1-12 1-53 1 38 1-33 1 25 1 46 1-22 1 0 1 47 1-8 1 26 1 29 1-26 1 42 1 60 1 25 1-57 1 33 1-31 1 35 1-81 1 79 1 71 1-98 1 54 1-38 1 73 1-75 1 94 1-55 1-59 1 53 1-38 1 14 1 9 1 68 1-34 1 50 1-59 1 9 1-81 1 38 1 22 1-20 1 51 1-86 1 56 1-5 1-29 1 19 1 7 1 41 1-5 1 19 1-17 1-69 1 22 1-37 1 75 1 43 1-56 1 11 1 3 1-39 1 61 1-55 1 32 1-66 1 114 1-33 1-32 1 6 1 39 1-80 1 61 1 21 1-35 1 32 1-26 1-15 1 68 1-53 1 32 1-28 1-16 1 29 1-51 1 6 1 23 1 25 1 3 1 39 1-109 1 32 1 71 1-80 1 70 1-35 1-32 1 41 1-64 1 116 1-50 1-26 1-32 1 37 1 35 1-45 1 67 1-73 1 6 1-31 1-18 1 121 1-74 1-24 1 99 1-107 1 69 1 11 1 21 1-15 1-43 1 75 1-99 1-14 1-28 1 101 1-4 1 17 1-68 1-37 1 35 1 77 1 7 1-129 1 123 1-11 1-32 1-12 1-11 1-9 1 8 1-9 1 66 1-21 1-26 1 25 1 2 1 12 1-52 1 30 1-6 1-27 1 54 1-76 1 76 1-86 1 76 1 44 1-32 1-27 1-11 1 36 1-91 1 42 1 2 1-7 1 5 1 17 1 13 1-43 1 51 1-27 1 42 1-26 1-40 1-4 1 106 1-66 1-76 1-1 1 81 1-46 1 47 1-49 1 48 1-3 1-54 1 36 1 2 1 50 1-106 1 40 1-12 1 32 1 58 1-46 1-76 1 72 1 8 1-53 1-6 1 72 1-53 1 11 1 17 1-47 1 81 1-43 1 25 1-38 1 59 1-12 1 1 1 4 1-71 1 27 1-11 1 74 1-42 1-12 1 7 1 26 1-24 1 10 1 7 1-63 1 23 1 30 1-46 1 70 1 41 1-80 1 14 1-17 1 25 1 12 1-5 1-1 1-31 1 43 1-6 1 13 1-1 1-63 1 18 1 17 1 40 1-61 1 83 1-44 1 3 1 43 1-65 1-2 1 19 1-15 1-18 1 10 1-50 1 122 1-90 1-19 1 31 1 9 1-27 1 4 1-34 1 65 1 44 1-13 1-5 1-41 1 21 1 35 1 21 1-78 1 32 1 47 1-56 1-24 1 15 1-6 1-49 1 50 1-29 1 10 1-29 1 12 1 13 1 12 1-20 1 91 1-22 1 36 1-62 1 44 1-35 1-39 1 0 1 37 1-46 1 39 1-58 1 94 1-88 1 67 1 12 1-28 1 22 1 44 1-100 1-17 1 90 1-17 1-16 1 31 1-38 1 42 1-52 1-29 1-10 1 72 1-13 1 24 1-64 1 58 1-79 1 72 1 12 1-53 1 60 1-23 1-10 1-28 1-18 1 105 1-70 1-39 1 57 1-59 1-31 1 51 1 27 1-2 1 7 1-5 1 33 1-15 1-72 1 75 1-45 1-42 1 45 1-3 1 78 1-46 1-37 1 50 1-42 1-2 1 36 1-17 1 30 1-46 1 35 1 20 1-38 1 24 1 44 1-59 1-31 1-2 1 69 1-24 1-12 1-44 1 77 1-45 1 54 1-58 1-36 1 74 1-54 1-8 1 1 1-31 1 10 1-22 1 95 1-53 1 41 1 7 1 20 1-52 1 77 1-140 1 57 1 25 1-50 1 94 1-41 1-67 1 11 1 61 1-12 1 51 1-76 1-55 1 107 1-31 1-3 1-24 1 51 1-99 1 65 1 11 1-38 1 53 1 8 1-12 1-10 1-9 1 25 1-2 1 13 1-47 1 51 1-55 1 41 1-17 1-6 1-14 1 2 1-56 1 17 1 20 1 33 1-71 1 0 1 2 1 136 1-91 1 22 1 21 1 12 1-40 1 40 1-37 1-6 1-12 1 13 1 7 1-31 1 40 1-20 1 44 1-31 1-48 1 62 1-34 1 35 1-7 1-41 1-2 1 45 1 15 1-103 1 86 1-12 1-49 1 34 1 62 1-35 1 19 1 18 1-67 1 14 1-6 1-44 1 109 1-106 1 32 1 27 1-13 1 66 1-102 1 19 1 19 1-62 1 83 1-35 1-6 1-17 1 53 1 18 1-73 1-19 1 9 1 36 1-28 1-48 1 27 1-28 1 77 1 3 1-25 1-59 1 3 1 125 1 15 1-46 1-5 1-46 1 11 1 40 1-41 1 22 1-54 1 48 1-52 1 107 1-87 1 1 1 22 1-6 1 38 1-88 1 115 1-47 1-16 1-7 1-4 1-72 1 49 1 83 1-37 1 19 1-71 1 26 1-6 1-7 1-5 1 42 1-91 1 107 1-75 1 46 1-91 1 87 1 12 1-7 1-4 1 41 1-74 1-60 1 65 1-48 1 69 1-33 1-16 1-53 1 29 1 18 1-104 1 60 1 29 1-122 1 33 1 29 1-29 1-58 1 16 1-1 1-18 1-25 1-30 1 20 1-9 1-24 1 19 1-8 1 22 1 62 1-8 1-77 1 3 1 111 1 36 1-51 1 17 1 9 1 10 1 73 1-36 1 71 1-16 1-9 1 63 1-18 1 55 1-51 1-32 1 116 1-72 1 24 1 50 1-21 1-24 1 36 1 35 1-25 1-48 1 7 1-14 1-40 1 4 1 6 1 66 1-52 1 112 1-83 1 46 1-25 1 22 1-59 1 45 1-12 1 17 1 20 1-1 1-35 1 37 1 1 1-17 1-23 1 29 1-8 1-8 1 1 1 22 1 4 1-69 1-3 1 39 1 5 1-39 1 41 1 29 1-74 1 59 1-88 1 57 1 59 1-86 1-26 1 57 1-59 1 105 1-60 1 31 1 19 1-35 1 32 1-20 1 14 1-6 1-48 1 80 1-36 1-13 1 45 1-17 1 10 1-6 1-14 1-8 1-24 1 8 1 46 1-37 1 32 1 1 1 37 1 9 1-55 1-30 1-16 1-31 1 44 1-21 1 80 1-48 1-39 1 37 1 3 1-10 1-3 1 5 1 16 1 35 1-58 1-30 1 58 1 0 1-68 1 72 1 9 1-11 1-20 1 22 1-57 1 40 1 39 1-89 1 93 1-73 1 20 1 32 1-49 1 8 1-46 1 106 1-29 1-12 1-22 1 23 1 71 1 3 1-124 1 24 1 36 1 48 1-8 1-91 1 2 1 9 1 35 1-32 1 29 1 17 1-60 1 35 1 57 1-74 1 4 1 28 1 26 1-85 1 82 1-55 1 57 1-103 1 116 1-43 1-38 1 69 1-71 1 21 1 11 1 11 1 1 1-38 1-5 1-24 1 64 1 11 1-8 1 13 1 51 1-51 1-44 1 36 1 13 1-5 1 17 1 8 1-107 1-8 1 59 1-38 1 97 1-76 1 54 1-9 1 54 1-119 1 116 1-111 1-17 1 64 1 4 1 9 1 9 1-7 1-34 1 1 1 47 1-30 1 21 1 43 1-105 1 27 1 12 1-55 1 52 1 35 1-53 1 70 1-57 1 3 1-16 1 26 1 21 1-28 1 11 1 4 1-89 1 34 1-12 1 28 1 34 1-57 1 32 1 23 1-43 1-4 1 23 1 78 1-108 1 113 1-101 1 5 1-49 1 21 1 89 1-40 1 28 1-26 1-50 1 27 1 7 1-17 1 11 1 35 1 13 1-11 1 9 1-28 1-54 1 2 1-23 1 65 1 28 1-66 1-35 1 12 1 64 1-50 1 19 1 21 1-34 1-54 1-21 1-59 1 127 1-70 1 69 1 0 1-13 1-18 1-67 1 81 1-102 1 95 1-48 1-12 1 36 1-33 1 122 1-81 1 52 1 3 1-58 1 17 1 2 1 15 1 27 1-23 1 44 1 24 1-80 1 33 1 21 1 16 1-7 1-71 1 76 1-41 1 37 1 5 1-50 1 67 1-52 1 66 1-29 1-15 1 46 1-37 1 39 1-68 1 55 1-93 1 96 1 49 1-58 1 23 1-23 1-8 1-14 1-15 1-14 1 5 1 46 1 13 1-37 1 52 1-82 1 84 1 9 1-69 1-25 1 35 1-15 1 59 1-84 1-12 1 25 1-36 1-20 1 49 1-3 1-52 1 126 1-112 1 19 1 17 1 20 1-55 1 34 1-67 1 73 1 26 1-25 1-39 1-10 1 11 1-3 1-3 1 55 1-70 1 61 1 11 1-9 1-40 1 31 1-40 1 36 1-35 1 68 1-86 1 25 1 70 1-17 1-29 1-30 1 121 1 2 1-8 1-41 1-87 1 68 1 27 1 52 1-119 1 7 1 77 1 29 1-5 1-25 1 7 1-70 1 53 1 1 1-96 1 85 1-22 1 5 1-2 1 1 1 69 1-46 1-6 1-9 1 30 1-81 1 19 1-35 1-37 1 34 1 73 1-101 1 44 1 8 1-52 1 31 1-15 1 21 1-12 1-110 1 26 1 36 1 0 1-98 1 104 1-22 1-82 1 65 1-14 1-71 1 78 1-152 1 28 1-25 1 17 1-29 1 52 1 36 1-76 1-20 1 51 1-64 1 1 1 37 1 44 1 10 1-57 1 18 1 63 1-78 1 109 1-82 1 61 1 37 1 1 1-33 1 44 1 15 1 27 1-72 1 43 1 30 1-36 1 44 1-14 1 46 1 70 1-47 1 24 1-41 1 5 1-10 1 14 1-54 1 11 1 76 1-4 1-33 1 72 1-39 1 41 1-8 1-16 1 61 1-50 1 67 1-84 1-1 1 52 1-45 1-11 1 83 1-105 1 1 1 15 1 1 1 12 1-13 1 9 1-26 1-30 1 53 1-18 1-52 1 62 1-41 1 25 1 5 1-26 1 1 1-6 1-14 1-38 1 12 1 8 1 35 1-23 1-52 1-8 1 38 1-11 1-68 1 80 1 65 1-97 1 20 1 67 1-26 1 12 1 2 1-12 1-5 1 47 1-25 1-16 1 40 1 19 1-27 1 44 1-59 1 28 1 60 1-15 1-31 1 32 1-48 1-13 1 98 1 18 1-67 1 6 1 7 1-12 1 11 1 6 1-14 1 31 1-19 1 57 1-85 1 63 1-99 1 60 1-33 1 48 1 2 1 2 1-22 1 7 1-38 1 6 1 43 1-7 1 24 1 9 1-63 1 73 1-73 1 14 1 4 1 9 1 3 1-31 1 0 1 72 1-121 1 125 1-74 1-2 1 71 1-52 1-14 1-19 1 54 1-44 1 57 1-33 1 14 1 28 1-48 1 5 1 48 1-53 1-36 1 100 1-23 1 6 1-73 1 14 1 66 1-33 1 78 1 5 1-81 1 6 1 40 1-103 1 70 1-52 1 15 1 45 1-37 1 3 1 55 1-33 1 79 1-75 1-12 1 19 1-60 1 99 1-7 1-26 1-37 1 15 1 38 1-61 1 85 1-118 1 54 1-53 1 111 1-31 1-41 1 7 1 81 1-79 1 29 1-6 1 42 1-83 1 77 1-8 1-26 1-6 1 45 1-64 1 37 1-49 1 67 1-12 1-28 1 6 1 5 1 3 1 23 1 38 1-25 1-50 1 5 1 23 1-58 1-7 1 15 1 41 1-29 1 33 1-28 1-10 1 44 1-10 1 28 1 3 1-2 1-60 1 35 1 23 1-53 1 31 1-22 1 10 1 14 1-24 1-11 1-49 1 87 1 9 1-60 1 44 1 5 1 53 1-86 1-15 1 94 1-41 1 18 1-61 1 31 1-44 1 72 1-99 1-11 1 55 1 14 1-32 1 70 1-53 1 6 1 24 1-40 1 24 1-59 1 74 1-60 1 44 1-27 1 55 1-50 1 55 1 19 1-53 1 30 1-36 1-17 1 7 1-47 1 100 1 23 1-94 1 65 1-3 1-59 1 3 1-17 1-4 1 68 1-41 1 7 1 2 1 16 1-43 1 22 1 41 1-44 1 35 1 17 1-122 1 63 1 22 1-18 1-25 1 27 1-77 1 26 1-26 1 23 1-5 1 82 1-55 1-3 1 49 1-21 1-19 1 30 1 49 1-24 1-23 1 3 1-63 1 121 1-57 1 48 1-21 1-59 1 51 1-44 1 16 1 81 1-44 1-56 1 57 1-68 1 114 1-129 1 90 1-26 1-31 1 31 1 49 1-61 1-42 1 83 1 3 1-45 1-7 1-4 1 32 1 9 1-8 1-36 1 49 1-61 1 56 1-4 1-60 1 39 1-8 1 45 1-40 1 85 1-53 1-53 1 33 1 26 1 37 1-66 1 78 1-49 1-91 1 51 1-8 1-30 1 77 1 7 1-14 1-62 1 69 1-79 1 46 1 73 1-60 1 38 1-35 1 30 1-44 1 47 1-9 1-6 1-55 1 20 1-25 1 1 1 20 1 21 1-46 1 84 1-102 1 104 1-63 1 34 1 13 1-45 1-27 1 62 1 42 1-107 1 22 1 39 1 0 1-2 1-20 1-5 1 42 1-18 1-37 1-23 1 88 1-99 1 48 1-35 1 19 1 15 1 32 1-4 1-6 1 11 1 14 1-47 1 56 1-3 1-7 1-27 1-11 1 12 1 34 1-71 1 9 1 32 1-46 1 35 1 19 1-74 1 77 1-88 1 47 1 44 1-27 1 24 1-26 1 31 1-25 1-17 1 18 1 16 1 15 1-57 1-14 1 93 1-72 1 3 1 55 1-13 1-51 1 55 1-6 1 41 1-44 1-50 1-9 1 44 1-38 1 41 1-28 1 94 1-48 1-2 1-91 1 74 1-14 1-28 1-31 1 102 1 8 1-73 1 18 1-20 1-24 1 20 1 69 1-5 1-38 1-17 1 92 1-97 1 8 1 4 1 85 1-60 1 29 1-17 1-7 1 10 1 33 1 22 1-71 1 44 1-111 1 99 1-29 1-41 1 37 1 70 1-81 1 32 1-9 1 1 1 54 1-43 1-14 1 32 1-53 1 12 1 50 1-66 1 4 1-19 1 6 1 61 1-4 1 1 1-35 1 9 1-37 1-2 1 76 1-20 1 0 1-58 1 38 1-53 1-10 1 24 1 12 1 94 1-54 1 11 1-29 1 30 1 18 1-23 1-15 1 57 1-67 1 16 1-11 1-12 1-32 1 86 1-56 1 12 1-15 1 45 1-73 1 101 1-101 1 38 1-5 1 29 1 26 1-65 1 56 1-49 1 71 1-44 1 4 1-67 1-12 1 62 1-7 1-20 1-7 1 63 1-59 1 79 1-62 1 21 1-79 1 74 1-13 1 18 1-37 1 31 1-39 1 78 1-84 1 14 1 100 1-1 1-48 1-44 1 11 1 10 1 3 1-17 1 34 1 44 1-85 1 31 1 31 1-5 1-8 1-43 1-25 1 50 1-28 1 50 1-70 1 1 1 94 1-130 1 120 1-48 1 20 1-39 1-53 1 87 1-55 1 43 1 47 1-45 1-35 1-1 1-24 1 44 1 67 1-14 1-115 1 35 1 35 1 22 1-60 1 41 1-10 1-40 1 42 1-64 1 50 1 0 1-8 1 67 1 31 1-83 1-26 1-32 1 57 1 2 1 81 1-100 1-40 1 96 1-19 1-77 1 111 1-48 1 31 1-72 1 18 1-9 1 50 1 1 1-6 1-78 1 101 1-62 1 17 1-10 1 27 1 6 1 39 1-5 1-56 1-21 1 24 1-4 1 61 1-61 1 0 1-2 1 2 1 31 1-23 1 43 1-37 1 7 1 8 1 11 1-3 1-57 1 11 1 45 1-15 1-22 1-44 1 19 1 57 1-48 1 39 1-17 1-30 1 1 1-35 1 33 1-1 1 62 1 45 1-110 1 28 1 23 1 60 1-114 1 107 1-72 1 59 1-77 1 29 1 66 1-54 1 32 1 5 1-59 1 46 1-54 1 15 1 36 1-64 1 67 1-82 1 66 1-39 1 22 1-32 1 59 1 38 1-112 1 28 1-34 1 32 1-24 1 76 1-59 1 24 1-33 1 22 1 19 1 13 1-10 1-57 1 80 1 12 1-9 1-33 1 8 1-13 1 45 1-68 1-21 1 36 1 9 1 42 1-3 1 21 1-70 1-30 1 108 1-59 1-72 1 59 1 16 1 0 1-21 1 56 1-70 1 30 1-6 1 66 1-32 1-51 1 27 1-3 1 43 1-35 1-18 1-13 1 65 1-67 1-13 1 18 1 42 1-89 1 71 1 11 1-42 1-15 1 51 1-20 1-19 1 54 1 33 1-66 1-33 1 37 1-39 1 46 1-15 1 15 1-17 1 48 1 8 1-68 1 27 1-38 1-12 1 78 1 21 1-43 1 7 1-31 1 10 1-6 1-27 1 46 1-15 1-18 1 20 1 15 1 17 1-34 1 37 1-49 1 15 1-32 1 38 1-36 1 13 1 1 1 31 1-44 1 46 1 34 1-129 1 85 1 14 1 27 1-125 1 109 1 33 1-108 1-5 1 21 1-47 1 39 1 19 1 24 1-27 1 7 1 31 1 22 1-10 1-61 1 44 1-33 1 29 1-37 1 12 1-3 1 43 1-31 1 12 1-35 1-27 1 50 1-45 1 42 1-39 1 5 1-45 1 62 1-29 1 24 1-1 1 31 1 10 1-80 1 65 1 19 1-7 1 6 1-83 1 48 1-35 1 90 1-35 1 36 1-106 1 66 1-29 1-28 1 60 1-73 1-8 1-9 1 49 1 0 1-77 1 29 1 5 1 21 1 32 1-7 1-42 1-6 1 29 1-69 1-11 1 53 1-6 1-28 1-21 1 18 1 8 1-56 1-49 1 49 1 26 1-84 1 86 1-58 1 38 1-42 1 36 1-75 1 1 1 46 1-29 1-62 1 98 1-11 1-10 1-45 1 57 1-9 1-15 1-10 1-6 1 61 1-94 1 91 1-71 1 16 1 31 1 7 1 4 1-44 1-38 1-22 1 132 1-83 1-53 1 108 1-40 1-43 1 1 1 75 1-37 1 27 1-101 1 85 1-75 1 42 1-20 1 11 1-23 1-13 1-34 1 67 1-65 1 93 1-77 1-48 1 80 1-58 1-71 1 111 1-99 1 69 1-42 1 2 1-87 1 14 1 37 1-1 1-33 1 29 1-4 1 19 1 17 1-106 1 63 1 13 1-15 1-23 1 5 1 59 1 48 1-27 1 17 1-21 1 51 1-84 1 36 1 44 1 75 1-107 1 39 1-24 1 80 1 37 1-29 1 12 1 28 1-38 1 44 1-10 1 45 1 39 1-87 1 26 1 75 1-42 1 35 1 18 1 45 1-15 1-73 1 6 1 42 1 24 1 27 1-24 1-21 1 39 1-81 1 46 1 42 1 7 1 44 1-56 1 19 1-5 1-55 1-6 1 118 1-80 1 51 1 46 1-133 1 99 1 40 1-93 1 94 1-23 1 4 1-113 1 61 1-19 1 25 1-11 1 64 1-109 1 69 1 69 1-30 1-37 1-19 1-5 1-43 1 14 1 54 1 66 1-76 1 29 1-19 1 4 1-71 1 107 1-52 1 35 1-30 1-48 1 69 1-82 1 73 1 20 1 19 1 16 1-10 1-38 1 5 1-74 1 129 1 4 1-18 1-74 1 43 1-87 1 108 1 13 1-54 1 16 1 9 1-2 1 8 1-34 1 1 1-22 1 58 1-23 1 38 1-43 1-7 1 3 1-29 1 2 1-3 1 38 1 8 1-16 1-36 1 60 1-6 1 0 1 47 1-110 1 97 1-88 1 30 1-39 1 50 1-9 1 47 1-47 1 12 1-57 1 37 1 42 1-101 1 75 1 16 1-63 1 79 1 2 1-46 1 78 1 1 1-76 1 44 1-28 1-25 1 9 1-8 1-8 1 22 1 8 1-47 1 90 1-121 1 40 1 65 1-7 1-13 1-47 1 3 1-40 1 141 1-82 1 12 1 46 1-67 1 67 1-66 1 23 1 68 1-87 1 65 1-18 1-15 1-16 1 54 1-92 1 7 1 72 1-62 1 71 1 9 1-39 1-21 1-45 1 102 1-72 1 46 1-42 1 13 1 2 1-11 1 41 1-7 1 25 1-81 1 77 1-76 1 97 1-61 1-51 1-24 1 87 1 40 1-94 1 50 1-82 1 18 1 67 1-86 1 77 1 38 1-85 1 48 1-29 1-7 1 0 1 23 1 9 1-28 1-17 1 44 1-34 1 98 1-46 1-6 1-75 1 89 1-32 1-62 1 68 1 55 1-73 1 10 1 31 1 3 1 28 1-50 1-16 1 65 1-55 1 30 1-91 1 89 1-65 1 19 1-45 1 140 1-77 1-11 1 21 1 46 1-47 1 18 1 14 1-14 1-27 1-20 1 30 1-2 1-18 1 9 1 58 1 13 1-60 1-41 1 44 1-12 1-12 1-1 1 49 1-50 1 86 1-58 1-51 1 41 1 1 1 61 1-126 1 72 1-12 1 7 1 12 1 10 1 32 1-50 1-38 1 50 1 14 1-27 1 60 1 9 1-96 1 27 1-8 1-36 1-24 1-4 1 85 1 39 1-40 1 56 1-40 1-25 1 47 1-72 1-39 1 70 1 24 1-45 1 4 1-4 1 12 1-72 1 60 1 54 1 26 1-137 1 118 1 12 1-75 1 26 1-6 1-13 1-14 1 4 1 19 1-50 1 22 1-20 1 44 1-9 1 62 1-37 1-10 1-16 1 44 1-92 1 50 1-10 1-41 1 41 1 33 1-23 1 2 1 33 1 12 1-58 1 35 1-10 1-23 1 71 1-79 1 2 1 76 1-63 1 32 1-63 1 100 1-126 1 92 1-1 1 10 1-23 1 31 1-55 1-24 1 1 1 25 1-34 1-23 1 41 1 3 1 8 1-35 1 8 1 40 1-48 1 89 1-65 1 36 1-53 1 17 1 38 1 10 1-15 1-34 1 79 1-12 1-102 1 41 1 39 1-57 1-23 1 52 1-50 1 95 1-2 1 0 1 5 1-48 1-43 1 88 1-21 1 8 1-42 1-54 1 34 1-7 1 68 1-6 1-46 1-22 1 116 1-115 1 54 1-35 1-21 1 0 1 102 1-109 1 110 1-12 1-104 1 108 1-79 1 27 1-25 1 49 1 4 1-20 1 7 1-72 1 28 1 29 1-14 1-45 1 104 1-74 1-3 1 78 1-41 1-9 1 5 1 4 1-7 1 10 1 18 1-21 1 7 1-69 1-6 1 92 1 23 1-45 1 37 1-58 1 82 1-99 1 36 1 71 1 0 1-141 1 41 1 29 1-12 1 67 1-70 1-28 1 42 1 30 1 19 1-80 1 64 1-27 1-1 1-76 1 90 1-48 1 32 1 26 1-64 1 38 1-38 1 85 1-92 1 53 1 21 1-105 1 63 1-32 1 4 1-2 1 96 1-114 1 39 1 81 1-27 1-16 1-36 1 61 1-40 1-69 1 38 1 89 1-51 1-19 1-10 1-25 1-1 1-6 1 49 1-13 1 8 1-20 1-47 1 75 1-32 1 43 1-11 1-49 1-22 1 103 1-39 1-31 1-27 1 52 1-24 1-42 1-40 1 66 1 52 1-56 1-29 1 45 1-39 1-57 1-23 1 96 1-66 1 75 1-31 1-39 1-14 1-23 1-15 1 0 1-36 1 20 1 38 1-20 1-22 1-72 1 29 1-13 1-56 1 94 1-99 1 142 1-49 1-49 1 35 1-28 1-33 1 41 1 0 1-23 1-29 1 53 1-9 1-40 1 24 1 7 1 63 1-58 1-43 1 51 1 35 1-78 1 17 1-1 1 123 1-24 1-34 1-62 1 53 1-36 1 104 1-13 1-85 1 40 1 60 1-114 1 70 1-41 1 45 1 58 1-31 1-7 1-35 1 79 1-16 1-58 1 9 1-10 1 16 1 13 1 22 1-27 1-4 1 51 1-10 1 10 1-103 1 116 1-88 1-19 1 106 1 6 1-52 1 2 1 52 1-29 1 11 1 11 1 8 1 61 1 22 1-144 1 83 1-29 1-11 1 74 1 25 1-31 1 28 1-61 1 1 1 6 1 14 1 5 1 58 1-125 1 74 1 42 1-62 1 93 1-7 1-119 1 49 1 13 1-30 1-13 1 14 1-66 1 94 1-31 1-33 1 23 1-85 1 89 1-54 1 5 1-8 1-41 1 76 1-39 1 27 1-48 1-20 1 90 1-40 1-21 1-3 1 5 1-35 1 15 1-34 1-62 1 52 1 10 1 39 1-16 1-31 1-44 1 24 1-61 1 34 1-51 1 21 1-9 1 57 1-62 1 75 1-36 1 45 1-35 1 92 1 15 1-134 1 97 1-8 1 6 1 83 1-59 1-8 1 17 1 34 1 14 1-21 1 37 1 20 1 3 1-26 1 8 1-26 1 37 1-21 1 20 1 33 1-71 1 34 1 78 1-82 1 98 1-77 1 42 1-46 1-18 1 22 1 16 1 32 1 31 1-42 1 46 1-47 1 36 1-17 1-35 1 1 1 49 1-78 1 57 1 43 1-62 1 7 1-20 1-22 1 43 1-21 1 89 1-54 1 50 1-40 1-69 1 81 1-21 1-5 1-8 1 18 1-18 1 26 1 16 1-25 1-13 1 14 1 10 1-2 1-36 1 22 1-7 1 31 1-23 1 3 1-13 1 40 1 6 1-23 1 6 1 44 1-21 1-27 1-13 1 23 1 28 1-34 1 21 1-10 1-59 1 75 1-14 1 42 1-29 1-95 1 1 1 108 1-28 1 1 1-2 1-44 1 5 1 33 1 9 1-25 1 15 1-23 1-48 1 117 1-50 1-7 1 6 1 13 1 40 1-53 1 43 1-56 1-12 1 44 1-43 1 44 1-36 1 45 1-23 1 35 1-43 1-31 1 104 1-50 1-58 1 53 1-41 1-14 1-4 1-5 1 45 1-23 1 30 1 17 1-30 1-2 1 38 1-38 1-39 1 80 1-14 1-52 1-27 1 79 1 24 1 12 1-17 1 42 1-42 1-50 1 11 1-18 1 99 1-116 1 82 1-67 1 91 1-45 1-14 1-21 1 35 1-66 1 68 1 49 1-58 1-25 1-39 1 96 1-46 1-8 1 45 1-30 1-32 1 62 1 41 1-51 1-19 1 42 1 27 1-63 1-38 1-30 1 47 1-5 1 77 1-78 1 57 1-89 1 37 1 43 1 40 1-109 1 15 1 92 1-44 1-78 1 85 1-66 1 49 1-36 1 7 1-8 1 59 1 4 1-5 1-22 1-29 1 23 1 63 1-9 1-33 1-4 1-9 1-38 1-1 1 90 1-72 1 12 1-17 1 19 1 1 1 12 1-24 1 17 1-43 1 76 1-84 1 41 1-42 1 85 1-64 1 68 1-56 1-47 1 32 1 37 1-24 1-7 1 43 1-8 1-80 1 45 1 24 1-25 1-10 1-8 1 40 1-38 1 1 1 55 1-83 1 17 1 4 1 40 1-47 1 80 1-48 1-56 1 17 1 83 1-18 1 25 1-16 1 7 1-2 1-12 1-9 1-19 1 31 1-76 1 78 1 14 1 35 1-14 1 5 1-75 1-14 1 54 1-60 1 17 1-52 1 28 1 65 1 33 1-80 1 23 1 17 1-10 1-62 1 71 1-33 1 54 1-46 1 26 1 22 1 7 1-7 1-41 1-31 1 39 1 41 1-27 1-1 1-8 1 35 1-12 1-56 1-30 1 46 1 6 1-3 1 33 1-68 1 62 1-67 1 7 1 25 1 45 1-52 1 36 1-12 1 7 1 0 1-28 1-3 1-12 1 71 1-78 1-35 1 36 1 12 1 33 1 17 1-59 1 0 1 10 1-20 1 38 1 51 1-113 1 100 1-66 1 40 1 30 1-66 1 48 1-83 1 14 1 110 1-72 1 32 1-43 1 38 1-16 1-21 1 25 1-19 1 18 1-35 1 29 1 4 1-13 1 31 1-116 1 33 1 72 1-33 1-79 1 83 1-25 1 12 1-46 1 12 1 41 1-7 1-19 1 35 1 40 1-28 1-53 1 24 1-33 1 41 1-31 1-17 1 34 1-44 1 53 1-33 1 30 1-34 1-29 1 30 1 14 1-21 1-25 1 26 1-53 1 49 1 12 1 21 1 14 1 3 1-38 1 78 1-109 1 40 1 21 1-34 1 26 1-28 1 56 1-6 1 12 1-48 1-37 1 37 1 17 1 59 1-88 1 39 1-59 1 18 1 49 1 0 1-69 1 97 1-40 1 65 1-37 1-39 1 17 1 26 1 14 1-26 1-7 1 11 1 1 1 8 1-74 1 71 1 53 1-123 1 34 1-11 1 28 1 30 1-55 1 72 1-21 1-60 1 48 1 37 1-14 1 7 1-54 1-8 1 64 1-29 1-4 1 46 1 35 1-32 1-67 1 16 1 13 1-12 1 24 1-15 1 14 1-12 1 1 1 54 1-10 1-75 1 10 1 50 1-5 1-41 1-49 1 95 1-57 1 66 1-5 1-39 1-18 1 59 1-25 1-76 1 51 1-13 1-13 1 54 1 18 1-72 1 4 1 69 1-30 1-1 1 19 1 26 1 20 1-100 1 31 1 51 1-17 1-36 1-18 1 3 1-12 1 61 1-36 1 8 1-6 1 48 1-40 1 15 1 44 1-102 1 58 1-40 1 0 1 35 1 16 1 4 1 15 1-93 1 51 1 33 1 3 1-80 1 69 1-22 1-15 1 8 1 70 1-42 1-37 1 2 1 12 1 19 1-28 1-58 1 67 1-5 1-31 1 35 1-71 1 78 1-75 1 109 1-59 1-2 1 34 1-76 1 74 1-3 1 19 1 9 1 0 1-96 1 34 1 34 1-33 1 30 1-22 1-48 1 99 1-42 1-44 1 56 1 27 1-79 1 76 1-44 1-16 1 50 1-32 1 6 1 18 1-69 1 28 1-12 1 10 1 97 1-46 1-10 1-15 1-2 1 32 1-67 1 97 1-86 1 58 1-84 1 122 1-114 1 24 1 46 1-40 1 84 1-52 1-23 1-7 1-5 1 30 1-74 1 60 1 51 1-75 1 11 1 51 1 9 1-92 1 59 1 5 1 15 1-47 1 12 1-15 1-41 1 96 1-84 1 96 1-40 1-20 1 53 1-50 1-25 1 18 1 0 1-24 1 81 1-38 1 4 1 6 1-16 1-1 1 22 1-45 1-14 1-32 1 28 1 19 1 69 1-44 1 24 1-57 1-3 1 84 1-61 1-2 1-20 1 37 1 39 1-51 1 33 1-71 1 22 1 36 1 27 1-46 1 25 1-13 1-23 1 1 1-51 1 29 1 27 1 31 1-38 1 36 1-7 1-25 1-37 1-14 1 4 1 52 1-35 1 47 1-67 1 37 1 11 1 6 1-10 1 6 1 9 1 40 1-3 1 1 1 13 1-138 1 105 1-32 1-46 1 23 1-16 1 99 1-58 1 35 1-38 1-33 1-28 1 48 1 4 1-47 1-50 1 27 1-15 1 19 1 101 1-42 1-17 1-3 1-97 1 38 1-51 1 106 1-33 1-82 1 41 1-40 1 62 1-77 1 57 1-59 1 85 1 7 1-34 1-15 1-13 1 35 1-34 1-30 1-14 1-50 1 47 1 20 1-49 1 109 1-92 1-17 1 8 1 2 1 62 1-4 1-43 1-61 1 53 1-12 1-5 1-57 1 23 1 37 1 68 1-41 1 69 1-37 1-17 1 54 1-50 1 30 1-17 1 12 1 16 1 54 1-82 1 12 1 40 1-41 1 26 1 36 1-21 1 16 1 16 1 27 1 24 1-3 1-46 1 7 1-15 1-21 1 8 1 11 1 9 1 27 1-38 1 64 1-7 1 4 1 14 1 4 1-43 1 6 1-39 1 24 1 27 1-44 1 14 1 78 1 35 1-128 1 80 1-34 1 88 1-80 1 1 1 23 1-33 1 44 1 9 1 12 1 18 1-62 1 17 1-27 1 8 1 33 1-22 1 1 1 51 1-8 1-39 1-8 1-60 1 62 1 15 1-76 1 52 1 22 1-2 1-10 1 21 1 21 1-1 1-31 1-43 1 86 1-40 1 9 1-15 1 0 1 16 1-22 1 68 1-18 1-31 1-4 1-36 1 15 1 30 1 14 1-3 1-8 1 34 1-34 1-1 1-60 1 23 1 56 1-35 1-50 1 67 1-28 1-1 1 83 1-58 1 11 1-55 1 19 1 19 1 16 1-27 1-39 1 86 1-20 1-45 1 41 1-34 1 14 1 22 1-86 1 6 1 64 1 29 1-53 1-6 1 40 1 14 1-7 1-64 1 99 1-65 1 28 1 23 1 3 1 18 1-115 1 60 1-33 1-21 1 114 1-19 1-84 1 75 1-44 1 31 1-20 1-31 1 49 1-15 1-43 1 56 1-38 1 4 1 93 1-71 1 15 1-41 1-42 1 70 1-21 1 1 1 38 1 51 1-104 1 47 1-72 1 46 1-34 1-7 1 26 1 31 1 18 1 11 1-80 1 63 1 1 1-20 1 31 1 14 1 27 1-76 1 28 1-8 1-39 1 43 1 53 1-115 1 22 1-14 1 11 1 82 1-82 1 17 1 27 1-7 1 53 1-129 1 19 1 42 1 42 1-32 1 11 1-7 1-13 1-58 1 54 1 50 1-26 1-8 1 5 1 11 1-23 1 23 1-19 1-74 1 63 1-30 1 85 1-82 1 39 1-1 1-67 1 105 1-65 1 68 1-69 1 64 1-14 1-37 1-33 1 109 1-71 1 62 1-94 1-7 1 14 1 44 1 4 1-22 1 17 1-57 1 25 1 62 1-87 1 44 1 6 1-38 1 25 1 11 1 2 1-23 1 28 1-78 1 0 1 41 1-41 1 67 1-4 1-25 1 60 1-38 1-9 1-44 1 50 1 55 1-80 1 11 1 46 1 15 1-25 1 59 1-26 1-86 1-1 1 50 1 9 1-27 1 21 1-42 1-17 1 40 1-23 1 57 1 1 1-26 1-1 1 16 1-8 1-1 1-24 1-16 1 18 1-22 1 41 1 23 1-75 1 57 1-4 1-6 1-37 1 3 1 15 1 8 1 15 1 69 1-70 1 5 1-38 1 40 1-1 1-16 1 46 1-22 1-21 1 33 1-60 1 71 1-52 1 47 1-36 1-13 1 30 1-18 1-42 1 43 1-39 1 41 1 30 1-50 1 3 1 37 1-44 1 37 1 28 1-42 1-24 1 12 1 0 1 2 1-19 1 38 1-50 1 31 1 2 1-13 1 35 1-22 1-17 1 35 1 1 1-5 1-39 1 69 1-70 1 36 1 8 1 28 1 0 1-53 1 25 1-62 1 108 1-86 1 38 1-5 1-21 1 13 1 39 1-57 1 62 1-75 1 44 1-4 1-1 1-14 1 23 1 5 1-49 1 50 1-18 1-40 1 109 1-76 1 4 1 13 1-31 1 35 1-4 1-44 1 14 1 37 1-11 1-39 1 26 1 59 1-92 1 50 1-30 1 86 1-110 1 29 1 35 1-14 1 60 1-78 1 7 1 16 1-23 1-59 1 124 1-89 1 78 1-55 1-3 1 71 1-51 1 31 1 6 1-57 1 50 1 11 1-16 1-7 1-90 1 1 1 9 1 33 1 83 1-59 1-68 1 91 1-2 1 50 1-37 1-61 1 50 1-61 1 40 1 29 1-77 1 15 1 103 1-107 1 91 1-78 1-44 1 73 1 12 1-40 1 66 1-2 1-22 1-18 1-13 1 48 1-3 1-104 1 46 1-9 1-37 1 77 1-2 1-9 1 28 1-43 1 23 1 25 1-52 1-7 1 49 1-41 1-1 1 26 1 0 1-28 1 46 1-93 1-1 1 98 1-4 1-21 1-4 1-69 1 139 1-74 1-25 1-14 1 58 1-16 1-26 1-1 1 86 1-34 1-45 1-7 1 8 1 11 1-42 1 104 1-15 1 6 1-17 1-42 1 30 1-15 1-19 1 40 1 7 1 37 1-98 1-1 1 60 1-5 1-93 1 86 1 3 1-56 1 50 1-37 1 63 1-28 1-11 1 18 1-92 1 82 1 17 1-23 1-22 1 85 1-53 1 1 1-50 1 33 1 0 1-70 1 89 1 14 1 2 1 30 1-50 1-22 1-20 1 31 1-8 1-34 1 9 1 50 1 17 1-57 1-14 1 25 1-42 1 39 1-44 1 10 1 35 1 10 1 5 1-66 1 83 1 20 1-73 1 18 1-5 1-26 1 58 1-91 1 56 1-29 1 62 1-21 1-86 1 92 1-56 1 45 1 18 1-62 1-53 1 9 1 11 1 19 1 17 1 3 1 9 1-45 1 29 1 7 1 54 1-141 1 60 1-63 1 99 1-41 1-39 1 19 1 39 1-86 1 42 1-44 1 108 1-39 1-15 1-30 1 5 1 16 1 56 1-104 1 72 1-33 1 18 1 35 1 7 1-107 1 111 1-27 1 19 1-37 1 11 1 73 1-84 1 35 1 7 1 9 1-51 1 32 1-38 1 10 1 19 1-26 1 16 1 5 1-21 1 33 1-9 1-21 1 0 1 10 1 55 1 37 1-108 1-10 1-9 1 122 1-16 1-32 1 12 1-46 1 31 1-31 1-35 1 55 1 56 1-7 1-43 1-26 1 89 1 11 1-28 1-58 1 98 1 4 1-98 1 46 1 28 1-64 1 47 1-51 1 109 1-48 1-55 1 18 1-26 1 85 1-100 1 91 1 32 1-74 1 7 1-67 1 46 1 75 1 22 1-115 1 68 1-74 1 16 1-37 1 86 1-20 1 17 1-25 1 28 1 28 1-7 1-4 1-42 1-13 1 42 1-43 1-22 1 97 1-33 1 23 1-74 1 18 1 70 1-51 1 10 1-31 1-28 1-14 1 57 1 46 1-68 1 21 1-47 1-47 1 0 1 62 1 17 1-25 1 71 1-43 1-50 1-58 1 80 1-58 1 88 1-48 1-9 1-11 1 27 1-34 1-19 1 47 1 8 1-22 1-38 1 53 1 35 1-41 1-31 1 52 1 5 1-57 1 23 1 24 1-36 1-18 1-8 1 21 1 7 1-25 1-24 1 72 1 45 1-18 1-32 1 48 1-6 1-33 1 5 1 23 1 31 1-23 1 4 1 24 1-13 1-15 1-3 1 16 1 4 1-17 1-17 1 93 1-75 1 31 1 48 1-116 1 44 1 3 1 73 1-51 1 11 1-42 1 87 1-16 1-87 1-36 1 43 1 77 1 16 1 3 1-27 1-72 1 83 1-58 1-16 1 36 1 38 1-52 1-35 1 79 1-20 1-1 1 15 1-13 1-41 1 56 1-27 1-25 1 29 1-12 1 16 1 15 1-48 1 35 1 62 1-65 1-40 1-8 1 51 1 27 1-103 1 44 1 97 1-21 1-41 1 28 1-40 1 19 1 0 1-21 1 2 1-17 1 52 1-54 1-7 1 101 1-138 1 27 1 8 1 25 1-31 1 47 1-33 1 10 1 86 1-43 1-7 1-20 1-30 1-21 1 35 1-12 1 51 1 1 1 0 1-1 1-40 1-38 1 83 1-9 1 15 1 31 1-84 1 50 1-28 1 16 1-70 1 41 1 0 1-12 1 95 1-113 1 86 1-40 1 0 1 19 1-25 1-27 1 18 1 18 1 44 1-116 1 64 1-62 1-3 1 59 1 6 1 5 1-9 1-45 1 64 1-52 1 55 1-41 1 44 1-66 1 30 1 2 1 55 1 10 1-93 1 21 1 23 1 57 1-113 1 45 1 14 1 7 1-54 1 63 1 1 1 52 1-2 1-29 1-40 1 0 1 53 1-53 1 29 1 1 1-91 1 82 1-28 1-13 1 40 1 7 1-56 1 68 1-55 1-45 1 30 1 100 1-102 1 74 1-31 1 14 1 8 1 5 1-90 1 38 1 54 1-76 1 1 1 1 1-3 1 81 1-23 1-13 1 21 1-11 1-14 1-17 1 58 1-53 1 15 1 7 1 20 1-52 1 35 1-47 1 45 1-9 1 16 1-10 1-52 1 55 1-3 1-38 1 32 1-29 1 42 1-47 1 21 1 52 1-10 1 18 1-90 1 44 1-65 1 135 1-135 1 32 1 35 1-39 1-19 1 39 1 40 1-32 1 57 1-12 1-2 1-79 1 26 1 31 1 61 1-88 1 35 1-18 1-67 1 48 1-48 1 73 1 24 1-74 1 16 1-21 1 70 1 6 1-23 1-56 1 80 1-88 1 40 1-19 1 42 1 12 1 32 1-109 1 30 1-15 1 20 1 50 1-40 1-2 1 5 1 48 1-56 1 30 1 14 1 18 1-13 1-54 1 13 1 9 1-13 1-31 1 23 1-7 1-38 1 67 1 43 1 16 1-15 1-54 1-31 1 28 1 24 1-67 1 24 1-6 1 51 1-37 1 56 1 6 1-65 1 25 1 38 1-101 1 0 1 84 1-23 1 70 1-65 1 17 1-15 1 24 1-3 1-46 1 81 1 14 1-101 1 57 1-38 1 11 1-35 1 41 1-72 1 127 1-38 1 19 1 28 1-73 1-8 1 58 1-38 1-23 1 26 1 10 1 11 1-62 1 69 1 5 1-87 1 68 1-21 1-2 1-50 1-14 1 39 1 91 1-116 1 33 1 18 1 23 1-86 1 117 1-61 1-17 1 1 1 21 1 58 1-55 1-26 1 52 1-90 1 101 1 4 1-14 1-16 1-14 1-12 1-47 1 62 1 44 1-118 1 20 1 76 1-68 1 66 1-75 1 69 1 51 1-85 1 61 1-46 1 69 1-100 1 41 1-28 1-21 1 22 1 38 1-8 1 1 1-73 1 61 1 15 1-44 1-9 1-4 1-15 1 93 1-59 1-17 1 33 1 7 1-14 1 15 1 3 1-26 1 7 1-21 1 30 1 8 1 9 1-5 1-16 1-33 1 25 1 27 1-58 1-46 1 99 1-49 1 69 1-115 1 35 1 54 1-55 1 52 1-38 1-71 1 31 1 68 1 18 1-23 1-16 1-92 1 34 1-24 1 92 1-30 1 23 1-55 1 41 1 4 1-48 1-25 1 11 1-8 1 93 1-46 1 31 1-69 1 45 1 21 1-120 1 99 1-72 1 39 1-78 1 66 1 33 1-24 1 16 1-84 1 39 1 66 1-127 1-2 1 11 1 15 1 13 1 57 1-52 1 16 1 87 1-89 1-54 1 124 1-50 1 15 1 18 1 14 1-89 1 114 1-106 1 15 1 73 1-34 1-59 1 83 1 18 1-57 1 20 1 8 1-15 1 7 1 9 1-24 1 45 1 15 1-60 1 65 1-15 1-39 1 91 1-79 1 68 1-67 1 102 1-29 1 6 1 40 1-31 1-102 1 71 1-11 1 38 1-9 1 15 1-47 1 43 1-88 1 113 1-58 1-1 1 24 1-61 1 116 1-59 1-23 1 38 1-8 1-14 1 23 1-65 1 63 1-43 1 16 1 54 1-77 1 3 1 79 1-56 1-29 1-41 1 79 1-63 1-14 1-16 1 66 1 2 1-20 1-5 1-30 1 105 1-47 1-33 1 39 1 8 1-80 1 18 1-33 1-1 1 86 1-24 1 10 1 26 1-40 1-13 1-6 1 29 1-47 1 59 1-17 1 47 1-58 1 59 1-2 1-4 1-34 1-10 1 2 1-35 1 102 1-76 1 47 1-17 1-47 1 100 1-90 1 24 1 44 1-70 1 66 1-51 1-9 1-25 1 69 1 4 1 10 1 8 1-12 1-13 1 27 1-9 1 31 1-76 1-2 1-12 1 105 1-48 1 22 1-7 1-10 1-21 1 37 1-57 1 86 1-37 1-13 1 19 1 0 1-50 1-2 1 33 1-65 1 17 1 65 1-1 1-19 1-66 1 91 1-14 1-19 1-58 1 53 1-52 1 94 1-8 1-72 1 32 1 10 1 5 1-36 1 43 1-59 1 75 1-57 1 20 1 33 1-2 1-59 1-17 1 95 1-48 1-10 1 5 1 40 1 53 1-44 1 36 1-49 1-26 1 59 1-76 1 55 1 46 1-69 1 16 1 20 1-98 1 65 1-64 1-6 1-1 1 41 1 37 1 20 1 5 1 4 1-37 1-35 1 2 1-36 1 49 1 47 1 10 1-24 1 18 1-101 1 69 1 12 1-21 1-44 1 37 1 46 1 22 1 17 1-116 1 39 1 45 1-14 1 13 1 6 1-46 1-49 1 30 1 93 1-55 1-25 1-57 1 60 1-5 1-55 1 57 1-10 1 82 1-50 1-50 1 23 1-36 1 16 1 49 1-36 1 13 1-2 1-23 1 8 1 46 1-7 1 1 1-27 1 30 1-24 1-59 1 28 1 27 1-20 1-7 1 43 1 64 1-91 1 72 1-87 1 55 1-40 1-4 1 85 1-63 1-29 1 83 1-67 1-7 1 83 1-44 1 5 1-62 1 101 1-69 1-24 1 84 1-97 1 54 1 41 1-18 1-50 1 51 1-62 1-5 1 16 1 34 1-34 1 48 1-40 1-8 1 69 1-37 1-9 1 46 1-35 1-50 1-8 1 53 1 19 1-66 1 107 1-70 1 5 1 1 1 16 1 40 1-63 1 3 1 48 1-92 1 83 1-27 1-11 1 59 1-110 1 100 1-58 1 78 1-99 1 54 1-24 1 26 1-85 1 71 1 31 1-69 1 0 1 71 1-100 1 75 1-83 1 32 1-4 1 66 1-37 1-57 1 69 1-33 1-5 1 43 1-18 1 63 1 8 1 1 1-85 1-19 1 60 1-21 1-10 1-24 1 54 1-3 1 24 1-28 1 48 1-104 1 64 1-46 1 28 1 16 1-52 1 71 1-27 1 10 1-51 1 38 1-49 1 25 1 49 1-2 1-58 1-14 1 52 1-54 1 64 1-34 1 5 1 33 1 0 1-80 1 130 1-60 1-13 1-33 1 56 1 8 1-65 1 6 1 26 1 19 1-10 1-7 1 28 1-23 1-11 1-3 1-42 1 40 1 19 1 9 1 20 1-19 1 4 1-47 1 18 1 51 1-65 1-45 1 64 1 36 1-52 1 44 1-5 1 45 1-78 1 27 1-15 1 8 1 22 1 22 1-21 1-46 1-15 1 66 1-100 1 116 1-50 1-16 1-5 1 45 1-80 1 35 1 4 1 63 1-36 1 34 1-82 1 9 1 46 1-50 1-1 1 84 1-24 1-38 1-21 1 44 1 1 1-6 1-4 1 12 1-11 1 3 1 29 1 25 1-128 1 85 1 21 1-28 1-23 1 68 1-37 1-18 1 16"/>
<path transform="translate(140.5,0) scale(0.256167,0.1)" vector-effect="non-scaling-stroke" stroke="#c00058" d="M0 6994 l1 20 1-16 1-10 1 22 1-61 1 20 1 1 1 24 1-5 1 9 1 17 1 9 1-9 1-29 1 36 1-23 1 53 1-28 1-21 1-2 1-27 1 33 1-38 1 45 1-66 1 21 1 79 1 1 1-6 1-95 1 11 1 1 1-7 1 58 1-21 1 14 1-15 1-9 1 84 1-43 1-48 1 68 1-57 1 12 1 51 1-67 1 16 1-1 1 62 1 7 1-54 1 50 1-99 1 36 1 45 1-47 1 18 1-4 1 14 1-13 1-53 1 33 1-11 1 40 1-70 1 28 1 61 1-25 1 49 1-62 1-59 1 91 1-24 1-17 1-30 1 35 1 24 1-8 1-8 1 16 1-14 1-36 1 40 1 6 1 43 1-57 1-34 1 68 1-13 1-40 1-20 1 85 1-99 1 32 1 28 1-41 1 27 1 21 1-27 1-27 1 21 1 14 1 38 1-65 1 77 1-72 1 68 1 18 1-21 1-45 1 56 1-15 1-21 1-20 1-6 1 7 1 65 1-45 1-3 1-28 1 25 1-17 1-13 1 25 1-17 1 19 1-7 1-19 1 37 1 1 1-78 1 54 1 2 1-3 1 46 1-37 1-14 1-11 1 43 1-69 1 39 1-9 1 7 1 2 1-26 1 0 1 34 1-24 1 69 1-33 1-44 1 49 1-23 1 14 1 39 1-18 1-57 1 44 1-28 1 44 1-32 1-48 1-13 1 40 1-4 1 1 1 85 1-58 1 24 1-56 1 50 1-36 1-30 1 38 1 7 1-31 1 77 1-42 1-49 1-14 1 85 1 1 1-5 1-47 1 0 1 46 1-31 1 13 1 21 1 13 1-57 1 18 1 13 1-27 1 49 1-62 1 46 1-26 1 52 1-35 1-23 1 11 1-29 1 61 1-27 1-2 1 20 1 3 1-28 1-23 1 70 1-22 1-8 1 22 1-35 1 57 1-54 1-2 1 11 1-16 1 6 1 8 1-25 1 35 1-12 1 58 1-69 1-12 1-5 1 40 1-4 1-37 1 54 1-75 1 21 1 14 1 13 1-25 1 69 1-7 1-31 1-1 1-4 1 1 1 22 1 2 1-11 1-25 1-35 1-6 1 58 1-50 1 27 1 52 1-23 1-8 1 1 1 15 1 1 1-50 1-6 1 9 1 23 1 64 1-57 1-3 1 30 1-3 1-51 1-39 1 122 1-73 1-4 1 54 1-69 1 21 1-34 1 74 1-51 1 25 1 22 1-30 1 68 1-66 1-46 1 74 1 2 1 2 1-51 1 5 1 13 1 30 1-32 1 44 1-15 1-6 1-44 1-33 1 62 1 38 1-15 1-55 1 51 1-21 1 15 1-53 1 7 1 24 1 43 1-47 1 14 1 38 1-56 1 1 1-5 1 57 1-52 1-27 1 22 1 28 1-3 1 13 1 19 1-29 1-23 1-43 1 66 1 16 1-9 1 3 1-37 1 38 1-73 1 9 1-10 1 81 1-4 1-1 1 33 1-89 1 46 1-21 1-10 1 45 1-35 1-22 1 56 1-39 1 11 1 30 1-36 1-1 1 23 1 38 1-100 1 101 1-21 1-16 1 4 1-55 1 49 1 21 1-29 1-51 1 38 1-34 1 4 1 4 1 59 1 22 1-53 1 40 1-52 1 5 1 51 1 24 1-23 1-100 1 48 1 19 1 0 1-36 1 92 1-122 1 59 1-28 1 18 1 10 1-21 1 26 1-56 1 20 1 42 1-52 1 53 1-31 1-19 1 38 1-23 1 77 1-50 1 48 1-80 1 62 1-34 1 22 1-40 1 53 1 26 1-86 1-4 1 90 1-99 1 30 1-15 1-29 1 35 1 10 1-56 1 94 1-31 1-63 1 60 1 63 1-95 1 33 1 50 1-113 1 99 1 20 1-12 1-86 1 63 1-30 1 53 1-12 1-49 1 12 1-28 1 17 1 2 1 9 1-9 1-17 1 27 1-17 1 12 1-23 1 68 1-5 1-2 1-71 1 41 1-18 1 11 1 15 1 10 1-53 1 66 1 1 1-3 1-58 1 28 1-8 1-24 1-4 1 23 1-31 1-12 1 36 1 6 1 28 1 23 1-92 1 47 1 11 1-53 1 18 1 14 1-13 1 31 1 29 1 8 1-70 1-9 1 42 1-41 1 3 1 24 1-55 1 74 1-63 1 18 1-35 1 25 1-42 1-37 1 33 1 29 1-74 1 61 1 30 1-75 1 25 1-48 1 31 1-54 1-74 1 34 1 43 1-66 1-39 1 17 1-81 1 87 1-116 1 29 1-32 1-49 1-60 1 21 1-31 1-29 1-94 1 40 1-34 1-23 1-27 1-50 1-49 1 38 1-75 1-13 1 18 1 48 1-53 1 11 1-56 1 1 1 29 1-2 1 7 1 19 1-13 1 29 1 21 1 82 1-41 1 32 1 53 1 27 1 26 1-62 1 86 1 24 1 30 1 44 1 47 1 8 1-4 1 33 1-22 1 46 1 101 1-24 1-33 1 61 1 36 1 20 1-37 1 41 1 75 1 33 1-55 1-30 1 26 1 8 1 25 1 48 1 34 1-118 1 65 1 22 1-15 1 4 1 4 1 61 1-30 1-32 1 83 1-28 1-68 1 7 1 42 1 14 1-52 1 80 1-24 1 17 1-72 1-8 1 65 1-13 1 31 1-52 1 39 1-74 1 32 1 47 1-65 1 18 1 25 1 29 1 22 1-67 1-1 1 87 1 6 1-72 1-1 1 37 1 6 1-68 1 87 1-95 1 35 1-50 1 101 1-13 1 3 1-54 1 43 1-56 1 50 1 44 1-30 1-46 1 71 1-62 1 11 1 39 1-70 1 49 1-9 1-37 1 36 1 6 1 7 1-7 1 28 1-18 1-26 1 7 1 24 1-54 1 50 1-32 1 12 1-50 1 81 1-72 1 44 1-8 1 42 1-34 1 29 1-36 1-12 1 46 1-55 1-32 1-4 1 93 1-15 1-31 1 45 1 17 1-41 1-23 1 82 1-84 1 36 1-34 1-41 1 54 1-7 1 36 1-24 1-13 1 55 1-58 1-24 1 9 1-9 1-2 1 57 1-30 1 28 1-5 1-59 1 38 1-16 1 7 1 67 1 9 1-26 1-88 1 90 1-4 1 16 1-60 1-36 1 11 1 73 1 10 1-10 1-56 1 35 1 11 1-48 1 48 1-37 1 5 1-26 1 57 1-63 1 42 1-45 1-12 1 18 1 37 1-35 1-3 1 5 1 0 1-24 1-14 1-33 1 51 1-124 1-10 1 37 1-20 1-42 1 28 1-89 1-9 1 46 1-96 1 64 1-41 1 5 1-19 1 22 1 20 1-66 1 14 1 96 1-20 1-10 1 100 1-48 1 59 1-11 1 47 1-46 1 21 1 95 1-62 1 98 1 24 1-70 1 31 1 24 1-30 1 45 1-49 1 7 1 77 1-16 1-49 1-3 1 31 1 17 1-5 1 8 1-39 1 16 1-1 1 54 1-20 1-55 1 24 1 18 1-15 1-10 1 23 1-22 1-4 1 54 1-75 1 46 1-21 1-7 1-7 1 26 1 19 1-49 1 15 1 13 1-28 1-17 1 22 1 55 1-100 1 32 1-13 1 26 1-43 1 51 1-72 1 102 1-56 1 52 1-68 1 8 1 22 1 1 1-23 1 50 1-48 1-3 1 0 1-12 1 79 1-55 1 13 1-50 1 1 1 15 1-18 1 45 1 2 1 11 1-74 1 110 1-49 1-4 1 7 1-13 1-8 1-8 1 37 1-77 1-21 1 16 1 12 1 18 1 43 1-43 1-17 1 91 1-31 1-6 1-42 1 38 1 17 1-85 1 17 1-16 1 67 1-42 1 1 1-24 1 57 1-11 1 18 1 34 1-35 1 4 1-39 1-5 1 10 1-2 1 50 1-28 1-21 1-35 1 73 1-63 1 63 1 4 1-54 1 1 1 32 1 36 1-58 1 6 1 6 1 41 1 22 1 5 1 9 1-92 1 13 1 54 1 17 1-26 1-44 1 2 1-21 1 86 1-25 1 12 1-5 1-14 1 16 1 50 1 2 1-47 1 8 1-13 1 18 1-31 1 56 1-26 1 17 1-69 1 20 1 34 1 57 1-112 1 36 1 13 1-27 1 41 1-20 1 19 1-2 1-46 1 54 1-51 1 77 1-48 1 32 1 17 1 2 1-63 1-6 1 41 1-16 1 20 1 1 1-13 1 61 1-117 1 35 1 55 1-54 1 56 1-64 1 59 1 36 1-67 1 47 1-79 1 48 1-25 1 63 1-35 1-4 1-64 1 85 1 7 1 1 1-14 1 1 1-13 1 55 1-58 1 19 1-29 1 71 1-34 1-19 1-46 1-18 1 70 1-16 1 51 1-78 1 6 1 41 1-26 1 5 1-32 1 3 1 69 1-8 1 8 1-64 1 21 1 27 1-19 1-22 1 29 1 9 1-17 1 41 1 3 1-7 1-16 1-37 1-41 1 123 1-58 1 31 1-3 1 22 1-31 1-20 1-9 1-37 1 24 1 17 1-38 1 65 1-16 1 1 1-35 1 22 1 18 1-14 1 38 1-60 1 1 1 46 1 8 1-3 1-25 1 13 1 22 1-9 1-70 1 41 1 25 1-41 1 7 1 12 1 28 1-43 1 39 1-28 1-52 1 18 1-21 1 79 1-66 1 104 1-41 1-37 1 17 1 28 1 20 1-77 1 26 1 15 1 11 1-28 1-13 1 52 1-93 1 122 1-33 1-1 1-56 1-9 1 38 1-9 1-22 1 20 1 32 1-52 1 10 1 23 1-18 1 15 1 31 1-40 1 31 1 32 1-48 1-2 1 18 1 43 1-121 1 85 1-67 1 29 1-4 1 45 1-15 1 18 1-25 1 46 1-15 1-77 1 6 1 19 1 38 1 21 1-65 1 42 1 7 1 31 1-75 1 70 1-47 1 1 1-12 1 4 1-6 1 72 1-122 1 32 1 5 1 55 1-62 1 91 1-51 1 41 1-12 1-44 1 1 1 4 1 1 1 34 1-14 1-32 1-39 1 58 1 54 1-74 1 19 1-44 1-22 1 76 1-56 1 76 1-28 1-36 1 41 1 1 1 11 1-62 1 51 1-27 1 27 1 29 1-96 1 56 1-41 1 17 1 64 1-51 1-5 1 33 1-35 1-3 1-9 1-13 1 37 1-22 1-9 1 35 1-25 1 85 1-110 1 53 1 17 1-24 1 31 1-40 1-13 1-34 1 86 1-24 1-1 1-15 1 41 1-14 1 20 1-33 1 52 1-55 1 49 1 14 1-77 1 4 1 12 1 16 1 13 1-29 1-7 1 24 1-58 1 18 1 15 1 14 1 25 1-30 1-4 1 19 1-37 1 55 1-53 1 22 1 42 1-60 1 61 1-42 1-20 1 16 1-10 1 25 1-18 1 8 1 3 1-11 1-50 1 68 1-80 1 91 1-1 1-9 1-1 1-15 1 32 1-52 1-24 1 43 1-8 1 20 1-36 1 55 1 18 1-79 1 56 1 16 1-91 1 5 1 65 1-28 1-18 1-7 1 61 1-55 1 17 1-38 1 18 1 70 1-38 1-16 1-13 1 3 1 13 1 4 1-20 1 37 1-28 1 30 1-52 1 49 1-82 1 10 1 57 1-51 1-16 1 31 1 27 1-20 1-16 1 56 1 13 1-67 1 13 1-4 1 42 1-71 1 45 1-35 1 29 1-13 1-30 1-6 1 27 1 22 1 25 1-24 1-14 1 56 1-42 1 35 1-44 1 4 1-51 1 26 1 22 1-6 1 51 1-8 1-51 1-10 1-42 1 84 1-45 1 19 1-35 1 34 1 10 1 1 1-5 1-67 1 61 1-7 1 39 1-21 1 8 1-2 1 9 1-14 1-37 1-34 1 58 1 32 1-14 1-17 1-10 1 45 1-19 1-49 1 42 1 17 1 10 1 37 1-54 1 58 1-57 1-67 1 32 1 11 1-40 1 101 1-25 1 5 1-25 1 63 1-13 1-49 1 21 1-72 1 77 1 30 1-37 1 0 1-13 1 14 1-57 1 40 1 2 1 5 1 15 1-24 1 3 1 63 1-102 1 101 1-38 1-21 1-10 1 20 1 46 1-69 1 44 1-17 1-19 1 27 1 26 1 11 1 19 1-63 1 47 1-25 1 24 1-23 1-17 1 1 1 11 1-48 1 49 1-48 1 30 1-8 1-2 1-46 1 105 1-97 1 43 1-10 1 44 1-3 1-45 1 6 1-24 1 16 1 39 1-38 1 41 1-27 1-48 1 54 1 40 1-29 1-29 1 50 1 34 1-39 1-29 1 40 1-41 1-20 1 24 1-49 1-7 1 17 1 30 1-37 1 25 1 42 1-26 1 30 1-69 1 34 1 30 1-78 1 72 1 26 1-93 1 54 1 43 1-25 1-20 1-21 1 73 1-51 1-19 1-40 1 113 1-18 1-31 1 25 1-26 1-11 1 70 1-101 1 21 1 16 1-25 1 7 1 19 1 0 1 10 1 5 1-36 1 2 1-11 1-29 1 28 1-11 1 56 1-13 1 11 1 14 1-68 1 65 1-41 1 69 1-67 1 17 1 0 1-47 1 65 1 22 1 9 1-34 1-9 1 5 1-14 1-40 1 28 1-11 1 8 1 27 1-12 1 9 1-1 1 1 1-17 1 47 1-12 1-4 1 15 1-33 1 10 1 30 1-13 1 4 1-33 1-10 1 36 1-65 1-3 1 28 1 29 1-34 1 20 1-30 1 30 1 28 1-57 1 0 1 42 1-55 1 93 1-107 1 39 1 56 1-21 1-62 1 59 1-23 1-1 1 10 1 45 1-68 1 87 1-104 1 39 1 52 1-51 1 29 1-56 1-9 1 28 1-11 1 39 1-65 1 83 1-44 1-39 1-15 1 94 1-61 1 54 1 3 1-54 1 40 1-44 1 62 1-54 1 63 1-27 1-16 1 22 1-18 1-38 1 20 1 24 1-33 1 6 1 44 1-47 1 54 1-83 1 55 1-76 1 121 1-101 1 67 1-35 1-13 1-18 1 22 1-45 1 72 1-45 1-60 1 71 1-8 1-36 1 21 1-25 1-63 1 85 1-16 1-25 1-42 1 13 1-11 1 15 1-22 1-32 1-13 1-10 1 17 1 3 1-27 1-6 1 36 1-29 1 22 1-3 1 32 1 11 1-55 1 52 1 34 1-29 1-5 1-17 1 1 1 127 1-71 1 6 1 44 1-48 1 13 1 14 1 47 1 19 1-70 1 58 1-1 1-1 1 22 1-5 1 16 1-59 1 45 1 45 1-20 1-13 1-42 1 39 1-40 1 2 1 85 1-44 1 54 1 3 1-21 1-97 1 19 1 50 1-12 1-29 1 27 1-17 1-6 1 65 1-86 1 38 1 11 1-7 1 10 1 33 1-65 1 9 1 41 1-74 1 48 1-7 1 8 1 52 1-69 1 17 1-74 1 27 1 14 1 14 1 53 1-65 1 3 1-9 1-31 1 53 1-13 1-10 1 14 1 49 1-79 1-45 1 79 1-30 1-36 1 36 1-25 1 80 1-49 1-22 1-4 1 42 1 18 1-33 1-61 1 40 1 40 1 34 1-32 1-19 1-28 1 32 1 3 1 54 1-61 1 13 1 12 1-25 1 37 1-56 1 36 1-53 1 82 1-40 1 31 1-22 1 27 1-1 1-29 1 5 1 46 1-61 1 5 1 77 1-52 1-20 1-10 1 0 1-24 1 13 1 46 1-18 1-59 1-5 1 55 1-45 1-2 1 45 1 13 1-38 1-18 1 25 1-9 1-33 1 53 1 6 1-82 1-10 1 26 1 19 1-19 1-36 1 44 1-74 1 3 1 72 1-117 1 24 1-19 1-5 1 45 1 44 1-139 1 65 1 31 1-62 1 50 1-43 1 44 1-48 1 15 1 61 1-39 1-78 1 49 1-6 1-12 1-31 1 65 1 6 1 47 1 32 1-53 1 17 1-9 1 5 1 21 1 14 1-10 1-1 1 36 1-11 1-16 1 31 1 12 1 11 1 32 1-28 1-34 1-37 1 35 1 30 1 20 1 4 1 3 1-61 1 60 1 7 1-7 1-24 1 72 1-99 1 0 1 91 1-29 1 3 1 42 1-50 1 22 1 11 1 39 1-106 1 55 1-19 1-3 1 29 1-49 1 27 1 39 1-36 1 7 1-14 1-17 1 1 1-8 1 19 1-57 1 41 1-30 1 8 1 55 1 5 1-90 1 33 1 1 1-35 1 67 1-40 1 17 1-10 1 19 1-5 1 12 1-45 1 27 1 18 1-1 1 20 1-84 1 35 1 45 1-32 1 6 1 14 1-12 1 20 1 14 1-11 1-26 1 100 1-123 1 68 1-34 1 55 1-82 1 63 1-31 1 91 1-9 1-89 1 79 1-3 1-21 1 7 1-12 1 21 1-81 1 39 1 39 1-18 1 45 1-91 1 68 1-51 1 54 1 1 1-43 1 10 1 66 1-116 1 93 1 7 1-17 1-55 1 43 1-15 1 9 1 16 1-47 1 48 1-35 1 40 1-59 1 29 1-38 1 14 1-21 1 73 1 10 1-40 1 32 1-21 1 16 1-2 1-13 1 5 1 52 1-24 1-32 1-66 1 70 1 20 1-3 1 29 1-115 1 81 1-22 1-28 1 47 1-4 1-41 1-28 1 70 1-57 1-13 1 19 1 69 1-18 1-15 1-17 1 31 1 9 1 6 1-33 1 18 1 27 1-6 1 15 1-44 1 29 1-75 1 61 1-65 1 60 1-33 1 59 1-96 1 10 1 35 1 7 1-14 1-18 1 52 1-5 1 39 1-47 1-27 1 27 1 41 1-53 1 26 1-10 1-51 1 79 1 13 1-51 1 66 1-84 1 38 1-27 1 28 1-3 1-25 1-41 1 49 1-4 1-44 1 69 1-18 1 54 1-24 1-38 1 39 1-91 1 58 1 22 1-20 1 32 1-33 1-36 1 1 1 92 1-13 1-79 1 82 1-63 1 2 1 37 1-69 1 30 1-10 1 50 1 33 1-88 1 60 1-17 1-53 1 72 1-57 1-3 1 61 1 27 1-32 1-5 1-1 1-72 1 28 1-31 1 58 1-24 1 2 1 6 1-15 1 18 1 17 1 10 1-12 1-59 1 81 1-53 1 65 1-43 1 6 1 9 1 35 1-1 1-82 1 50 1-21 1 5 1 59 1-69 1-48 1-5 1 69 1-20 1 11 1-36 1 33 1-17 1 26 1-67 1 87 1-25 1 51 1-44 1-60 1 108 1-20 1-67 1-17 1 102 1-94 1 79 1-20 1 16 1-16 1-29 1-7 1-35 1 21 1-17 1 31 1 41 1-24 1-55 1 37 1-12 1 10 1-16 1-30 1 22 1-31 1-29 1 25 1 39 1-44 1-4 1-21 1 20 1-3 1 7 1-36 1 95 1-50 1-52 1-23 1 44 1 90 1 3 1-105 1 21 1 35 1-55 1 77 1-16 1-50 1-3 1 80 1 37 1-78 1 14 1 7 1 18 1-42 1-1 1 18 1 93 1-25 1-6 1 50 1-90 1-4 1 64 1-80 1 77 1-24 1 5 1 59 1-76 1 23 1-50 1 42 1 1 1 29 1-15 1 15 1-48 1 28 1-60 1 87 1 15 1-42 1 4 1-8 1-48 1 58 1 28 1-64 1 60 1-23 1 23 1-38 1-6 1 8 1 23 1-24 1 16 1-29 1 61 1-34 1-62 1 51 1 57 1-78 1-1 1 3 1 45 1-65 1 41 1 3 1 2 1-22 1 21 1 14 1-25 1-16 1 21 1 6 1-45 1 45 1-16 1-37 1 60 1-31 1 27 1-8 1 19 1-14 1-38 1 40 1 18 1-52 1 30 1 0 1-4 1-4 1-27 1 11 1 31 1-6 1-24 1 24 1 7 1-39 1 26 1 24 1-45 1 50 1-76 1 58 1-29 1 66 1-27 1 0 1-2 1-8 1-18 1-42 1 33 1 46 1-17 1-16 1 17 1-9 1-41 1 21 1 52 1-66 1 70 1-48 1 31 1 25 1-10 1-39 1 30 1-31 1 33 1-28 1-6 1 61 1-85 1 26 1 17 1-23 1 3 1 7 1-46 1 14 1 25 1 4 1-43 1 91 1-102 1 43 1 27 1-16 1-20 1 48 1-53 1 63 1-58 1 21 1 11 1-33 1 5 1 6 1 12 1-13 1 18 1 13 1-62 1-14 1 101 1-45 1-13 1 55 1-33 1-12 1 13 1 33 1-40 1-22 1 2 1 31 1-61 1 83 1-82 1 54 1 21 1-3 1-35 1-11 1 13 1 38 1-56 1 64 1-66 1 13 1 11 1-17 1 30 1-32 1 76 1-28 1-46 1 33 1-23 1 15 1 22 1-16 1-28 1-3 1 34 1-2 1 2 1 39 1-74 1 27 1-8 1-37 1 55 1-39 1-30 1 89 1-42 1-10 1 1 1 25 1 11 1-1 1-20 1-11 1 32 1-4 1-29 1 9 1 6 1 24 1 30 1-36 1-12 1-6 1-28 1 35 1-41 1 45 1-55 1 32 1-18 1 56 1-73 1 29 1 37 1-70 1 66 1 19 1-55 1 20 1-34 1 25 1-31 1 55 1-2 1 16 1-15 1 8 1-37 1 62 1-84 1 48 1-30 1 2 1 16 1-53 1 38 1-23 1 48 1-26 1 27 1 4 1 14 1-21 1-53 1 35 1 40 1-48 1 60 1 15 1-52 1-16 1 68 1-67 1 59 1-47 1-10 1 66 1-34 1-22 1-22 1 61 1-48 1-3 1 13 1 41 1-27 1 35 1-48 1 33 1-46 1 4 1 49 1 0 1-64 1 42 1 5 1-77 1 48 1-6 1 17 1-37 1-30 1 48 1-43 1 6 1 57 1 30 1-43 1 32 1-20 1-15 1 19 1-23 1 23 1 31 1-17 1-9 1-37 1 49 1-67 1 55 1 18 1-97 1 79 1 1 1 4 1-46 1 80 1-18 1 2 1-41 1 9 1-25 1-27 1 16 1 77 1-29 1-31 1-33 1 57 1 38 1-63 1 27 1-4 1 47 1-63 1 16 1-20 1 12 1 14 1 31 1-40 1 24 1-63 1 48 1 24 1-104 1 12 1 53 1-25 1 64 1-41 1 38 1 4 1-9 1-1 1 9 1-105 1 84 1-59 1 58 1-69 1 47 1 48 1-6 1-65 1 21 1-5 1-47 1 93 1-74 1-26 1 47 1-9 1 6 1 12 1-40 1 39 1 7 1 38 1-27 1-36 1 42 1 2 1-22 1-59 1 41 1-35 1 72 1-76 1 39 1 21 1-17 1 18 1 11 1 42 1-64 1-40 1 95 1-70 1-8 1 47 1-17 1 3 1-52 1 39 1 35 1-7 1-39 1-9 1 22 1 34 1-14 1 20 1-13 1 8 1-31 1 16 1 46 1-96 1 28 1 2 1-17 1 4 1-14 1 47 1 8 1-40 1-34 1 59 1-23 1 14 1-32 1 52 1-21 1-8 1 38 1-30 1-27 1-15 1 30 1 20 1-23 1-1 1-15 1 40 1 29 1-49 1 47 1-30 1-5 1 31 1-28 1-59 1 116 1-82 1 36 1-10 1 31 1-22 1-27 1 6 1 1 1 6 1 64 1-32 1-55 1 16 1 61 1-57 1-2 1-41 1 109 1-39 1-56 1-25 1 96 1 9 1-76 1 31 1 14 1-25 1-7 1 44 1-56 1 61 1-51 1 5 1-30 1-12 1 62 1-51 1 50 1-3 1 28 1-38 1-4 1 30 1 0 1-3 1-36 1 35 1 6 1-26 1 26 1-54 1 13 1 25 1-42 1 2 1 38 1-1 1 1 1 10 1-14 1-29 1 91 1-87 1 79 1-85 1 31 1 11 1 7 1-3 1 5 1 12 1-66 1 30 1 0 1-1 1 21 1 1 1 10 1-25 1-23 1-13 1 58 1 18 1-49 1-18 1-15 1-3 1 35 1-10 1 13 1-5 1-20 1 36 1-10 1-19 1 3 1 80 1-84 1 38 1 33 1-79 1 11 1 23 1-37 1 47 1-39 1-36 1 43 1 4 1 52 1-101 1 75 1-54 1 16 1-8 1-32 1 30 1 46 1-17 1-35 1 14 1 47 1-33 1-25 1-15 1 50 1-42 1-15 1 42 1 25 1-75 1 66 1-42 1-11 1 4 1 14 1 42 1-45 1 51 1 5 1-23 1 2 1-57 1 10 1-37 1 23 1 2 1 48 1-48 1-48 1 60 1-9 1-8 1-34 1 13 1-34 1 51 1-46 1 27 1-41 1-19 1 20 1-79 1 12 1-21 1-3 1 76 1-24 1-81 1 29 1-5 1 34 1-21 1-19 1-42 1-7 1-52 1 59 1-40 1-18 1 23 1-35 1 51 1 29 1-72 1 57 1-32 1-20 1 3 1 4 1-69 1 40 1 24 1-58 1 21 1 28 1 71 1-10 1 20 1 6 1-89 1-17 1 115 1-30 1-79 1 111 1 17 1 22 1-70 1-1 1 63 1-6 1 45 1 22 1-59 1 15 1 53 1-83 1 73 1 29 1 19 1-48 1-19 1 75 1-44 1 14 1 84 1-38 1-8 1-59 1 51 1 21 1-40 1 95 1-29 1-46 1 38 1 40 1-21 1 6 1-41 1-12 1 93 1-14 1-10 1-14 1-10 1 31 1 44 1-118 1 39 1 29 1-37 1 83 1-43 1 8 1-61 1 65 1 16 1-19 1 23 1 1 1 0 1-68 1 29 1-4 1-24 1 27 1 43 1 2 1-41 1 19 1 7 1 7 1 5 1-35 1-29 1 73 1-54 1 18 1-13 1 4 1 28 1-13 1-52 1 6 1 37 1 38 1 15 1-51 1 40 1 14 1-48 1-39 1 44 1-10 1 21 1-56 1 58 1-18 1 63 1-17 1-6 1-57 1 7 1 72 1-21 1-82 1 46 1 5 1-7 1 2 1 3 1-16 1-41 1 96 1-63 1 74 1-93 1 75 1-60 1 46 1 32 1-67 1 1 1 23 1-5 1-5 1 58 1-38 1-35 1 20 1 0 1 12 1-15 1-20 1 44 1-62 1-25 1 52 1 24 1 29 1-76 1 34 1-62 1 65 1 13 1-30 1 33 1-23 1-19 1 69 1-78 1 15 1-44 1 72 1-33 1-4 1 44 1-43 1 23 1 3 1 22 1-59 1-5 1 11 1 26 1-29 1 77 1 3 1 13 1-109 1 5 1 53 1-44 1 29 1 5 1 15 1-7 1-4 1-4 1-40 1 84 1-72 1 55 1 2 1 27 1-41 1-14 1 0 1 6 1 52 1-67 1 51 1-69 1 43 1-30 1-18 1 40 1 18 1-41 1-6 1 67 1-89 1 48 1 34 1-8 1-49 1 2 1-42 1 76 1-14 1 5 1 31 1-37 1 59 1-76 1 0 1 28 1-47 1 51 1-12 1-9 1-4 1 29 1 5 1-32 1-21 1 46 1 13 1-53 1 37 1-50 1 10 1 4 1 28 1 11 1 4 1 4 1-9 1-24 1 0 1 7 1-51 1 42 1 61 1-14 1-29 1-20 1-44 1 56 1-19 1 71 1-94 1 69 1-47 1 22 1-4 1-55 1 90 1-93 1 65 1-51 1-6 1 63 1 20 1-52 1-32 1 85 1-29 1 19 1-38 1 22 1-43 1 7 1-14 1 41 1-52 1 114 1-51 1-60 1 68 1 3 1-57 1 42 1 10 1-35 1 23 1 56 1-45 1-22 1 0 1 26 1 15 1 2 1-9 1-86 1 2 1 15 1 21 1 12 1 1 1-41 1 21 1-14 1 89 1-96 1 36 1 16 1 19 1-21 1 20 1-5 1-23 1-20 1 47 1-21 1 25 1 17 1-40 1-2 1 2 1 2 1-8 1 38 1-39 1-10 1 14 1 47 1-43 1 32 1-31 1 24 1-23 1-7 1 21 1-20 1-28 1 65 1-70 1-14 1 47 1 34 1 6 1-85 1 25 1-4 1 19 1 25 1-17 1 51 1-46 1-9 1-27 1-6 1 61 1 27 1-9 1-48 1-11 1 12 1 11 1-25 1-10 1 43 1-75 1 80 1-26 1-4 1-11 1 35 1-20 1-2 1 24 1-24 1 48 1-64 1 49 1-23 1 30 1-32 1-23 1 18 1-16 1 1 1 39 1-44 1-14 1 33 1-53 1 37 1 49 1-18 1-23 1-42 1 2 1 57 1-15 1 2 1-50 1 84 1-25 1-5 1 22 1 33 1-59 1 29 1 14 1-54 1 64 1 7 1-96 1 63 1-2 1-26 1 35 1-18 1-17 1-7 1 51 1-28 1-56 1 34 1 47 1-34 1-5 1-7 1 18 1 21 1-81 1 82 1-39 1 55 1-19 1-22 1 2 1-9 1-8 1 48 1 8 1-41 1 22 1-26 1-48 1 84 1-72 1 18 1-2 1 85 1-59 1 13 1 46 1-60 1-1 1-9 1-2 1-13 1 79 1-37 1-17 1-32 1 18 1 65 1-7 1-69 1 18 1 67 1-53 1 25 1-21 1-9 1-54 1 1 1 80 1-28 1-25 1 35 1-12 1-34 1-19 1 49 1-25 1-3 1 23 1-42 1 13 1 45 1 10 1-17 1-2 1 54 1-15 1-54 1-7 1 22 1 39 1-22 1 4 1-76 1 59 1 8 1-2 1-40 1 4 1 23 1-6 1-57 1 90 1-32 1 10 1-25 1 26 1 43 1-69 1 52 1-77 1 10 1 28 1-11 1-12 1-12 1-26 1 84 1 15 1-79 1 15 1 6 1 38 1-4 1-71 1 20 1-6 1-13 1 12 1-3 1 53 1-22 1-40 1 42 1-64 1 48 1-4 1-1 1-31 1 17 1-73 1 0 1 43 1-19 1-7 1-20 1 14 1-18 1-44 1 29 1 10 1 14 1-67 1 27 1-38 1 78 1-57 1 6 1-14 1-34 1 17 1 23 1-59 1 23 1-14 1-13 1-44 1 22 1-50 1 42 1-1 1-17 1 26 1-44 1 68 1 23 1-15 1-37 1 72 1 29 1 0 1-71 1 14 1 18 1 18 1 11 1-33 1 34 1-40 1 0 1 39 1-10 1 70 1-42 1-34 1 14 1-57 1 24 1 89 1-111 1 52 1-51 1-8 1 41 1-44 1-13 1 62 1-43 1-19 1 44 1 47 1-11 1-61 1 4 1-11 1 50 1-7 1-16 1-46 1 94 1-65 1 0 1 46 1 10 1-36 1 40 1 2 1 67 1-25 1 41 1-7 1 7 1 20 1 37 1-64 1 73 1-24 1-63 1 80 1-25 1-1 1-23 1 5 1 10 1 68 1-21 1-10 1 16 1-80 1 35 1-32 1 68 1 26 1-102 1 18 1 47 1-12 1-71 1 53 1-1 1-23 1-2 1 35 1-48 1 4 1 13 1 31 1-96 1 5 1-4 1-38 1 45 1 49 1-31 1 5 1-66 1 23 1-25 1-29 1 4 1 13 1-34 1 8 1-100 1 36 1 24 1 17 1-102 1 53 1 22 1 41 1-47 1-30 1 77 1 47 1-98 1 39 1 14 1 0 1 46 1 41 1-10 1 5 1 50 1-48 1 7 1 22 1 49 1-50 1 79 1-78 1 66 1-47 1-2 1 46 1-10 1 46 1-47 1-2 1 71 1-9 1-21 1-19 1 39 1-75 1 3 1 43 1 5 1 23 1-26 1-19 1 72 1 36 1-36 1 12 1-45 1 22 1-16 1 25 1-45 1-18 1-14 1 66 1-19 1-6 1-4 1-35 1 49 1-14 1-1 1 91 1-110 1 39 1 59 1 11 1-59 1-50 1 58 1-29 1 35 1 39 1-51 1-36 1 3 1 66 1-84 1 70 1-33 1 40 1-22 1 22 1-23 1 26 1-17 1-47 1 76 1-96 1 77 1 36 1 2 1-96 1 44 1-32 1 18 1 52 1-94 1 54 1 40 1-58 1 30 1 9 1-45 1 68 1-64 1 39 1-7 1-70 1 35 1 71 1-113 1 81 1-7 1 47 1-49 1-21 1-6 1 45 1-18 1 12 1-37 1 20 1-35 1 52 1-55 1-22 1 29 1 17 1-39 1 7 1 36 1-5 1 12 1-30 1 14 1-42 1 52 1-57 1-2 1 23 1-35 1 4 1 16 1-28 1 48 1-102 1 4 1 67 1-73 1 12 1 39 1-61 1 44 1 47 1-116 1 84 1-13 1-79 1 20 1 103 1-24 1-63 1 38 1 22 1-15 1 24 1 42 1-76 1 32 1 35 1 27 1-46 1 0 1 73 1-86 1 20 1 31 1-15 1 2 1-42 1 100 1 26 1-47 1-10 1 37 1-13 1-17 1-23 1 27 1-16 1 12 1-3 1 4 1-3 1-5 1-29 1 34 1 59 1-35 1 27 1-32 1 22 1-95 1 61 1 10 1-41 1-23 1 61 1-13 1-10 1 30 1-8 1-48 1 76 1-38 1 20 1-23 1-23 1 5 1 12 1 24 1 4 1 16 1-50 1 79 1-117 1 79 1-11 1-10 1 23 1-4 1-79 1 61 1 35 1 21 1-116 1 91 1-7 1-48 1 28 1 37 1-29 1 3 1 3 1-39 1 51 1-36 1-5 1-4 1 17 1-14 1 36 1-50 1-10 1 45 1-23 1 50 1-75 1-1 1 52 1-41 1 31 1-16 1 53 1-34 1-50 1 37 1 39 1-71 1 26 1-29 1-17 1 22 1 8 1 61 1-72 1 12 1-21 1 42 1 25 1-5 1-41 1 61 1 15 1-94 1 85 1-51 1-25 1 65 1-42 1 4 1-50 1 73 1-23 1 12 1-21 1 25 1 35 1-100 1 69 1-2 1-27 1 38 1-25 1-20 1 34 1-10 1-8 1 4 1 20 1-40 1 10 1 8 1-9 1 21 1-9 1 33 1-91 1 89 1-16 1 14 1 5 1-28 1 17 1 3 1-22 1 23 1 0 1-26 1-2 1 11 1 38 1-34 1-46 1 38 1 13 1 45 1-74 1-7 1-36 1 62 1 25 1-90 1 41 1-20 1-3 1 20 1 40 1-11 1-12 1 10 1-23 1 77 1-71 1 2 1 2 1-10 1 37 1-41 1 2 1 9 1-27 1 36 1-12 1-5 1-2 1-30 1 65 1-19 1-27 1-9 1 31 1-30 1 78 1-11 1-42 1-9 1 3 1 30 1 17 1-55 1 52 1-57 1 58 1-73 1 30 1 40 1 8 1-41 1 13 1-18 1-41 1 24 1 6 1 31 1 14 1-19 1-13 1 18 1 37 1-14 1-34 1-30 1 81 1-38 1 15 1-17 1-16 1 20 1-43 1 93 1-41 1-36 1 55 1 3 1-46 1-13 1 3 1 38 1-21 1-2 1 44 1 16 1-67 1 22 1-44 1 52 1-61 1 17 1 25 1 6 1 3 1-3 1 3 1-22 1 40 1-62 1 12 1-5 1 46 1-57 1 40 1-15 1-48 1 47 1 4 1 61 1-7 1-28 1-62 1 78 1-39 1-8 1 4 1-31 1 61 1-9 1-23 1 17 1-5 1-34 1 59 1-23 1-16 1-8 1-36 1 51 1-11 1 32 1-42 1 20 1 17 1 20 1-66 1 43 1-6 1-60 1 75 1 2 1-37 1 10 1-25 1 51 1-3 1-70 1 63 1 7 1-25 1-4 1 7 1 6 1 5 1 5 1-1 1 16 1-5 1 2 1 12 1-85 1 114 1-34 1-20 1-24 1 7 1-3 1 53 1-48 1 52 1-72 1-6 1 26 1 40 1-41 1 61 1-12 1-6 1 6 1-35 1-5 1-21 1 24 1-14 1 67 1-51 1-29 1-29 1 21 1 37 1 34 1-62 1-20 1 75 1-80 1 89 1-4 1-25 1-5 1 15 1-5 1-23 1 40 1 30 1-84 1 50 1 11 1-62 1 29 1-29 1 18 1 0 1 24 1-4 1-1 1-21 1 22 1-8 1 20 1 31 1-62 1-19 1 53 1-42 1-4 1 38 1 2 1-53 1 40 1-12 1-46 1 13 1 56 1 20 1-11 1-47 1 58 1-54 1 8 1 19 1-24 1-1 1 13 1 20 1 7 1-66 1-20 1 46 1 74 1-56 1-47 1 50 1 1 1 27 1-31 1-32 1-3 1 55 1 14 1-42 1-7 1 6 1 4 1-53 1 36 1-15 1 34 1-47 1 12 1 82 1-59 1-20 1 64 1-64 1 21 1 34 1-2 1-18 1-21 1-6 1-20 1 47 1-48 1 31 1-20 1 24 1 39 1-65 1-20 1 54 1 50 1-72 1 32 1-80 1 62 1-20 1-11 1 48 1-9 1-1 1-68 1 27 1 42 1 12 1-3 1-31 1-8 1 77 1-29 1-61 1 80 1-7 1-47 1 12 1 33 1-19 1-58 1 87 1-24 1-20 1 49 1-88 1 19 1-4 1 28 1-24 1 24 1 20 1-28 1-35 1 44 1-15 1 64 1-95 1 53 1-40 1 14 1 28 1 35 1-53 1-10 1-19 1 40 1 4 1-73 1 46 1 2 1-4 1 0 1-21 1-31 1 15 1 41 1 59 1-66 1 48 1-64 1 24 1 35 1-76 1 47 1-10 1-15 1-44 1 46 1-31 1 21 1-2 1 7 1 33 1 26 1 14 1-84 1-13 1 4 1-36 1 29 1-1 1-32 1-2 1 71 1-36 1 45 1-57 1 11 1 19 1 49 1-51 1-70 1 51 1 51 1-82 1-3 1-28 1 71 1-5 1 33 1-119 1 8 1 59 1 6 1-23 1-14 1 7 1 49 1-68 1 32 1-92 1 59 1 4 1 18 1-27 1 33 1-56 1 7 1-68 1 81 1-9 1 2 1-41 1 17 1-24 1 38 1-37 1 25 1 61 1-72 1-48 1 32 1 89 1-93 1-7 1 53 1-8 1 20 1-45 1 94 1-76 1 48 1-23 1-34 1 47 1 8 1-62 1 39 1-47 1 37 1 9 1 53 1 31 1-76 1 23 1-46 1 40 1 64 1-44 1 39 1-81 1 36 1 60 1-11 1-11 1-11 1 16 1-36 1 34 1 30 1-29 1 23 1-58 1 40 1-16 1 38 1-17 1-5 1 44 1-13 1 20 1-20 1 52 1-24 1-62 1 42 1-32 1 0 1 86 1-43 1-30 1 38 1-14 1 16 1-3 1-41 1 71 1-90 1 35 1-21 1 33 1-21 1 23 1 27 1-8 1 38 1-16 1-38 1-10 1-27 1 64 1-9 1 23 1-46 1 26 1-83 1 36 1 12 1 6 1 4 1 6 1 0 1 23 1-56 1 31 1-52 1 83 1-79 1 67 1-82 1 63 1-8 1 39 1-27 1-7 1-22 1 27 1-27 1 29 1-3 1 0 1-20 1-24 1 19 1 7 1-52 1 47 1 38 1-37 1 3 1-71 1 79 1-53 1 45 1 21 1-51 1 74 1-20 1-77 1 88 1-45 1 48 1-50 1-1 1 17 1-18 1-14 1 15 1-12 1 12 1 45 1 25 1-66 1 3 1 0 1 46 1-60 1 35 1-18 1 0 1 3 1 16 1-20 1-8 1-32 1 100 1-33 1-29 1 12 1-9 1 16 1-11 1 3 1 35 1-80 1 78 1-10 1-52 1 45 1 41 1-53 1 19 1 15 1-45 1 20 1-35 1 92 1-78 1 39 1-12 1-1 1-25 1 5 1-4 1 44 1-81 1 99 1-100 1 27 1 92 1-47 1 8 1-20 1-6 1 29 1-20 1 3 1-33 1-32 1 19 1 11 1 33 1-13 1 34 1-8 1-27 1 21 1 9 1 27 1-27 1-51 1 30 1 18 1-48 1 71 1-97 1 69 1 41 1-77 1 67 1-13 1 0 1-11 1-48 1 36 1-6 1 33 1-73 1 73 1-16 1-36 1 51 1-52 1 12 1-14 1 7 1 11 1 33 1 5 1-21 1-20 1 2 1 19 1-11 1 18 1 39 1-46 1-1 1 27 1-54 1 49 1 26 1 0 1-25 1 17 1-61 1 24 1 3 1-21 1 9 1 4 1-34 1 53 1-11 1-24 1 39 1-14 1-14 1-9 1 2 1-13 1 40 1-55 1 22 1-25 1 41 1-26 1 21 1-19 1 20 1 19 1-3 1-41 1-35 1 85 1 7 1-60 1 23 1 23 1-21 1 19 1-14 1-2 1 38 1-15 1-30 1-52 1 62 1 23 1-21 1-10 1 62 1-95 1 32 1 1 1 19 1-11 1-18 1 43 1-36 1 30 1-53 1 29 1-6 1 35 1-10 1 29 1-78 1 60 1-42 1 9 1 66 1-9 1-6 1-58 1-1 1 69 1-68 1 20 1-29 1 9 1 0 1 30 1-37 1 27 1 40 1-65 1 24 1 19 1-28 1 12 1-35 1 43 1 42 1-47 1-5 1 21 1-14 1-42 1 81 1-79 1 23 1 7 1 0 1-20 1-8 1 38 1-16 1-15 1-4 1-12 1-25 1 100 1-6 1-41 1 17 1-31 1-7 1-15 1 99 1-15 1-49 1 5 1 6 1 1 1 17 1 35 1-44 1-19 1-20 1 86 1-14 1-20 1 29 1-104 1 77 1-38 1 31 1-25 1 2 1-6 1 51 1-8 1 25 1-62 1 61 1-7 1-73 1 15 1 65 1-23 1-28 1 15 1 12 1-55 1 35 1-3 1 26 1 15 1 3 1-69 1 23 1-13 1 52 1-72 1-8 1-17 1 74 1-23 1 34 1-35 1-5 1-23 1 57 1 5 1-39 1 44 1-23 1 3 1-6 1-30 1 28 1 42 1-31 1 12 1-14 1-11 1-41 1 43 1-49 1 34 1 18 1-13 1 12 1 5 1-74 1 62 1 40 1-25 1-78 1 69 1-9 1 5 1-16 1-57 1 34 1 4 1-38 1 49 1 70 1-59 1 3 1 36 1-40 1 29 1 30 1-70 1 38 1-18 1 21 1-35 1 23 1-57 1 5 1-17 1 26 1 27 1 18 1 2 1 36 1-26 1-18 1 8 1-5 1-5 1 26 1-20 1-13 1 14 1-12 1 0 1-17 1-4 1-7 1 26 1 12 1 15 1-54 1 22 1 13 1 31 1-43 1-24 1 23 1-6 1-11 1-11 1 43 1-26 1 17 1 14 1-43 1 43 1-18 1-1 1 41 1-61 1 34 1-75 1 66 1 49 1-35 1 8 1 0 1-31 1 12 1-40 1 58 1 5 1-64 1 7 1 35 1-19 1 30 1-22 1-35 1 57 1 14 1-22 1 40 1-38 1-59 1 38 1 10 1-48 1-17 1 66 1 29 1-21 1-19 1-4 1-16 1 46 1-43 1 75 1-44 1 8 1-23 1 8 1 13 1 2 1-4 1-54 1-16 1 27 1 37 1-60 1 49 1-6 1-4 1 17 1 52 1-49 1 21 1 0 1-42 1 46 1-15 1-4 1-46 1 47 1-13 1 10 1 37 1-67 1 15 1 54 1-38 1-39 1-5 1 50 1-36 1-21 1-7 1 60 1-59 1 18 1-19 1 53 1 5 1-11 1 5 1-79 1 28 1-49 1 13 1 27 1 17 1-55 1 68 1-78 1 51 1-44 1 16 1 10 1 15 1 17 1-54 1-43 1 11 1 78 1-100 1 31 1 0 1-23 1 11 1 36 1-24 1-28 1 13 1 60 1-17 1-22 1 55 1-41 1 21 1 53 1-60 1-12 1-33 1 67 1 18 1-38 1 38 1-1 1 53 1-88 1-30 1 40 1 39 1 22 1-35 1-34 1 53 1 48 1-49 1 39 1-68 1 41 1-43 1 5 1 45 1-9 1-52 1 59 1-5 1 31 1-8 1-29 1 30 1-39 1 2 1-27 1 2 1 29 1-50 1-16 1 45 1-5 1 24 1-21 1-44 1 23 1 92 1-24 1-49 1 22 1-59 1 83 1-14 1-76 1 47 1-25 1-2 1-9 1 3 1 51 1-29 1 35 1-69 1 36 1-34 1-9 1 31 1-19 1 8 1 33 1-59 1 52 1 4 1 12 1-72 1 48 1 52 1-70 1 78 1-87 1 5 1 70 1-61 1 52 1-73 1 46 1-2 1 56 1-106 1 62 1-7 1 5 1-17 1-26 1 41 1-26 1-5 1 48 1-60 1 87 1-109 1 68 1-13 1-1 1-15 1 48 1-105 1 85 1-12 1-20 1-15 1 56 1-80 1 41 1 34 1-48 1-42 1 54 1 13 1 21 1 12 1-65 1 56 1-35 1 28 1-35 1-9 1-2 1-1 1 83 1-14 1-1 1-14 1 1 1 48 1-75 1 53 1-70 1 35 1-4 1 21 1 29 1-57 1-10 1 43 1-15 1 19 1-9 1 15 1-22 1 6 1-4 1-4 1-3 1-39 1 70 1-1 1 14 1-50 1 42 1-53 1 64 1-39 1 22 1 26 1-57 1 40 1-31 1 24 1-52 1 91 1-65 1 49 1-20 1 9 1-25 1 21 1-29 1-7 1 3 1 51 1-36 1 32 1-14 1-65 1 28 1 31 1 60 1-53 1 5 1-11 1 3 1 13 1-66 1 83 1-41 1-21 1 72 1-32 1 5 1-36 1 38 1-39 1 18 1 13 1 12 1 7 1-31 1 25 1-34 1 8 1-14 1 35 1-62 1 39 1-24 1 26 1-34 1 1 1 12 1 56 1-45 1 10 1-38 1 26 1 11 1 63 1-68 1-8 1-21 1 8 1-20 1 66 1-17 1 27 1-43 1 39 1-18 1-5 1-3 1-32 1 77 1-1 1-43 1-29 1 26 1-10 1-33 1 98 1-20 1-81 1 51 1 19 1-13 1 55 1-113 1 118 1-1 1-81 1 33 1-25 1 62 1-31 1-52 1 63 1-60 1 21 1-23 1 11 1 43 1-15 1-31 1 34 1-17 1 10 1 3 1-25 1 81 1-52 1 7 1-31 1-9 1 32 1 6 1 23 1-45 1 3 1 24 1 17 1-32 1 36 1-24 1 38 1-54 1 22 1 15 1-53 1 24 1 19 1-48 1 26 1 35 1-3 1-49 1 28 1-29 1-9 1 8 1 26 1 42 1-62 1 27 1-12 1 15 1-55 1 58 1-20 1-16 1 42 1-25 1 19 1 34 1-43 1 2 1-17 1 2 1 56 1-53 1-61 1 48 1 40 1-17 1 18 1-42 1 72 1-37 1 14 1-27 1-25 1 32 1-72 1 58 1 39 1-1 1-53 1-15 1 15 1 44 1-9 1-10 1-61 1 108 1-64 1-12 1 14 1 9 1-12 1-14 1 17 1 14 1 11 1-7 1-8 1-12 1 2 1-3 1 2 1 41 1 20 1-48 1-15 1 44 1-98 1 29 1 68 1-11 1-59 1 26 1-19 1 61 1-30 1 30 1-61 1-1 1 45 1-19 1 17 1-49 1 31 1-57 1 64 1-27 1-22 1 62 1-54 1 17 1 21 1 37 1-6 1-49 1 23 1-16 1 28 1 40 1-39 1-8 1-30 1 35 1-17 1-11 1 17 1 8 1-13 1-1 1-36 1 42 1-27 1 32 1-11 1-5 1 5 1 27 1-86 1 66 1 33 1-49 1 23 1 23 1-4 1 11 1-55 1 66 1-83 1 49 1-42 1 46 1-3 1-56 1 48 1 22 1-37 1 43 1-42 1 1 1 5 1 23 1 14 1-64 1 50 1-80 1 73 1 28 1 10 1-88 1 15 1 13 1 21 1 12 1-93 1 82 1-15 1-53 1 34 1-12 1 15 1 11 1 28 1-77 1 41 1-3 1 18 1 0 1-69 1 57 1 1 1-6 1 19 1-23 1 19 1-16 1 20 1-19 1-1 1 3 1 8 1-14 1-1 1-17 1 46 1-38 1 36 1 16 1-81 1 12 1 97 1-73 1 12 1 61 1-112 1 111 1-86 1 44 1 11 1 29 1-27 1-39 1-33 1 26 1 28 1 3 1-41 1-5 1 25 1-15 1 59 1-49 1 27 1-8 1-4 1 14 1-46 1 17 1 22 1-45 1 2 1 7 1 19 1-2 1 31 1-49 1 1 1 33 1-24 1-10 1 57 1-54 1 32 1-1 1 8 1-18 1 16 1 12 1-85 1 53 1-7 1 63 1-17 1-45 1-46 1 50 1-4 1 2 1-8 1-37 1 76 1-24 1-53 1 33 1-34 1 51 1-34 1 6 1 6 1-28 1 36 1-7 1-26 1 26 1-53 1 6 1-12 1 1 1-20 1 23 1 44 1 8 1-48 1 23 1-53 1-6 1 17 1-1 1-23 1 93 1-71 1-7 1 74 1-68 1 19 1 35 1-98 1 74 1-14 1 1 1-63 1 103 1-32 1-12 1 4 1 40 1-108 1 68 1 31 1-28 1-3 1-34 1 27 1 46 1-18 1-28 1 23 1-59 1 86 1-28 1-16 1 47 1-18 1-12 1 9 1 30 1-22 1-21 1-16 1 10 1-6 1 27 1 13 1 25 1-16 1 18 1-34 1 14 1 18 1 47 1-70 1-7 1 17 1-18 1 36 1-39 1 74 1-58 1-24 1 5 1 40 1-7 1-19 1 21 1-12 1 15 1 66 1-63 1-40 1 11 1 59 1-10 1-71 1 50 1 38 1-12 1-31 1-6 1 10 1 41 1-64 1-22 1 59 1-15 1 16 1 37 1-40 1 23 1-25 1-24 1 50 1 38 1-22 1-53 1-20 1 43 1-7 1-7 1 20 1-19 1-24 1 21 1 17 1 9 1 2 1 7 1-26 1 6 1-23 1 82 1-45 1-46 1 62 1-19 1 24 1-62 1 60 1 23 1-36 1-8 1-26 1-18 1 36 1 2 1 10 1-44 1-20 1 68 1-35 1-38 1 74 1-21 1-40 1 17 1-3 1 2 1 8 1-37 1 96 1-38 1 15 1 2 1-20 1-15 1-1 1-1 1 4 1-12 1 3 1-21 1 66 1-2 1-44 1 81 1-55 1-27 1 47 1-16 1 52 1-75 1 59 1-39 1-8 1 62 1-10 1-17 1-83 1 104 1-50 1-61 1 65 1-57 1 39 1-6 1 44 1 22 1-66 1-8 1-15 1 41 1 16 1-37 1 43 1 37 1-11 1-14 1-38 1-15 1 21 1 5 1 9 1-5 1-52 1 51 1 0 1 17 1-38 1 28 1-8 1-4 1 13 1-12 1-10 1-11 1 33 1-43 1 43 1 1 1-45 1-1 1-1 1 22 1-26 1 47 1-20 1-23 1 12 1 10 1-20 1 70 1-47 1-10 1 2 1 6 1 28 1-37 1 23 1-65 1 55 1-18 1-14 1 27 1 38 1-73 1 31 1-31 1 71 1-22 1 12 1 42 1-112 1 33 1 7 1 37 1-37 1-32 1 33 1 27 1-33 1 48 1-27 1-28 1 63 1-86 1 60 1-61 1 29 1-17 1 51 1-48 1 62 1-37 1 39 1 16 1-52 1 24 1-49 1 27 1 5 1 17 1-10 1 5 1-12 1-26 1 89 1-41 1-34 1-22 1 76 1-21 1-15 1 9 1 11 1-10 1-3 1-17 1 62 1-53 1-8 1-28 1-9 1 54 1-28 1 24 1 14 1-26 1-16 1 18 1 32 1-43 1 1 1 6 1-5 1 33 1 27 1-39 1-22 1-16 1 28 1 31 1 22 1-48 1-18 1 56 1 12 1-57 1-3 1 34 1-36 1 11 1 34 1 26 1-87 1 49 1-8 1-36 1 69 1-67 1 40 1 7 1-42 1 65 1-34 1 36 1-1 1-25 1-83 1 74 1-58 1 64 1-12 1-9 1 11 1 1 1 34 1-19 1-47 1 31 1-49 1 46 1-12 1 31 1-46 1 41 1-7 1-26 1 42 1 15 1-76 1-12 1 18 1 19 1 43 1 6 1-22 1-33 1-10 1-8 1 46 1-11 1 28 1-35 1-13 1 8 1-21 1 12 1 52 1-21 1-30 1-20 1 42 1-51 1 20 1 11 1-34 1 4 1 103 1-55 1-42 1 21 1-2 1 16 1 26 1 4 1-8 1-37 1 18 1 32 1-51 1-11 1 0 1 83 1-86 1 44 1 45 1-47 1 48 1-44 1-19 1 3 1-47 1 71 1-22 1 7 1 10 1-68 1 49 1 20 1-22 1-48 1 13 1 44 1-39 1-2 1 25 1-37 1 37 1-50 1 97 1-62 1 60 1-41 1-42 1 38 1-4 1 26 1-37 1-14 1-21 1 24 1 47 1-4 1-52 1 11 1 49 1-63 1 48 1-7 1-7 1 4 1-36 1 44 1 17 1 24 1-17 1-79 1 16 1 50 1-2 1 5 1 7 1 15 1-65 1 87 1-34 1-6 1-31 1 42 1-52 1 46 1-16 1-54 1 7 1 2 1 3 1 50 1-19 1 35 1-47 1 56 1-46 1-50 1 63 1-8 1-27 1 8 1 31 1-33 1 29 1-10 1-7 1 5 1-23 1 18 1-25"/>
<path transform="translate(140.5,0) scale(0.256167,0.1)" vector-effect="non-scaling-stroke" stroke="#008000" d="M0 4750 l1-71 1 40 1 29 1-56 1 26 1-12 1 60 1-55 1 39 1-38 1 54 1-57 1-8 1 29 1 96 1-93 1-50 1 16 1 132 1-95 1 6 1 15 1 58 1-38 1-2 1-20 1-33 1 30 1-20 1-46 1-26 1 141 1-8 1-18 1-5 1-13 1-57 1-4 1 20 1 3 1-9 1-21 1 82 1-2 1 43 1 6 1-100 1 51 1-27 1 16 1 73 1-14 1-50 1 23 1-17 1-35 1-2 1-22 1 97 1-106 1 21 1 10 1-30 1 104 1-44 1-108 1 42 1 82 1-60 1 31 1 4 1-4 1-34 1 27 1 6 1-40 1 51 1-10 1 9 1 17 1-35 1-39 1 83 1-17 1-68 1 0 1 64 1 11 1-97 1 55 1-10 1 14 1 32 1 54 1-112 1 104 1-20 1 39 1-81 1 9 1 31 1-25 1 57 1-56 1 25 1-21 1-54 1 68 1-57 1 23 1-7 1 28 1-79 1 109 1-17 1-32 1-45 1-7 1 35 1-22 1 34 1 16 1 9 1-23 1-47 1 117 1 6 1-114 1 20 1 100 1-22 1-54 1 21 1-89 1 57 1 55 1-136 1 107 1-68 1 121 1-126 1-3 1 25 1-3 1 40 1 42 1-107 1 36 1 38 1-64 1 72 1-9 1 1 1-22 1 31 1 27 1-61 1 56 1-44 1-75 1 125 1-42 1 42 1-73 1 21 1-24 1-36 1 69 1 55 1-58 1-21 1-15 1-28 1 65 1 15 1-42 1-2 1-9 1-16 1 101 1-25 1-30 1-52 1 28 1 64 1-2 1 42 1-47 1-32 1-6 1-77 1 112 1-109 1 69 1-12 1 36 1 8 1 6 1-5 1-24 1 26 1-13 1-54 1 66 1-44 1 32 1 14 1-48 1-27 1 84 1-57 1 12 1 40 1-63 1 27 1 16 1-64 1 12 1 30 1 41 1-112 1 99 1 7 1-56 1 14 1-64 1 100 1-57 1 38 1-65 1 94 1-68 1 22 1 37 1-25 1-46 1 38 1 19 1-21 1 1 1-14 1 1 1 6 1-32 1 55 1 7 1-45 1-3 1 6 1-9 1 34 1 21 1-7 1 15 1-75 1 77 1-49 1 13 1-26 1-9 1 15 1-23 1 2 1-27 1 105 1 22 1-59 1-65 1 65 1 61 1-114 1 109 1-40 1-104 1 106 1-12 1-23 1-50 1 42 1 92 1-95 1-38 1 80 1-15 1-34 1 53 1-51 1 15 1-25 1 83 1-47 1-39 1 105 1-46 1-26 1 42 1-70 1 25 1-4 1 50 1-48 1 31 1-12 1-3 1-32 1 46 1-101 1 51 1-42 1 102 1 4 1-78 1 58 1-50 1 78 1-63 1 107 1-43 1 4 1-67 1-56 1 51 1 17 1-4 1-16 1-2 1-5 1 121 1-107 1-2 1-61 1 117 1-41 1-16 1-6 1 1 1 82 1-72 1 96 1-26 1-58 1-42 1 90 1-47 1-7 1 35 1 48 1-156 1 31 1 14 1 96 1-73 1 63 1 19 1-88 1 17 1 9 1 13 1-23 1 19 1-96 1 51 1-23 1 90 1-62 1-13 1 26 1 45 1 29 1-110 1 36 1 55 1-67 1 80 1-64 1 66 1-16 1-33 1-30 1-31 1 44 1 86 1-136 1 71 1-20 1 25 1-32 1 17 1-24 1 64 1-73 1-4 1 99 1-80 1 27 1-59 1 9 1 37 1-42 1 20 1-24 1 29 1-29 1 45 1-90 1 100 1-2 1-22 1 90 1-68 1 40 1-14 1-41 1-33 1 13 1 18 1-33 1 32 1 4 1-40 1 46 1-41 1 97 1-103 1 46 1-30 1-66 1 28 1 37 1-17 1 95 1-83 1 38 1-17 1-7 1 6 1 21 1-6 1-57 1 39 1-19 1 23 1-18 1 36 1-77 1 15 1 90 1-47 1 48 1-32 1-37 1 55 1-45 1-17 1 70 1-89 1 75 1-34 1-69 1 56 1-51 1 19 1 31 1 44 1-126 1 108 1-19 1 5 1-3 1 42 1-25 1-40 1-93 1 71 1 16 1-6 1-40 1 81 1-61 1-45 1 65 1-83 1 66 1-8 1-10 1 22 1-61 1-5 1-4 1 24 1-86 1 50 1 60 1 5 1-80 1 38 1-59 1-20 1 5 1-33 1-80 1 26 1-23 1-8 1-39 1 9 1-63 1-2 1-73 1-34 1-45 1-67 1-23 1 27 1-48 1-114 1 38 1-103 1-65 1-118 1-57 1-39 1 1 1-119 1-15 1-97 1-13 1-36 1-125 1-123 1 9 1-80 1 0 1-59 1-119 1 11 1 10 1 0 1-53 1-35 1 2 1 96 1-116 1 103 1-32 1 74 1 11 1 93 1-76 1 96 1 148 1 4 1-2 1 143 1 15 1 144 1-44 1 136 1 36 1 23 1 28 1 170 1 81 1-10 1-49 1 172 1 130 1-120 1 26 1 136 1 44 1 17 1 64 1 89 1-107 1 178 1 13 1 51 1-87 1 51 1-39 1 59 1 21 1-62 1 48 1 80 1-45 1 63 1 44 1-38 1-38 1 6 1 35 1 35 1 46 1-45 1 0 1 4 1 92 1-24 1-44 1-96 1 166 1-31 1-31 1-49 1 93 1 44 1-156 1 114 1-40 1 39 1-93 1 89 1-47 1-6 1 116 1-121 1 46 1 78 1-61 1-41 1-39 1-26 1 69 1-47 1 67 1 21 1 2 1-89 1 57 1 6 1 47 1-58 1 12 1-51 1 83 1-16 1-23 1 20 1-17 1 70 1-5 1-66 1 14 1-1 1 99 1-63 1-27 1 4 1-60 1 59 1-4 1-16 1 24 1 19 1-58 1 52 1-61 1 119 1-48 1-103 1 77 1-12 1 104 1-77 1 44 1-30 1 61 1-55 1-57 1 41 1-28 1 13 1-16 1 21 1 78 1-41 1-37 1-6 1 38 1 2 1 12 1-26 1-27 1 64 1-42 1 67 1-42 1 54 1-74 1-46 1 41 1 4 1-1 1-76 1 70 1 11 1 69 1-96 1-1 1 59 1 21 1-18 1-17 1 8 1-52 1-30 1 22 1 101 1-50 1-81 1 77 1-56 1 61 1-6 1-56 1-44 1 92 1-24 1-48 1-60 1 95 1-46 1 57 1-45 1-2 1-45 1 1 1 55 1 26 1-27 1-142 1 43 1-8 1-16 1-68 1 42 1-56 1 118 1-78 1 78 1-79 1-34 1 21 1-20 1 87 1-54 1-97 1 72 1 41 1-48 1 45 1-42 1-24 1 28 1 48 1 13 1-8 1-69 1 155 1-68 1 20 1-12 1 83 1-40 1 63 1-26 1 10 1-13 1-29 1 111 1-41 1 57 1 39 1-127 1 75 1-31 1-25 1 5 1 64 1 45 1-99 1 27 1-1 1-34 1 80 1-26 1-19 1-11 1 6 1 21 1-82 1 117 1-61 1 19 1-8 1-37 1 85 1-62 1 15 1 12 1-75 1 144 1-39 1-104 1 81 1-55 1 82 1-96 1 58 1-25 1 45 1-13 1-15 1 20 1 23 1-17 1 81 1-136 1 10 1 82 1-89 1 54 1 53 1-130 1 108 1 44 1-91 1-67 1 5 1 39 1 115 1-65 1-27 1 38 1-15 1-18 1-46 1 130 1-56 1-41 1 23 1 10 1 79 1-90 1-3 1-2 1 40 1-9 1-64 1 86 1-108 1 87 1 28 1-106 1 57 1-63 1 94 1-34 1 32 1-42 1-18 1-31 1 90 1-39 1-12 1-53 1 89 1 24 1-36 1-26 1 19 1 90 1-76 1-43 1 100 1-80 1-59 1 82 1 41 1-73 1 8 1 106 1-114 1 43 1-17 1 50 1-42 1-29 1 95 1-71 1 7 1 24 1-81 1 45 1 19 1 7 1-51 1 4 1 17 1-6 1 44 1 6 1-20 1-27 1 28 1-32 1-46 1 138 1-110 1 4 1 48 1-88 1-1 1 19 1 15 1 129 1-98 1 65 1-31 1-21 1 41 1-98 1 27 1-2 1 60 1-62 1 40 1-66 1 14 1 11 1 61 1-53 1 85 1-39 1-32 1 53 1-2 1-107 1 92 1 50 1-9 1-78 1-58 1 0 1 0 1 73 1 22 1-72 1 136 1-73 1 45 1-70 1 98 1-46 1-8 1-57 1 2 1 110 1-106 1 44 1 26 1-59 1 24 1 22 1 12 1 35 1-95 1 53 1 19 1-70 1-24 1 59 1 62 1-48 1-85 1 37 1 15 1-30 1 74 1 37 1-43 1 19 1 22 1-25 1-46 1-29 1-10 1 97 1-109 1 26 1-30 1 36 1 41 1-77 1 54 1-64 1 29 1-6 1 65 1 25 1-71 1 27 1-69 1 10 1 52 1 10 1-13 1 25 1-55 1 2 1 50 1-60 1 9 1 7 1 30 1-51 1 99 1-12 1-54 1-48 1 137 1-86 1 65 1-46 1-4 1 19 1-29 1 37 1-8 1-48 1 10 1 14 1 59 1-33 1 6 1-49 1 19 1 13 1-77 1 62 1-49 1 20 1-17 1 86 1-54 1-31 1 25 1 18 1 5 1-29 1-5 1 10 1 36 1 9 1 54 1-74 1 26 1-41 1 18 1-10 1 20 1-54 1 6 1-38 1 3 1 69 1 51 1-50 1-23 1-42 1 36 1 28 1-32 1 52 1-21 1 51 1-36 1 29 1-47 1-57 1 28 1-16 1 127 1-96 1-1 1-4 1 48 1-65 1 81 1-2 1-12 1-34 1 15 1 9 1-31 1 24 1-31 1 36 1-46 1 54 1 1 1 16 1-59 1 22 1 18 1-2 1-60 1-39 1 128 1-114 1 114 1-83 1-28 1 25 1 3 1 114 1-102 1 28 1-45 1-2 1 43 1-24 1 9 1 64 1-27 1-11 1 45 1-31 1-30 1-55 1 98 1-73 1 60 1-9 1 4 1-27 1-33 1 49 1 18 1-74 1 22 1 52 1-6 1-20 1 19 1-42 1-29 1 21 1 30 1-60 1-5 1 62 1 3 1 80 1-109 1 45 1-46 1 23 1-54 1 66 1 13 1-79 1 114 1-20 1 25 1-24 1-49 1 9 1 18 1-24 1 36 1 39 1-4 1-30 1 12 1-39 1 45 1-11 1-27 1-29 1 58 1-71 1 42 1-72 1 86 1 25 1-77 1 42 1-29 1-24 1 64 1-27 1 5 1-57 1 31 1 14 1 49 1 40 1-60 1 14 1-49 1 12 1 49 1-49 1 36 1 4 1-84 1 45 1 4 1 35 1-8 1-10 1-11 1 26 1-111 1 156 1-45 1-29 1-54 1 75 1-51 1 57 1-19 1-90 1 84 1-39 1-35 1 43 1 51 1-15 1-21 1-15 1 49 1-8 1-7 1-55 1 80 1-2 1 2 1-2 1-39 1-20 1-14 1 20 1 52 1-62 1 32 1 70 1-116 1 53 1 30 1-92 1-20 1 120 1-37 1-6 1 33 1-59 1 27 1-15 1-4 1 40 1-48 1 40 1-7 1-79 1 84 1-1 1-19 1-48 1 7 1-28 1 26 1 99 1 6 1 25 1-79 1 32 1-73 1 25 1 76 1-81 1-51 1 97 1-54 1 44 1 31 1 7 1-18 1-99 1 124 1-65 1 29 1 51 1-111 1 52 1 23 1-45 1-29 1 88 1-20 1-37 1 48 1 22 1 13 1-99 1 81 1-40 1-50 1 76 1-63 1-32 1 8 1 93 1-61 1 65 1-15 1-3 1-83 1 106 1-88 1-28 1 71 1-58 1 68 1-72 1 13 1 31 1 34 1 23 1-21 1-51 1 41 1 4 1-24 1-13 1 64 1-128 1 14 1 143 1-50 1-107 1 70 1 7 1-2 1 81 1-94 1-28 1-11 1 83 1-26 1 32 1-59 1 33 1-27 1 16 1 40 1 20 1-107 1 72 1 11 1-18 1-22 1-38 1 115 1-53 1 12 1 36 1-146 1 42 1 32 1-15 1-17 1-42 1 80 1-29 1-8 1 37 1-25 1-40 1 80 1-44 1 36 1-27 1-15 1 44 1-27 1-55 1 77 1-83 1 133 1-42 1-39 1 16 1 15 1 6 1-66 1 56 1-67 1 7 1-18 1 124 1-20 1-20 1-50 1 67 1 53 1-78 1-76 1 39 1 92 1-79 1 43 1-12 1-3 1 64 1-58 1-27 1 11 1 20 1 1 1-48 1 20 1 24 1-25 1-8 1-52 1 132 1-66 1 61 1-105 1 45 1 45 1-34 1-28 1 56 1 42 1-48 1-23 1 29 1 16 1-62 1-57 1 17 1 57 1 33 1-64 1 22 1-17 1 33 1 64 1-76 1 41 1-63 1 50 1-18 1 26 1-60 1 14 1 34 1 35 1-86 1 55 1 50 1-68 1 4 1 27 1-36 1-14 1-24 1 46 1-32 1 46 1-63 1 28 1 4 1 82 1-100 1 22 1 20 1-38 1 29 1 6 1-19 1 25 1 19 1-3 1-14 1 11 1-66 1 107 1-46 1 11 1-99 1 66 1 19 1-15 1 47 1-29 1 4 1-37 1 11 1-11 1 53 1-56 1 8 1-47 1 20 1-43 1 57 1 24 1 28 1-53 1 10 1 59 1-21 1-4 1-22 1-69 1-16 1 17 1 5 1 82 1 50 1-43 1 9 1-64 1 19 1-2 1-10 1-26 1 50 1 19 1-70 1 90 1-22 1 6 1-47 1 74 1-80 1 18 1 13 1-48 1 41 1 11 1-47 1 36 1-31 1-28 1 70 1-40 1 48 1-7 1-47 1 12 1-35 1 45 1 13 1-38 1 20 1 55 1 19 1-90 1 58 1-23 1 1 1 10 1-23 1 3 1 18 1-5 1 30 1-3 1-43 1-17 1-18 1 86 1-90 1-7 1 73 1-14 1 62 1-72 1-6 1-23 1-32 1 122 1-113 1-43 1 32 1 91 1-123 1 22 1 18 1 40 1-96 1 44 1 12 1 39 1-86 1 15 1-31 1 41 1-39 1 84 1-80 1-33 1 57 1-45 1-19 1 15 1-12 1-9 1 6 1 19 1 8 1-29 1 28 1 38 1-30 1-39 1 56 1-92 1 72 1 15 1-3 1 78 1-99 1 65 1 4 1 15 1-104 1 38 1-1 1 7 1 37 1-21 1-38 1 84 1-17 1 10 1 13 1-8 1 23 1 31 1-65 1 41 1 52 1-129 1 61 1 25 1 35 1-52 1 85 1-45 1-40 1 8 1 21 1-23 1 0 1 42 1-42 1 78 1-1 1-79 1-41 1 30 1 53 1-1 1-60 1 12 1 62 1-50 1 26 1-16 1 14 1-59 1 54 1-27 1-49 1 64 1-36 1-42 1-23 1 100 1 40 1-108 1-2 1 49 1-57 1 65 1-90 1 67 1 29 1-40 1 26 1-10 1-53 1-7 1 29 1-58 1 24 1 19 1-37 1 0 1 110 1-89 1-32 1 12 1 62 1-1 1-17 1 33 1-86 1 44 1-76 1 133 1-47 1 15 1-4 1 12 1 1 1-62 1 38 1-6 1 27 1-6 1 7 1 0 1-17 1-55 1 55 1 25 1 7 1 16 1 4 1-23 1 56 1-138 1 71 1 50 1-2 1 13 1-55 1 19 1 19 1-29 1-63 1 119 1-135 1 38 1 81 1-6 1-26 1-31 1-19 1 44 1-84 1 40 1-35 1-17 1-41 1 91 1-173 1 149 1-45 1-53 1 4 1-8 1-21 1-128 1 54 1-47 1 31 1-18 1 5 1-9 1-2 1-69 1 0 1-6 1-9 1 8 1 24 1-70 1-88 1 22 1 115 1 19 1-87 1 61 1-13 1-44 1 15 1-57 1 105 1-70 1 8 1 116 1-28 1-10 1 92 1-50 1-35 1 176 1-51 1 33 1 26 1 49 1-74 1 1 1 27 1 36 1 82 1-128 1 51 1 42 1-24 1 1 1-1 1 53 1-36 1 43 1-38 1 25 1 12 1 63 1-42 1 13 1 15 1 25 1 39 1-110 1 25 1-20 1 108 1-113 1 28 1 37 1-63 1-30 1-24 1 155 1-92 1 70 1-120 1 80 1-61 1-29 1-3 1 94 1-27 1-51 1 8 1-15 1-8 1-26 1 8 1 10 1-53 1 67 1-101 1 36 1 121 1-36 1-117 1 51 1 100 1-17 1-26 1-40 1-18 1 76 1-81 1 67 1-5 1 79 1-114 1 74 1-69 1 26 1-45 1 108 1-68 1-22 1 56 1 37 1-25 1 38 1-66 1 48 1 89 1-70 1 0 1 39 1-7 1-18 1 2 1 13 1-36 1 77 1-117 1 97 1-4 1 64 1-119 1-5 1 89 1-28 1-13 1 0 1 24 1-9 1-77 1 24 1 59 1-70 1 42 1 91 1-99 1 18 1-40 1 40 1-45 1 96 1-7 1-24 1-60 1 74 1-38 1-48 1 27 1 33 1 31 1 27 1 19 1-65 1 14 1-21 1 45 1-25 1-48 1 1 1 11 1 14 1-76 1 80 1-21 1 39 1-32 1 71 1-129 1 52 1 92 1-31 1-94 1 76 1-30 1 14 1-30 1-8 1 15 1 15 1 44 1-39 1-35 1 7 1 36 1-35 1-24 1 29 1-17 1 29 1 7 1-50 1 8 1 27 1 6 1-3 1 29 1 54 1-70 1-13 1 2 1-25 1-24 1 12 1 74 1 16 1-18 1-102 1 28 1 122 1 0 1-60 1-50 1-10 1-30 1 101 1-62 1 40 1-32 1 86 1-55 1-5 1-9 1-15 1 60 1-58 1 72 1-50 1 27 1-23 1-54 1 47 1 79 1-62 1 20 1-45 1 10 1 9 1-8 1 26 1 3 1-56 1 40 1-11 1 9 1-21 1 13 1 30 1 5 1-16 1 18 1 23 1-57 1 70 1-108 1 66 1-61 1 93 1-131 1 122 1 18 1-77 1 26 1-28 1 34 1 44 1-44 1-33 1 36 1 18 1 14 1-95 1 28 1-7 1-43 1 55 1 65 1-113 1-3 1 3 1 37 1 27 1-25 1-13 1 31 1-83 1 122 1-105 1 80 1-47 1 6 1-43 1 57 1 3 1 32 1-37 1 78 1-102 1 29 1 52 1-94 1 84 1-64 1-24 1 80 1-16 1 29 1-62 1-43 1 41 1 50 1-75 1 114 1-94 1 44 1-22 1 9 1 4 1-15 1-4 1 32 1-66 1 57 1-76 1 76 1-29 1-49 1 39 1 8 1 0 1 55 1-20 1-82 1 28 1 56 1-50 1 47 1-61 1-9 1 51 1-56 1-17 1-1 1-21 1 74 1-88 1 11 1 10 1-8 1-17 1 101 1 13 1 29 1-82 1-5 1 20 1 62 1-61 1 58 1-132 1 130 1-28 1 31 1-23 1-33 1 28 1 48 1-46 1 45 1-24 1-104 1 62 1-59 1 88 1-86 1 69 1 76 1-34 1 14 1-49 1-57 1 90 1 10 1-56 1-20 1 27 1-39 1-12 1 46 1-7 1 26 1 8 1 30 1-58 1-21 1 73 1-41 1 15 1 23 1-16 1 1 1 3 1-12 1-8 1-22 1 67 1-76 1-27 1 13 1 31 1 40 1-71 1 70 1 15 1-54 1 24 1-37 1 25 1-39 1 2 1-35 1 104 1-103 1 78 1-32 1 4 1 60 1-80 1 115 1-65 1-36 1-6 1 21 1 86 1-9 1-22 1-95 1 97 1-83 1 21 1-12 1 33 1-46 1 30 1-11 1-25 1 32 1 42 1-38 1-5 1 31 1 39 1-23 1 6 1-9 1-34 1-2 1 5 1-15 1 35 1-35 1 93 1-40 1-56 1 6 1 10 1 40 1-20 1-67 1 92 1-49 1-46 1 52 1 43 1 22 1-97 1 60 1-21 1 25 1 12 1 31 1-52 1 53 1-109 1 11 1 80 1-39 1 11 1-22 1 62 1-102 1 35 1 4 1-50 1-15 1 86 1-37 1 47 1-55 1-24 1 34 1-20 1 48 1 25 1-29 1-30 1 44 1-51 1-21 1 35 1 54 1 5 1-90 1 15 1 15 1 27 1-25 1 72 1-24 1-22 1 27 1-59 1 32 1-26 1 8 1-4 1 19 1-84 1 89 1-63 1 59 1-1 1-83 1 53 1 68 1-42 1 56 1-46 1 53 1-53 1-37 1 45 1-12 1-12 1-7 1-24 1 39 1-18 1 72 1-45 1 48 1-48 1 21 1-62 1 49 1-27 1-3 1-38 1 93 1-107 1 124 1-31 1-43 1 1 1 27 1 3 1-95 1 65 1 43 1-49 1 2 1 44 1 34 1-22 1-56 1-13 1 15 1 5 1-21 1 43 1-19 1-25 1-28 1-23 1 81 1-7 1-57 1 51 1-53 1 32 1-13 1 69 1 30 1-28 1 1 1-28 1-3 1-11 1 4 1-2 1 40 1-47 1-18 1 29 1-11 1 81 1-124 1 72 1-47 1 104 1-53 1-21 1 40 1-24 1-52 1 103 1-64 1-1 1-40 1 70 1-19 1-50 1 35 1-12 1-55 1 78 1 15 1-49 1 30 1 33 1-6 1-35 1 8 1 5 1-40 1 27 1 30 1-21 1-19 1 31 1-13 1 37 1-57 1 9 1 8 1-56 1 34 1-47 1 37 1 96 1-70 1 20 1-83 1 1 1 39 1 31 1 21 1 41 1-53 1 35 1-56 1 14 1-2 1-45 1-14 1 76 1 14 1-39 1 82 1-120 1 91 1-83 1 39 1-22 1 2 1 50 1-10 1 45 1-135 1 41 1 66 1-29 1-8 1 5 1 38 1-48 1-27 1-1 1 55 1-3 1 22 1-11 1-83 1 20 1 58 1-38 1-56 1 78 1 6 1-3 1-13 1 19 1 1 1 19 1 5 1-28 1-28 1 10 1-15 1 24 1 67 1-83 1 26 1-14 1 6 1 13 1-19 1-34 1 77 1-54 1 37 1-61 1 1 1 4 1 39 1 21 1-26 1-45 1-32 1 141 1-51 1-90 1 76 1-28 1 2 1-17 1 21 1 10 1 52 1-73 1-43 1 46 1-46 1 99 1-80 1 59 1-25 1-53 1 119 1-47 1 10 1 11 1-46 1 16 1 37 1-32 1 39 1-58 1 10 1 29 1 20 1-12 1-44 1-16 1 31 1-5 1-7 1-4 1 19 1-25 1 66 1-62 1 9 1-35 1 26 1 59 1-8 1 6 1-73 1 3 1 49 1-76 1 76 1-60 1 80 1-68 1 62 1-24 1 23 1-84 1 39 1 4 1-30 1 23 1-52 1 62 1 2 1 6 1 35 1 0 1-30 1-24 1 25 1-39 1 91 1-26 1-36 1 17 1-29 1 17 1 15 1-22 1 16 1 2 1 14 1-25 1-3 1 20 1-9 1-50 1 28 1 15 1-70 1 113 1-76 1-25 1 41 1 30 1-66 1-4 1 79 1-9 1 9 1-1 1-58 1-35 1 50 1 50 1-82 1 124 1-108 1-19 1 95 1-74 1 11 1 37 1 12 1 6 1-22 1-19 1 21 1-30 1 89 1-106 1 34 1-10 1-58 1 97 1 41 1-42 1-37 1-1 1 1 1-27 1 85 1-73 1 37 1 8 1-31 1 26 1-23 1 28 1 36 1-130 1 58 1-2 1 38 1-57 1-13 1 34 1-14 1 40 1 50 1-45 1-24 1 14 1-2 1 32 1 16 1 8 1-121 1 44 1-13 1 21 1-9 1 9 1 12 1-29 1-18 1 2 1 25 1-12 1 62 1-51 1 14 1 11 1-53 1 88 1-47 1 36 1-47 1 4 1-4 1-8 1 13 1-2 1-17 1 43 1-89 1 60 1-27 1 65 1-45 1 11 1-48 1 85 1 2 1-42 1 16 1 0 1-15 1 6 1-6 1-33 1 34 1-9 1 59 1-19 1-63 1 59 1-53 1 59 1-28 1-52 1 94 1 1 1-24 1 31 1-59 1 72 1-99 1 12 1 8 1-27 1 71 1-21 1-62 1 78 1-85 1 69 1-35 1-57 1 20 1 54 1 47 1-19 1-60 1 55 1 37 1-55 1-9 1-26 1-10 1 91 1-122 1 19 1 79 1-85 1-40 1 103 1-60 1 15 1-70 1 100 1-66 1 9 1 28 1-48 1 34 1-47 1-27 1 39 1-10 1-40 1 36 1-103 1 39 1 86 1-77 1 9 1-20 1-26 1-52 1-13 1 14 1-68 1-31 1-10 1 88 1-13 1-56 1-54 1 103 1-54 1-36 1-33 1-82 1 46 1-31 1 31 1 25 1-44 1-32 1-32 1 36 1-30 1 32 1-17 1-57 1 5 1-34 1 62 1 14 1-17 1 43 1-8 1 17 1-56 1 86 1 20 1-84 1 103 1 1 1 4 1-8 1 86 1-19 1-82 1 63 1 6 1 59 1 2 1 18 1 18 1 45 1 3 1 41 1-91 1 66 1-37 1 92 1-45 1-34 1 44 1 81 1-73 1 103 1-65 1 89 1-95 1 3 1 103 1-77 1 51 1-16 1-10 1 50 1-69 1-21 1 67 1-34 1 92 1 2 1-40 1 47 1-16 1 2 1-49 1 0 1 35 1-27 1 95 1-24 1 34 1-28 1-18 1-53 1-18 1 99 1-17 1 29 1-32 1-41 1-31 1 71 1-67 1-20 1 85 1-34 1 45 1-33 1-10 1-22 1 56 1-21 1-9 1-29 1 22 1 64 1 4 1-75 1 89 1 11 1-69 1-24 1 28 1-60 1 43 1 41 1-29 1-14 1-50 1 140 1-96 1 93 1-69 1 26 1 19 1-7 1 3 1-54 1 24 1-45 1 6 1 1 1 100 1-96 1 8 1 7 1 22 1 24 1-23 1-51 1 30 1-24 1 43 1 8 1-55 1 4 1 62 1-40 1 2 1 29 1-9 1-48 1 43 1-28 1 24 1 46 1-63 1 43 1-28 1-11 1 37 1-43 1 29 1 19 1-7 1-41 1 19 1-64 1 96 1-51 1-24 1 114 1-89 1 12 1 11 1 63 1-88 1-42 1 98 1-63 1 35 1 22 1-92 1 0 1 11 1 68 1-72 1 108 1-43 1-13 1-58 1 84 1-18 1 11 1-64 1 12 1 13 1 38 1-43 1 34 1 15 1 19 1-35 1 31 1 35 1-34 1-17 1 8 1-19 1 42 1-50 1 5 1-3 1-55 1 36 1 82 1-53 1 12 1 2 1 5 1-9 1-39 1-11 1 22 1 43 1-18 1 17 1-69 1 56 1-12 1 20 1 4 1-30 1-57 1 90 1-7 1 15 1-14 1 13 1-43 1-62 1 86 1-10 1-40 1 51 1 39 1-38 1-12 1-25 1 8 1-1 1 52 1 7 1-37 1-20 1 17 1 25 1 23 1-62 1 22 1 11 1 42 1-1 1-122 1 24 1 66 1-2 1-41 1 27 1-5 1 8 1-57 1 88 1-34 1-29 1-13 1 8 1 87 1-57 1-23 1-32 1 77 1-25 1-75 1 45 1 47 1-92 1 138 1-71 1 15 1-66 1 56 1 2 1 10 1 7 1-13 1 3 1-35 1 91 1-93 1 44 1-14 1 24 1-55 1 80 1-23 1-61 1 65 1-7 1 9 1 31 1-62 1-73 1 31 1 59 1-47 1 55 1-57 1 42 1-41 1 27 1-37 1 63 1-24 1 39 1-11 1 7 1-84 1 11 1 73 1-67 1 85 1-72 1-50 1 56 1 22 1 31 1 28 1-3 1-65 1 56 1-8 1-32 1-27 1 50 1-61 1 0 1 0 1-22 1 77 1-27 1-35 1 61 1-31 1-15 1 28 1-40 1 47 1-58 1 102 1-32 1 1 1-12 1-37 1-14 1-4 1 20 1-17 1-40 1 23 1 97 1-22 1-23 1 37 1-79 1 46 1 17 1-27 1-68 1 82 1-35 1 3 1-27 1-16 1 46 1 46 1-16 1 19 1-44 1 0 1 45 1-76 1 18 1 19 1 0 1 64 1-83 1-7 1 4 1 22 1-23 1 32 1-6 1-40 1-33 1 62 1 21 1-10 1-18 1-7 1 23 1 51 1-40 1-78 1 25 1 29 1 23 1-7 1 48 1-90 1 54 1-7 1 11 1-85 1 49 1 27 1 30 1-29 1-1 1 45 1-68 1 18 1-32 1 84 1-59 1 19 1-60 1 17 1 19 1-6 1 41 1-20 1-8 1 26 1 35 1-22 1-67 1 2 1 4 1 47 1-28 1-24 1-43 1 95 1-40 1-46 1 71 1 30 1-57 1 5 1-15 1-50 1 56 1 20 1-53 1 29 1 6 1 39 1-44 1 23 1-12 1 36 1-13 1 6 1-71 1 74 1-6 1-23 1-49 1 39 1 50 1-68 1 46 1-36 1 77 1-125 1 44 1 34 1 2 1-32 1 12 1-40 1 44 1-7 1-46 1 70 1-41 1 41 1 15 1-63 1 94 1-66 1-5 1 21 1-10 1 2 1-21 1 44 1-18 1-52 1 43 1 17 1-84 1 66 1 41 1-78 1 34 1 42 1-90 1 109 1-52 1-63 1 99 1-29 1 0 1 7 1-63 1 52 1-27 1 8 1-63 1 20 1 71 1-61 1 54 1 25 1-53 1 66 1-125 1-5 1 92 1-56 1-29 1 22 1 102 1-83 1 28 1-28 1-53 1 76 1 14 1 30 1-37 1-18 1-1 1-37 1 8 1-11 1 33 1-44 1 48 1 25 1-146 1 121 1-59 1-1 1 25 1-9 1-4 1-43 1 1 1-9 1-52 1 26 1 29 1 14 1-47 1-19 1-1 1-62 1 3 1 28 1 11 1-49 1-32 1 29 1 18 1-71 1 22 1-17 1 33 1-68 1 35 1 18 1-34 1 24 1-38 1 15 1 23 1-29 1 40 1-94 1 18 1-29 1-44 1 119 1-59 1 101 1-105 1 82 1-59 1-8 1 32 1-49 1 101 1-69 1 67 1 0 1 16 1-59 1-17 1 33 1 33 1 0 1 23 1-82 1 103 1-22 1-7 1-10 1 25 1-42 1-4 1-42 1 45 1 94 1-55 1 7 1-52 1-45 1 63 1-10 1-20 1 15 1 15 1-7 1 17 1-35 1 65 1-15 1 6 1 58 1-17 1-55 1 20 1 48 1 22 1-52 1 37 1 4 1 36 1 16 1 7 1 22 1-10 1-3 1-10 1 22 1-44 1 24 1 11 1-23 1 23 1-11 1-28 1 6 1 45 1 0 1 50 1-37 1 31 1-42 1-57 1 59 1-14 1-10 1-12 1-13 1 27 1-27 1 81 1-39 1-4 1-98 1 38 1-10 1 9 1-39 1-13 1-16 1 27 1-16 1-30 1 9 1 7 1-45 1 2 1 83 1-104 1 87 1-41 1-100 1 33 1 3 1-30 1 73 1-45 1 14 1 3 1-32 1-18 1-8 1 27 1-26 1 81 1-23 1-81 1 134 1-59 1 22 1-25 1-6 1 83 1-69 1 8 1 17 1 37 1-32 1 116 1-61 1 55 1 22 1-1 1 12 1-56 1 5 1 41 1 25 1-51 1 36 1 22 1 6 1 27 1-5 1 22 1-75 1 62 1-2 1-26 1 66 1 0 1-42 1-17 1 63 1-74 1 73 1 54 1-43 1-36 1 58 1-12 1-60 1 52 1 48 1-47 1-47 1 26 1 11 1-36 1 57 1-50 1 19 1 25 1-8 1-19 1 21 1 31 1 20 1-56 1 47 1-33 1 8 1 52 1-28 1-36 1-38 1 37 1-16 1 0 1 37 1 22 1-1 1-2 1-5 1-31 1 48 1-45 1 31 1-41 1-2 1 18 1 69 1-53 1-10 1 11 1 34 1-20 1-29 1 15 1-25 1 51 1-40 1-2 1 5 1 10 1-12 1 51 1-34 1-13 1-2 1-29 1 30 1-35 1 80 1-64 1 35 1-24 1 6 1-27 1 57 1-17 1 0 1-9 1-32 1 4 1 15 1 14 1-39 1 9 1 19 1 7 1-10 1-2 1-34 1 8 1 32 1-8 1 82 1-54 1-73 1-2 1 58 1 7 1 59 1-89 1 37 1 1 1 0 1-38 1 48 1-6 1-42 1-9 1 106 1-93 1 73 1-72 1 90 1-56 1-27 1-44 1 31 1-3 1 41 1-20 1 23 1-5 1 37 1 10 1-11 1-59 1 12 1-57 1 96 1-20 1 6 1-10 1-25 1-25 1-18 1 60 1-26 1-20 1 73 1-75 1 60 1-56 1-3 1 69 1 17 1-65 1 6 1 27 1-28 1 30 1-57 1 11 1-4 1 63 1-38 1 25 1-46 1 0 1 49 1-39 1 18 1-9 1 2 1 13 1-65 1 0 1 113 1-22 1 25 1-99 1 32 1-50 1 81 1 48 1-65 1-14 1 31 1 13 1 5 1-16 1-60 1-24 1 64 1 16 1-3 1-26 1 7 1 0 1 32 1 8 1 10 1-57 1-9 1 64 1-26 1 27 1-37 1-40 1-7 1 10 1 20 1 42 1-4 1 6 1-62 1 49 1-18 1 34 1-38 1-2 1-7 1 24 1-17 1 33 1-48 1 81 1-91 1 11 1-5 1 15 1 69 1-26 1 5 1-11 1 12 1-61 1 47 1-5 1 18 1-44 1 60 1 8 1-81 1-35 1 71 1-14 1 38 1-67 1 34 1 40 1-41 1 27 1 32 1-67 1 67 1-75 1-3 1 58 1-44 1-41 1 93 1-10 1-54 1 22 1 2 1-27 1-24 1 32 1-15 1 34 1 19 1-34 1-44 1 92 1-109 1 73 1 7 1 0 1-79 1 90 1-26 1-7 1 28 1-57 1 84 1-69 1 78 1-118 1 85 1-7 1-39 1 34 1-29 1 12 1 17 1 22 1-72 1 102 1-8 1-56 1-52 1 70 1-27 1 76 1-40 1-23 1 22 1 43 1-84 1 0 1 43 1-12 1-31 1 81 1-90 1 42 1-7 1 17 1-2 1-32 1 12 1 41 1-38 1 11 1 34 1-96 1 57 1-7 1-26 1 15 1 54 1-55 1-20 1 57 1-35 1 51 1-65 1 59 1-32 1 34 1-24 1-45 1-6 1 1 1-22 1 12 1 25 1-14 1 24 1 4 1 20 1-15 1-13 1 35 1-2 1-37 1 31 1-17 1-21 1 45 1 43 1-9 1-54 1 8 1 18 1-21 1 25 1-42 1-14 1 56 1 2 1-55 1 37 1-42 1-27 1 55 1-22 1-11 1-8 1 24 1 18 1-8 1 3 1-40 1 79 1-58 1-2 1 72 1-35 1-18 1-37 1 75 1-20 1-6 1-39 1 2 1 68 1-49 1-3 1 14 1 46 1-24 1-48 1 1 1 7 1 61 1-26 1-26 1 22 1 19 1-52 1-14 1 4 1 17 1 29 1 40 1-108 1 114 1-56 1-44 1 51 1-6 1 11 1-7 1 33 1-41 1 2 1-18 1 3 1-10 1 57 1-101 1 51 1-50 1 79 1 20 1-25 1-16 1 34 1-13 1-39 1-9 1 39 1-14 1-4 1 9 1 32 1-7 1-83 1 77 1-16 1 9 1 14 1 24 1-74 1-28 1 43 1 29 1-8 1-26 1 36 1-40 1-44 1 71 1-42 1 74 1 3 1-64 1 23 1-10 1-11 1 10 1 16 1-31 1 46 1 23 1-55 1 19 1 50 1-35 1-44 1 0 1 24 1-9 1 1 1-26 1 31 1-24 1 21 1-2 1 30 1-33 1-12 1-11 1 34 1-37 1-27 1 37 1 20 1-5 1-18 1 1 1 58 1-62 1 32 1 30 1-24 1 38 1-31 1-29 1 53 1-77 1 42 1 58 1-112 1 52 1-17 1-3 1 38 1-19 1 14 1-47 1 64 1-17 1-14 1 37 1-54 1 11 1-27 1 20 1 28 1-5 1-11 1-62 1 52 1 49 1-102 1 101 1-98 1 101 1-38 1-15 1 43 1 27 1-57 1 26 1-24 1-66 1 84 1-74 1 65 1-5 1-17 1 66 1-38 1 25 1-50 1-60 1 69 1-4 1 1 1-22 1 50 1-25 1-35 1 35 1-8 1-5 1 36 1-34 1 18 1 5 1-22 1-25 1 57 1-65 1 53 1 23 1-41 1-20 1-12 1 97 1-51 1-23 1 41 1-36 1 41 1-49 1 15 1 11 1-36 1 27 1 9 1-55 1 34 1-16 1 9 1 15 1-40 1 43 1 29 1-17 1 2 1-11 1 44 1-44 1-32 1 46 1-43 1 44 1-9 1 5 1-29 1-24 1 37 1-44 1 12 1 35 1-13 1 39 1-31 1-8 1 21 1-67 1 50 1-2 1-11 1-39 1-24 1 29 1 47 1-54 1-28 1 122 1-35 1-45 1 17 1 12 1-43 1 20 1 18 1-51 1 99 1-44 1-53 1-6 1 32 1-48 1 12 1 21 1 34 1-7 1-76 1 59 1-27 1-40 1 50 1-9 1-32 1 24 1-13 1 28 1-55 1-19 1 106 1-41 1 32 1-37 1 47 1-39 1 13 1-52 1-37 1 89 1-10 1-14 1 65 1-113 1 72 1 37 1-94 1-1 1-11 1 1 1 11 1 22 1-67 1 14 1 13 1 91 1-34 1-100 1 64 1 29 1-108 1 36 1 37 1-7 1-38 1-15 1 32 1-5 1 41 1-135 1 48 1-7 1 38 1 2 1-29 1 49 1-6 1-61 1-83 1 50 1 37 1-43 1-8 1-26 1 25 1-51 1 25 1-19 1 3 1 79 1-61 1 20 1-51 1 38 1 34 1-107 1 39 1-7 1 8 1 13 1-74 1 43 1-8 1 53 1-26 1 50 1 25 1-89 1 56 1 35 1-24 1-26 1 14 1 29 1 28 1-13 1 9 1 53 1-72 1 38 1 52 1 9 1 13 1 5 1-37 1-34 1 31 1 49 1-34 1 35 1-33 1-11 1 52 1 27 1-70 1 17 1 46 1-7 1 5 1 50 1-8 1-17 1 50 1-89 1-18 1 31 1 79 1-61 1 34 1-40 1 25 1 41 1 5 1-28 1-30 1 101 1-117 1 100 1-50 1-40 1 41 1-6 1-4 1-3 1 92 1-102 1 55 1 11 1 2 1-48 1 43 1-8 1 46 1-90 1 33 1 10 1-2 1-19 1 35 1 10 1-17 1 16 1-36 1 2 1 46 1 5 1-60 1 69 1-109 1 76 1-21 1 1 1-21 1 58 1-65 1 62 1-57 1-7 1 23 1-4 1 54 1-62 1 65 1-6 1-54 1 21 1 29 1-3 1-16 1-32 1-21 1-3 1 20 1 67 1 18 1-52 1 37 1-58 1 56 1 9 1-45 1 7 1 28 1-38 1 7 1-4 1 62 1-65 1-5 1 41 1-60 1-36 1 63 1-2 1-6 1 22 1-58 1 82 1-56 1 54 1-54 1-18 1 16 1 81 1-90 1 36 1-16 1-19 1 60 1 22 1-57 1 10 1-22 1-3 1 54 1-22 1-36 1 34 1 23 1-73 1 60 1-32 1 38 1-27 1-10 1-10 1 80 1-75 1 64 1-59 1-10 1 6 1-6 1 41 1-33 1 18 1 14 1-21 1 2 1 35 1-99 1 82 1 27 1-42 1-24 1 53 1-28 1-4 1-12 1 30 1-30 1 16 1 13 1-13 1 14 1-41 1 31 1 28 1-51 1 33 1-9 1-30 1-1 1 36 1 27 1-69 1 79 1-56 1 50 1-54 1-11 1 36 1 20 1-27 1-14 1 4 1 7 1 16 1-5 1-18 1-3 1 25 1-16 1-34 1 27 1 4 1 56 1-42 1-61 1 37 1 13 1-61 1 90 1-16 1-26 1 27 1-27 1-1 1 5 1 18 1 29 1-76 1 50 1 1 1 18 1-59 1 18 1-44 1 49 1 55 1-50 1 3 1-68 1 117 1-42 1-17 1-28 1 30 1-29 1 34 1 25 1-45 1 6 1 49 1-54 1 52 1-64 1 72 1-52 1 0 1 59 1-50 1 5 1 5 1-14 1-40 1 31 1 10 1 0 1 1 1-2 1-9 1 15 1 9 1 21 1-43 1 16 1 14 1-62 1 63 1 2 1-43 1 33 1-22 1 37 1 13 1-53 1-19 1 73 1-46 1-18 1-20 1 41 1 62 1-84 1 61 1-35 1-28 1 56 1 4 1-21 1-35 1 6 1-34 1 41 1 37 1-7 1-1 1-16 1 30 1-42 1 43 1-34 1-8 1 4 1 0 1-33 1 95 1-99 1 101 1-56 1 8 1 4 1 44 1-30 1-80 1 14 1 13 1-12 1 25 1 9 1-20 1-5 1-1 1 81 1-47 1 46 1-71 1 45 1-71 1 41 1-3 1 12 1-65 1 88 1-26 1 31 1-93 1 49 1 10 1-31 1 52 1 35 1 0 1-47 1-20 1-12 1-37 1 102 1-7 1-56 1 56 1-72 1 70 1-59 1 19 1 67 1 1 1-114 1 48 1 43 1-38 1-7 1-6 1 18 1-32 1-9 1 39 1 13 1-33 1 34 1 8 1-35 1 37 1-19 1-22 1 74 1-63 1 3 1-18 1-12 1 45 1-76 1 74 1 20 1-32 1 2 1-12 1-19 1 0 1 89 1-62 1 17 1 46 1-65 1 39 1-47 1 8 1 19 1 11 1-3 1-67 1 75 1-54 1 27 1-37 1 30 1 2 1-18 1 42 1-34 1 5 1 7 1 2 1-43 1 69 1-19 1-15 1 57 1 2 1-58 1-4 1 17 1-8 1-40 1 30 1-12 1-2 1-7 1 23 1 6 1 31 1-23 1 38 1-40 1-56 1 77 1-7 1-15 1-63 1 42 1-15 1 77 1-47 1-7 1 17 1-24 1-9 1-10 1 63 1-50 1-1 1 27 1 6 1 44 1-51 1 27 1-5 1-30 1 29 1-39 1-26 1 46 1 14 1-46 1 54 1-19 1 6 1 1 1-8 1 1 1-28 1 65 1-67 1 0 1 65 1-90 1 61 1-37 1 2 1-21 1-10 1 57 1 30 1-60 1 28 1-17 1 72 1-89 1 32 1-34 1 3 1-2 1 18 1-13 1 40 1-1 1-11 1-8 1 5 1 4 1-27 1 26 1-42 1 49 1-1 1-43 1 56 1-26 1-45 1 26 1 29 1-69 1 90 1-59 1 40 1 8 1-21 1-7 1 28 1-51 1 27 1 5 1-7 1 2 1-36 1-9 1 25 1 25 1-30 1 6 1 29 1 0 1 5 1-25 1-5 1-48 1 46 1 18 1-6 1 15 1-53 1 19 1 56 1-49 1 16 1-52 1 34 1-33 1 14 1-40 1 85 1-63 1-43 1 52 1 37 1-18 1-36 1-16 1 2 1 42 1-38 1-42 1 67 1-44 1 54 1-13 1-50 1 74 1-70 1 63 1-10 1-31 1-49 1 49 1 4 1-3 1 25 1-29 1-22 1-2 1 34 1-101 1 64 1-63 1 40 1-38 1 78 1-95 1 49 1 39 1-66 1 29 1 25 1 33 1-63 1 38 1-31 1 50 1-1 1-3 1 6 1-80 1 74 1-57 1 30 1-20 1 29 1-56 1 62 1-24 1-13 1 73 1-47 1 25 1 50 1-80 1 6 1 61 1-10 1-34 1 51 1-64 1 94 1-57 1 31 1-8 1-16 1-34 1 28 1 32 1 29 1 34 1-32 1-3 1 50 1-54 1 3 1-4 1 41 1-100 1 72 1-6 1-34 1 78 1-25 1-39 1 32 1 20 1-23 1 11 1-34 1 7 1-1 1 14 1-51 1 46 1 41 1-68 1 33 1-2 1-29 1-6 1 21 1 19 1-15 1-3 1 3 1 4 1-3 1 31 1-16 1-65 1 9 1 0 1 55 1-1 1 4 1 5 1-44 1-18 1 76 1-51 1-10 1 19 1-37 1 40 1 29 1 13 1-84 1 24 1 33 1-25 1 34 1 25 1-84 1 28 1-68 1 34 1-12 1 50 1 2 1 18 1-54 1 59 1-35 1-20 1-23 1-1 1 24 1-35 1 18 1-53 1 41 1 15 1 20 1-34 1-6 1-40 1-22 1 34 1 14 1-80 1-1 1 49 1-5 1-55 1 16 1-28 1 48 1 63 1-55 1-7 1 13 1 5 1-44 1 76 1-73 1 42 1-35 1 57 1-23 1 56 1 8 1 23 1-70 1 32 1-3 1-2 1-29 1-1 1 99 1-80 1 23 1 33 1-6 1 51 1-49 1-39 1 33 1 9 1-53 1 107 1-66 1-17 1-8 1 109 1-49 1 28 1-44 1 7 1 5 1 0 1-13 1-11 1-11 1 20 1 20 1-28 1 28 1-32 1 57 1 14 1 26 1-58 1 62 1-68 1 4 1 3 1 31 1-9 1 6 1 16 1-23 1-15 1 47 1-10 1-29 1 17 1 0 1 3 1 19 1-28 1 7 1 18 1-41 1-20 1 43 1-48 1 31 1 40 1-18 1-35 1 3 1-1 1 30 1 17 1-36 1-19 1 17 1 21 1-22 1 69 1-47 1-63 1 53 1-6 1 16 1 26 1-47 1 2 1 11 1 31 1-70 1 6 1 2 1-9 1 33 1-33 1-19 1 79 1-29 1 66 1-109 1 8 1 47 1 23 1-12 1 28 1-65 1 30 1-9 1 22 1-55 1 92 1-101 1 32 1 70 1-118 1 19 1 22 1 37 1-77 1 53 1-17 1 8 1-3 1 31 1-36 1 35 1-66 1 35 1 49 1-14 1-1 1 10 1-22 1-39 1-21 1 7 1 18 1 45 1-54 1 60 1 29 1-1 1-11 1-85 1 29 1 52 1-60 1 3 1 27 1 17 1-51 1 59 1-20 1-26 1 48 1-72 1 37 1-8 1-14 1 17 1 38 1-26 1 52 1 2 1-57 1-17 1 2 1-27 1 51 1-19 1 7 1-22 1 18 1 43 1-76 1 36 1-16 1 22 1-8 1 64 1-66 1 2 1-44 1 38 1 48 1 5 1-97 1 72 1-44 1-18 1 29 1 1 1 13 1 37 1-12 1-58 1 34 1 12 1-3 1 44 1-93 1 16 1-8 1 43 1-7 1 14 1 0 1 42 1-27 1-1 1 14 1-67 1 20 1-36 1 25 1 2 1-33 1 89 1 4 1 12 1-104 1 7 1 4 1 59 1 2 1 22 1-54 1 27 1-29 1-25 1 20 1 28 1 6 1-65 1-12 1 39 1 5 1 26 1-27 1-2 1 54 1-31 1 41 1-36 1-3 1-13 1-5 1 17 1 1 1-54 1 6 1 18 1-34 1-3 1 81 1-8 1-9 1 7 1-11 1 1 1-2 1 19 1 36 1-41 1-9 1 4 1-14 1 60 1-44 1 26 1 1 1-16 1-20 1 52 1-64 1 11 1 53 1-78 1 22 1 4 1-16 1-7 1 76 1-50 1 12 1-12 1 0 1-57 1 62 1-56 1 55 1 10 1 17 1-7 1-46 1 5 1-29 1 6 1 38 1-18 1 2 1-21 1-20 1 57 1-26 1 79 1-81 1 22 1-7 1 35 1-51 1 5 1 53 1-20 1 22 1-43 1 37 1-39 1 45 1-7 1-60 1 32 1-3 1 10 1-65 1 52 1 34 1-11 1-23 1-19 1-16 1 82 1-47 1-34 1 64 1-64 1-21 1 22 1 78 1-24 1-18 1 40 1-66 1 8 1 2 1-20 1 32 1 12 1 1 1-24 1 41 1 20 1-38 1-43 1 44 1-21 1 25 1-50 1 53 1-48 1 48 1-33 1 3 1 19 1-25 1-1 1 41 1 35 1-21 1-45 1 0 1-45 1 83 1-55 1-13 1 34 1 50 1-6 1-81 1 34 1 28 1 17 1-61 1 38 1 12 1 5 1 6 1-90 1 46 1-8 1 25 1-23 1 36 1-51 1 32 1-8 1-12 1-18 1 1 1-3 1 34 1 9 1 22 1-84 1 13 1 60 1 12 1-11 1-38 1 16 1 1 1-4 1-18 1 27 1-5 1 4 1-34 1-6 1-6 1 23 1-40 1 27 1 13 1-14 1 22 1 2 1-9 1-66 1 3 1 84 1-47 1-44 1 56 1 24 1-48 1 1 1-45 1 37 1-58 1 13 1 6 1 47 1-45 1 34 1 29 1-77 1 42 1-61 1-21 1 26 1 10 1 6 1 5 1-69 1 105 1-41 1-11 1-42 1 61 1-88 1-10 1 58 1-19 1-50 1 87 1-33 1 29 1 39 1-111 1 33 1 13 1 22 1-19 1-1 1-1 1 29 1 28 1 20 1-41 1 13 1-21 1-40 1 62 1-46 1 69 1-7 1 9 1 10 1-58 1 55 1 15 1-25 1 43 1-74 1-10 1 49 1-16 1 15 1 71 1-51 1 22 1-41 1 59 1-23 1-59 1 51 1-53 1 31 1 35 1 5 1 39 1-16 1 2 1-28 1 69 1-30 1-72 1 66 1 16 1-9 1-31 1-15 1 7 1-35 1 91 1-46 1 56 1 9 1-74 1 9 1 16 1 54 1-53 1-24 1 2 1 71 1-87 1-8 1 52 1-23 1 20 1 16 1-21 1-21 1 65 1-63 1-27 1 94 1-49 1 17 1-39 1-6 1-2 1-9 1 10 1-47 1 111 1-37 1 5 1-81 1 102 1-45 1-52 1 62 1-10 1-21 1 50 1 0 1-12 1-31 1 26 1-47 1 33 1-25 1 61 1-22 1-52 1 54 1-18 1 12 1 17 1-17 1-2 1 62 1-89 1 41 1 22 1-27 1-56 1 9 1 12 1 26 1 1 1-33 1 74 1-39 1 2 1-33 1 107 1-13 1-27 1-21 1-38 1 40 1 5 1 3 1-37 1 51 1-52 1 16 1 18 1-23 1 45 1-18 1-9 1 20 1-47 1 84 1-75 1 19 1 43 1-34 1 10 1-36 1 23 1 31 1 12 1 10 1-63 1 33 1-10 1 14 1-3 1-23 1 9 1 4 1-5 1 32 1-14 1-33 1 8 1-17 1 38 1-38 1 59 1-61 1 7 1-11 1 5 1-23 1 100 1-45 1-11 1 18 1-38 1 7 1-42 1 36 1 33 1 10 1-2 1-49 1 19 1 5 1 19 1-59 1 32 1 10 1 1 1-12 1 26 1-42 1-12 1-12 1 31 1 25 1 2 1 4 1 25 1-45 1-4 1 4 1-3 1 20 1-44 1-5 1-6 1 63 1-46 1-22 1 70 1-39 1 17 1-6 1-36 1 86 1-39 1-20 1 9 1 43 1-46 1 40 1 5 1-23 1-60 1 98 1-99 1 61 1-50 1 42 1 12 1-8 1-25 1 44 1-29 1-14 1 35 1-44 1 34 1 30 1-47 1 46 1-16 1-9 1-64 1 65 1 42 1-74 1-1 1 51 1-41 1-9 1 31 1-38 1 26 1 20 1-5 1 28 1-11 1-41 1 1 1-4 1 31 1-2 1 13 1 11 1-38 1 3 1 15 1 38 1-79 1 12 1 71 1-71 1 28 1 9 1 10 1 11 1-1 1-52 1 10 1 29 1-13 1-41 1 45 1 19 1-3 1 8 1-36 1 0 1 10 1-39 1 51 1 1 1-66 1 54 1-20 1-31 1 61 1 1 1-21 1-16 1 30 1-29 1-18 1 11 1 5 1-29 1 44 1-34 1 79 1-100 1 29 1 8 1-18 1 41 1-3 1 11 1 16 1-46 1-21 1 62 1-52 1 33 1-7 1-4 1 41 1 0 1-89 1 50 1 22 1-35 1 26 1-38 1 58 1-21 1-22 1-2 1 73 1-67 1 8 1 13 1-46 1 56 1-7 1-3 1-41 1-1 1 33 1 19 1 7 1-47 1 1 1-3 1 10 1-32 1 32 1 28 1-39 1 42 1 1 1-3 1-34 1 16 1 30 1-30 1 19 1 0 1 3 1-60 1 62 1-4 1 29 1-22 1-51 1-13 1 29 1-9 1-3 1 48 1-66 1 16 1 10 1-8 1 43 1-25 1-1 1 42 1-29 1-20 1-34 1 38 1 19 1-16 1-15 1 9 1 7 1 16 1-35 1 5 1 0 1 13 1-28 1 54 1-53 1 17 1 72 1-41 1-33 1 24 1-24 1 52 1-21 1 22 1-47 1 14 1 56 1-45 1 16 1-6 1-59 1 22 1 0 1 26 1-1 1-19 1 2 1 38 1 1 1 2 1-27 1 46 1-61 1 6 1 24 1-36 1 48 1-42 1-23 1 70 1-48 1-23 1 48 1-31 1 42 1 8 1-55 1 77 1-68 1 25 1-65 1 2 1 68 1 30 1-46 1 30 1-23 1-18 1 12 1-11 1-4 1 46 1-40 1-6 1 4 1 11 1-28 1 28 1-25"/>
</g>
<g shape-rendering="crispEdges">
<g fill="none" stroke="#0000a0" stroke-width="3" stroke-linejoin="miter">
<path d="M277.5,213.2 L290.5,237.5 L264.5,237.5 Z"/>
<path d="M574.0,427.3 L587.0,451.6 L561.0,451.6 Z"/>
<path d="M596.0,378.6 L609.0,402.9 L583.0,402.9 Z"/>
<path d="M613.8,412.8 L626.8,437.1 L600.8,437.1 Z"/>
<path d="M859.3,364.8 L872.3,389.1 L846.3,389.1 Z"/>
<path d="M1009.1,396.0 L1022.1,420.3 L996.1,420.3 Z"/>
<path d="M1040.5,398.7 L1053.5,423.0 L1027.5,423.0 Z"/>
<path d="M1234.4,402.5 L1247.4,426.8 L1221.4,426.8 Z"/>
<path d="M1384.8,415.2 L1397.8,439.5 L1371.8,439.5 Z"/>
<path d="M1429.7,415.2 L1442.7,439.5 L1416.7,439.5 Z"/>
<path d="M1552.5,423.1 L1565.5,447.4 L1539.5,447.4 Z"/>
<path d="M1579.2,435.3 L1592.2,459.6 L1566.2,459.6 Z"/>
<path d="M277.5,558.3 L290.5,582.6 L264.5,582.6 Z"/>
<path d="M574.0,635.7 L587.0,660.0 L561.0,660.0 Z"/>
<path d="M596.0,618.5 L609.0,642.8 L583.0,642.8 Z"/>
<path d="M613.8,639.5 L626.8,663.8 L600.8,663.8 Z"/>
<path d="M859.3,615.7 L872.3,640.0 L846.3,640.0 Z"/>
<path d="M1009.1,629.7 L1022.1,654.0 L996.1,654.0 Z"/>
<path d="M1040.5,619.4 L1053.5,643.7 L1027.5,643.7 Z"/>
<path d="M1234.4,633.3 L1247.4,657.6 L1221.4,657.6 Z"/>
<path d="M1430.7,649.7 L1443.7,674.0 L1417.7,674.0 Z"/>
<path d="M1552.5,649.7 L1565.5,674.0 L1539.5,674.0 Z"/>
<path d="M277.5,845.7 L290.5,870.0 L264.5,870.0 Z"/>
<path d="M574.0,957.5 L587.0,981.8 L561.0,981.8 Z"/>
<path d="M596.0,930.9 L609.0,955.2 L583.0,955.2 Z"/>
<path d="M613.8,953.6 L626.8,977.9 L600.8,977.9 Z"/>
<path d="M859.3,917.5 L872.3,941.8 L846.3,941.8 Z"/>
<path d="M1009.1,935.3 L1022.1,959.6 L996.1,959.6 Z"/>
<path d="M1040.5,930.6 L1053.5,954.9 L1027.5,954.9 Z"/>
<path d="M1234.4,940.0 L1247.4,964.3 L1221.4,964.3 Z"/>
<path d="M1430.7,953.6 L1443.7,977.9 L1417.7,977.9 Z"/>
<path d="M1552.5,953.6 L1565.5,977.9 L1539.5,977.9 Z"/>
<path d="M1579.2,972.3 L1592.2,996.6 L1566.2,996.6 Z"/>
<path d="M277.5,1092.5 L290.5,1116.8 L264.5,1116.8 Z"/>
<path d="M574.0,1172.4 L587.0,1196.7 L561.0,1196.7 Z"/>
<path d="M596.0,1150.1 L609.0,1174.4 L583.0,1174.4 Z"/>
<path d="M613.8,1150.1 L626.8,1174.4 L600.8,1174.4 Z"/>
<path d="M859.3,1138.4 L872.3,1162.7 L846.3,1162.7 Z"/>
<path d="M1009.1,1140.7 L1022.1,1165.0 L996.1,1165.0 Z"/>
<path d="M1040.5,1150.8 L1053.5,1175.1 L1027.5,1175.1 Z"/>
<path d="M1234.4,1150.8 L1247.4,1175.1 L1221.4,1175.1 Z"/>
<path d="M1430.7,1150.8 L1443.7,1175.1 L1417.7,1175.1 Z"/>
<path d="M1552.5,1150.8 L1565.5,1175.1 L1539.5,1175.1 Z"/>
<path d="M277.5,1287.8 L290.5,1312.1 L264.5,1312.1 Z"/>
<path d="M574.0,1466.5 L587.0,1490.8 L561.0,1490.8 Z"/>
<path d="M596.0,1426.5 L609.0,1450.8 L583.0,1450.8 Z"/>
<path d="M613.8,1449.0 L626.8,1473.3 L600.8,1473.3 Z"/>
<path d="M859.3,1386.7 L872.3,1411.0 L846.3,1411.0 Z"/>
<path d="M1009.1,1434.8 L1022.1,1459.1 L996.1,1459.1 Z"/>
<path d="M1040.5,1440.9 L1053.5,1465.2 L1027.5,1465.2 Z"/>
<path d="M1234.4,1444.4 L1247.4,1468.7 L1221.4,1468.7 Z"/>
<path d="M1430.7,1462.2 L1443.7,1486.5 L1417.7,1486.5 Z"/>
<path d="M1552.5,1453.8 L1565.5,1478.1 L1539.5,1478.1 Z"/>
<path d="M1579.2,1471.6 L1592.2,1495.9 L1566.2,1495.9 Z"/>
<path d="M277.5,1601.5 L290.5,1625.8 L264.5,1625.8 Z"/>
<path d="M574.0,1770.1 L587.0,1794.4 L561.0,1794.4 Z"/>
<path d="M596.0,1734.5 L609.0,1758.8 L583.0,1758.8 Z"/>
<path d="M613.8,1752.3 L626.8,1776.6 L600.8,1776.6 Z"/>
<path d="M859.3,1721.4 L872.3,1745.7 L846.3,1745.7 Z"/>
<path d="M1009.1,1734.7 L1022.1,1759.0 L996.1,1759.0 Z"/>
<path d="M1040.5,1743.8 L1053.5,1768.1 L1027.5,1768.1 Z"/>
<path d="M1234.4,1742.4 L1247.4,1766.7 L1221.4,1766.7 Z"/>
<path d="M1430.7,1770.5 L1443.7,1794.8 L1417.7,1794.8 Z"/>
<path d="M1552.5,1762.0 L1565.5,1786.3 L1539.5,1786.3 Z"/>
<path d="M1579.2,1785.5 L1592.2,1809.8 L1566.2,1809.8 Z"/>
<path d="M635.0,92.4 L648.8,116.7 L621.2,116.7 Z" stroke-width="2.5"/>
</g>
<g>
<path d="M477.5,975.7 L490.5,951.4 L464.5,951.4 Z" fill="none" stroke="#646464" stroke-width="3"/><path d="M462.0,949.9 L493.0,949.9 L486.6,961.9 L468.4,961.9 Z" fill="#646464"/>
<path d="M577.8,933.5 L590.8,909.2 L564.8,909.2 Z" fill="none" stroke="#646464" stroke-width="3"/><path d="M562.3,907.7 L593.3,907.7 L586.9,919.7 L568.7,919.7 Z" fill="#646464"/>
<path d="M678.0,949.0 L691.0,924.7 L665.0,924.7 Z" fill="none" stroke="#646464" stroke-width="3"/><path d="M662.5,923.2 L693.5,923.2 L687.1,935.2 L668.9,935.2 Z" fill="#646464"/>
<path d="M846.6,966.6 L859.6,942.3 L833.6,942.3 Z" fill="none" stroke="#646464" stroke-width="3"/><path d="M831.1,940.8 L862.1,940.8 L855.7,952.8 L837.5,952.8 Z" fill="#646464"/>
<path d="M1139.3,995.6 L1152.3,971.3 L1126.3,971.3 Z" fill="none" stroke="#646464" stroke-width="3"/><path d="M1123.8,969.8 L1154.8,969.8 L1148.4,981.8 L1130.2,981.8 Z" fill="#646464"/>
<path d="M1148.2,995.6 L1161.2,971.3 L1135.2,971.3 Z" fill="none" stroke="#646464" stroke-width="3"/><path d="M1132.7,969.8 L1163.7,969.8 L1157.3,981.8 L1139.1,981.8 Z" fill="#646464"/>
<path d="M1394.4,925.7 L1407.4,901.4 L1381.4,901.4 Z" fill="none" stroke="#646464" stroke-width="3"/><path d="M1378.9,899.9 L1409.9,899.9 L1403.5,911.9 L1385.3,911.9 Z" fill="#646464"/>
<path d="M1407.6,925.7 L1420.6,901.4 L1394.6,901.4 Z" fill="none" stroke="#646464" stroke-width="3"/><path d="M1392.1,899.9 L1423.1,899.9 L1416.7,911.9 L1398.5,911.9 Z" fill="#646464"/>
<path d="M635.0,206.2 L648.5,182.2 L621.5,182.2 Z" fill="none" stroke="#646464" stroke-width="2.9"/><path d="M619.0,180.8 L651.0,180.8 L644.9,191.6 L625.1,191.6 Z" fill="#646464"/>
<circle cx="1076.0" cy="190.9" r="12.5" fill="none" stroke="#646464" stroke-width="3"/><path d="M1062.14,192.90 A14.00,14.00 0 1 1 1089.86,192.90 Z" fill="#646464"/>
<circle cx="363.5" cy="664.8" r="12.5" fill="none" stroke="#646464" stroke-width="3"/><path d="M349.64,666.80 A14.00,14.00 0 1 1 377.36,666.80 Z" fill="#646464"/>
<circle cx="481.3" cy="678.0" r="12.5" fill="none" stroke="#646464" stroke-width="3"/><path d="M467.44,680.00 A14.00,14.00 0 1 1 495.16,680.00 Z" fill="#646464"/>
</g>
<g fill="#990000" stroke="#990000" stroke-width="1.5" stroke-linejoin="round">
<path d="M1069.0,92.7 L1085.3,109.0 L1069.0,125.3 L1052.7,109.0 Z"/>
<path d="M331.0,403.8 L347.3,420.1 L331.0,436.4 L314.7,420.1 Z"/>
<path d="M552.5,421.6 L568.8,437.9 L552.5,454.2 L536.2,437.9 Z"/>
<path d="M685.0,431.0 L701.3,447.3 L685.0,463.6 L668.7,447.3 Z"/>
<path d="M1020.8,377.4 L1037.1,393.7 L1020.8,410.0 L1004.5,393.7 Z"/>
<path d="M1235.8,363.3 L1252.1,379.6 L1235.8,395.9 L1219.5,379.6 Z"/>
<path d="M1395.0,428.9 L1411.3,445.2 L1395.0,461.5 L1378.7,445.2 Z"/>
<path d="M331.0,607.7 L347.3,624.0 L331.0,640.3 L314.7,624.0 Z"/>
<path d="M552.5,627.5 L568.8,643.8 L552.5,660.1 L536.2,643.8 Z"/>
<path d="M685.0,641.6 L701.3,657.9 L685.0,674.2 L668.7,657.9 Z"/>
<path d="M1020.8,598.0 L1037.1,614.3 L1020.8,630.6 L1004.5,614.3 Z"/>
<path d="M1080.3,629.9 L1096.6,646.2 L1080.3,662.5 L1064.0,646.2 Z"/>
<path d="M1235.8,574.6 L1252.1,590.9 L1235.8,607.2 L1219.5,590.9 Z"/>
<path d="M1395.0,634.5 L1411.3,650.8 L1395.0,667.1 L1378.7,650.8 Z"/>
<path d="M1417.6,642.5 L1433.9,658.8 L1417.6,675.1 L1401.3,658.8 Z"/>
<path d="M331.0,952.3 L347.3,968.6 L331.0,984.9 L314.7,968.6 Z"/>
<path d="M552.5,952.3 L568.8,968.6 L552.5,984.9 L536.2,968.6 Z"/>
<path d="M685.0,960.3 L701.3,976.6 L685.0,992.9 L668.7,976.6 Z"/>
<path d="M757.6,974.8 L773.9,991.1 L757.6,1007.4 L741.3,991.1 Z"/>
<path d="M1020.8,883.0 L1037.1,899.3 L1020.8,915.6 L1004.5,899.3 Z"/>
<path d="M1235.8,868.0 L1252.1,884.3 L1235.8,900.6 L1219.5,884.3 Z"/>
<path d="M1395.0,953.3 L1411.3,969.6 L1395.0,985.9 L1378.7,969.6 Z"/>
<path d="M1417.6,953.3 L1433.9,969.6 L1417.6,985.9 L1401.3,969.6 Z"/>
<path d="M331.0,1182.8 L347.3,1199.1 L331.0,1215.4 L314.7,1199.1 Z"/>
<path d="M552.5,1179.5 L568.8,1195.8 L552.5,1212.1 L536.2,1195.8 Z"/>
<path d="M1020.8,1111.6 L1037.1,1127.9 L1020.8,1144.2 L1004.5,1127.9 Z"/>
<path d="M1080.3,1191.2 L1096.6,1207.5 L1080.3,1223.8 L1064.0,1207.5 Z"/>
<path d="M1235.8,1103.2 L1252.1,1119.5 L1235.8,1135.8 L1219.5,1119.5 Z"/>
<path d="M1395.0,1188.9 L1411.3,1205.2 L1395.0,1221.5 L1378.7,1205.2 Z"/>
<path d="M1417.6,1188.9 L1433.9,1205.2 L1417.6,1221.5 L1401.3,1205.2 Z"/>
<path d="M331.0,1448.9 L347.3,1465.2 L331.0,1481.5 L314.7,1465.2 Z"/>
<path d="M552.5,1456.8 L568.8,1473.1 L552.5,1489.4 L536.2,1473.1 Z"/>
<path d="M632.1,1461.5 L648.4,1477.8 L632.1,1494.1 L615.8,1477.8 Z"/>
<path d="M685.0,1470.9 L701.3,1487.2 L685.0,1503.5 L668.7,1487.2 Z"/>
<path d="M1020.8,1424.4 L1037.1,1440.7 L1020.8,1457.0 L1004.5,1440.7 Z"/>
<path d="M1080.3,1478.3 L1096.6,1494.6 L1080.3,1510.9 L1064.0,1494.6 Z"/>
<path d="M1235.8,1389.3 L1252.1,1405.6 L1235.8,1421.9 L1219.5,1405.6 Z"/>
<path d="M1270.0,1474.5 L1286.3,1490.8 L1270.0,1507.1 L1253.7,1490.8 Z"/>
<path d="M1395.0,1470.3 L1411.3,1486.6 L1395.0,1502.9 L1378.7,1486.6 Z"/>
<path d="M1417.6,1470.3 L1433.9,1486.6 L1417.6,1502.9 L1401.3,1486.6 Z"/>
<path d="M331.0,1684.5 L347.3,1700.8 L331.0,1717.1 L314.7,1700.8 Z"/>
<path d="M552.5,1729.0 L568.8,1745.3 L552.5,1761.6 L536.2,1745.3 Z"/>
<path d="M632.1,1765.1 L648.4,1781.4 L632.1,1797.7 L615.8,1781.4 Z"/>
<path d="M685.0,1751.1 L701.3,1767.4 L685.0,1783.7 L668.7,1767.4 Z"/>
<path d="M757.6,1777.7 L773.9,1794.0 L757.6,1810.3 L741.3,1794.0 Z"/>
<path d="M1020.8,1715.4 L1037.1,1731.7 L1020.8,1748.0 L1004.5,1731.7 Z"/>
<path d="M1080.3,1768.8 L1096.6,1785.1 L1080.3,1801.4 L1064.0,1785.1 Z"/>
<path d="M1235.8,1715.4 L1252.1,1731.7 L1235.8,1748.0 L1219.5,1731.7 Z"/>
<path d="M1270.0,1764.5 L1286.3,1780.8 L1270.0,1797.1 L1253.7,1780.8 Z"/>
<path d="M1395.0,1746.7 L1411.3,1763.0 L1395.0,1779.3 L1378.7,1763.0 Z"/>
<path d="M1417.6,1769.2 L1433.9,1785.5 L1417.6,1801.8 L1401.3,1785.5 Z"/>
</g>
</g>
<text transform="translate(140.5,2115.5) scale(1,1.035)" font-size="68" text-anchor="middle">20</text>
<text transform="translate(396.7,2115.5) scale(1,1.035)" font-size="68" text-anchor="middle">30</text>
<text transform="translate(652.8,2115.5) scale(1,1.035)" font-size="68" text-anchor="middle">40</text>
<text transform="translate(909.0,2115.5) scale(1,1.035)" font-size="68" text-anchor="middle">50</text>
<text transform="translate(1165.2,2115.5) scale(1,1.035)" font-size="68" text-anchor="middle">60</text>
<text transform="translate(1421.3,2115.5) scale(1,1.035)" font-size="68" text-anchor="middle">70</text>
<text transform="translate(1677.5,2115.5) scale(1,1.035)" font-size="68" text-anchor="middle">80</text>
<text transform="translate(850.5,2179.5) scale(1,1.035)" font-size="80">2θ (<tspan font-size="49" dy="-42.5">o</tspan><tspan dy="42.5">)</tspan></text>
<text transform="translate(93.5,1206.5) rotate(-90) scale(1,1.035)" font-size="79">Intensity (a.u.)</text>
<text transform="translate(727.0,131.2) scale(1,1.035)" font-size="67">Anatase,</text>
<text transform="translate(1161.0,131.2) scale(1,1.035)" font-size="67">Rutile</text>
<text transform="translate(728.0,214.0) scale(1,1.035)" font-size="67">CaTiO<tspan font-size="40" dy="25" dx="2">3</tspan><tspan dy="-25" dx="0.5">,</tspan></text>
<text transform="translate(1170.0,214.0) scale(1,1.035)" font-size="67">CeO<tspan font-size="40" dy="25">2</tspan></text>
<text transform="translate(158.0,545.5) scale(1,1.000)" font-size="67">f</text>
<text transform="translate(147.0,761.5) scale(1,1.000)" font-size="67">e</text>
<text transform="translate(145.0,1076.0) scale(1,1.000)" font-size="67">d</text>
<text transform="translate(148.0,1295.5) scale(1,1.000)" font-size="67">c</text>
<text transform="translate(156.5,1585.0) scale(1,1.000)" font-size="67">b</text>
<text transform="translate(148.0,1893.0) scale(1,1.000)" font-size="67">a</text>
<text transform="translate(1666.2,555.4) scale(1,1.040)" font-size="74.5" text-anchor="end">10%ZrO<tspan font-size="43" dy="27.4">2</tspan><tspan dy="-27.4">-TiO</tspan><tspan font-size="43" dy="27.4">2</tspan></text>
<text transform="translate(1667.4,805.9) scale(1,1.040)" font-size="74.5" text-anchor="end">10%CeO<tspan font-size="43" dy="27.4">2</tspan><tspan dy="-27.4">-TiO</tspan><tspan font-size="43" dy="27.4">2</tspan></text>
<text transform="translate(1669.6,1095.2) scale(1,1.040)" font-size="74.5" text-anchor="end">10%CaO-TiO<tspan font-size="43" dy="27.4">2</tspan></text>
<text transform="translate(1665.2,1315.1) scale(1,1.040)" font-size="74.5" text-anchor="end">10%Ga<tspan font-size="43" dy="27.4">2</tspan><tspan dy="-27.4">O</tspan><tspan font-size="43" dy="27.4">3</tspan><tspan dy="-27.4">-TiO</tspan><tspan font-size="43" dy="27.4">2</tspan></text>
<text transform="translate(1665.5,1635.2) scale(1,1.040)" font-size="74.5" text-anchor="end">10%Cr<tspan font-size="43" dy="27.4">2</tspan><tspan dy="-27.4">O</tspan><tspan font-size="43" dy="27.4">3</tspan><tspan dy="-27.4">-TiO</tspan><tspan font-size="43" dy="27.4">2</tspan></text>
<text transform="translate(1655.2,1962.4) scale(1,1.040)" font-size="74.5" text-anchor="end">TiO<tspan font-size="43" dy="27.4">2</tspan></text>
</svg></body></html>
